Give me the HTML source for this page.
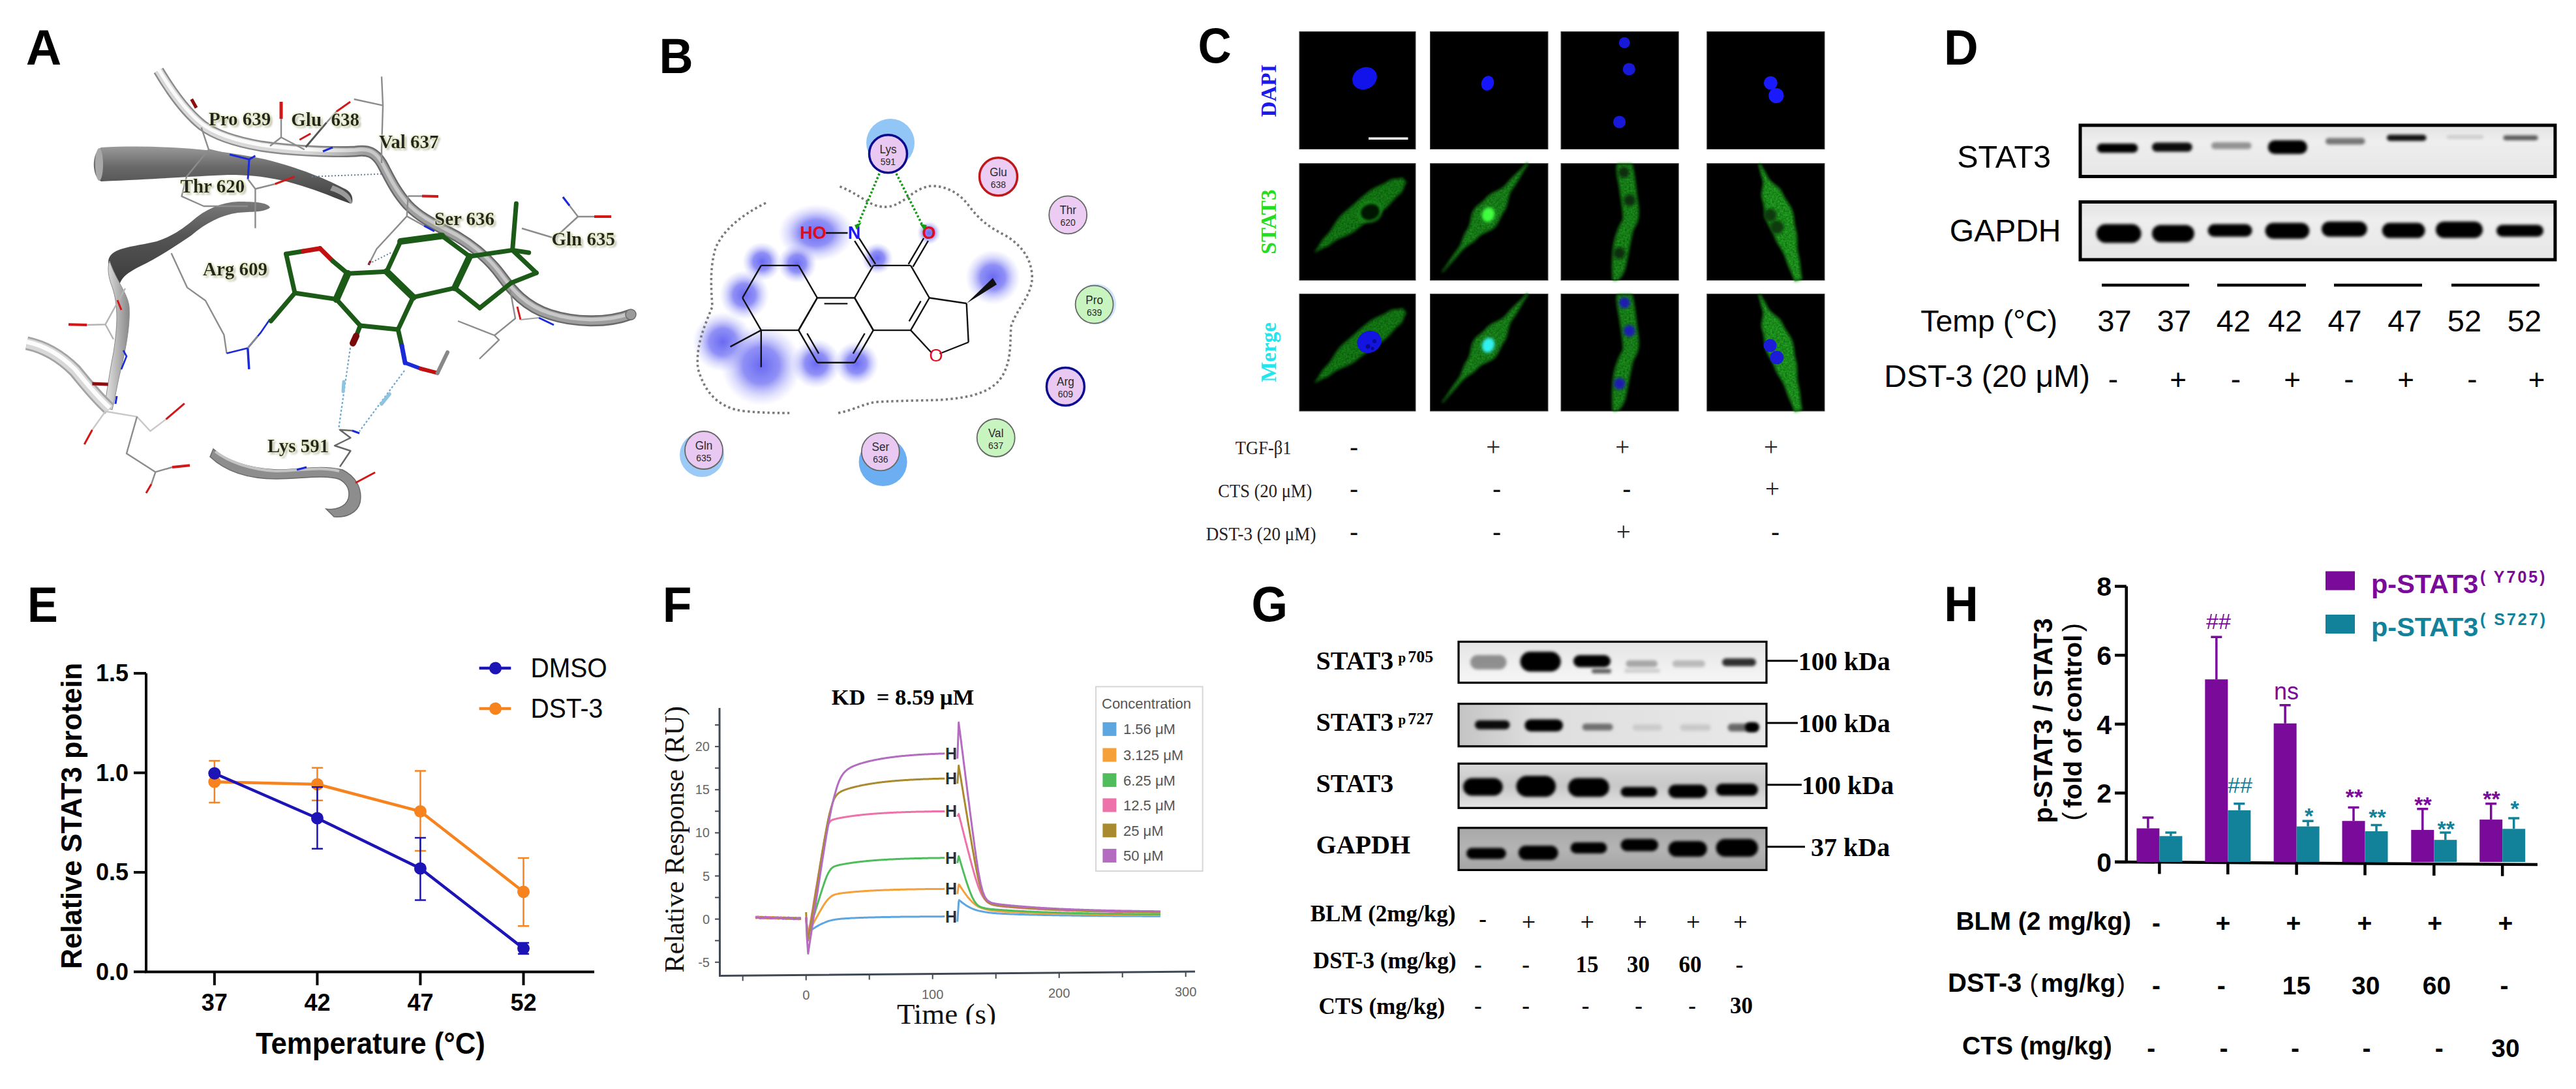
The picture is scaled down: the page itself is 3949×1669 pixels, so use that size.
<!DOCTYPE html>
<html><head><meta charset="utf-8"><style>
html,body{margin:0;padding:0;background:#fff;}
svg{display:block;}
</style></head><body>
<svg width="3949" height="1669" viewBox="0 0 3949 1669">
<defs>
<filter id="bl2" x="-50%" y="-50%" width="200%" height="200%"><feGaussianBlur stdDeviation="2"/></filter>
<filter id="bl3" x="-50%" y="-50%" width="200%" height="200%"><feGaussianBlur stdDeviation="3"/></filter>
<filter id="bl5" x="-50%" y="-50%" width="200%" height="200%"><feGaussianBlur stdDeviation="5"/></filter>
<filter id="bl8" x="-50%" y="-50%" width="200%" height="200%"><feGaussianBlur stdDeviation="8"/></filter>
<linearGradient id="blotD" x1="0" y1="0" x2="0" y2="1"><stop offset="0" stop-color="#e2e2e2"/><stop offset="0.3" stop-color="#eeeeee"/><stop offset="1" stop-color="#e6e6e6"/></linearGradient>
<linearGradient id="gb1" x1="0" y1="0" x2="0" y2="1"><stop offset="0" stop-color="#e4e4e4"/><stop offset="0.5" stop-color="#eeeeee"/><stop offset="1" stop-color="#f6f6f6"/></linearGradient>
<linearGradient id="gb2" x1="0" y1="0" x2="1" y2="0"><stop offset="0" stop-color="#c4c4c4"/><stop offset="0.25" stop-color="#dedede"/><stop offset="1" stop-color="#e8e8e8"/></linearGradient>
<linearGradient id="gb3" x1="0" y1="0" x2="0" y2="1"><stop offset="0" stop-color="#d8d8d8"/><stop offset="0.5" stop-color="#c8c8c8"/><stop offset="1" stop-color="#e4e4e4"/></linearGradient>
<linearGradient id="gb4" x1="0" y1="0" x2="0" y2="1"><stop offset="0" stop-color="#a8a8a8"/><stop offset="0.5" stop-color="#b4b4b4"/><stop offset="1" stop-color="#a4a4a4"/></linearGradient>
<filter id="glow_c" x="-30%" y="-30%" width="160%" height="160%"><feGaussianBlur stdDeviation="2"/></filter>
<filter id="tex" x="0" y="0" width="100%" height="100%"><feTurbulence type="fractalNoise" baseFrequency="0.35" numOctaves="2" seed="3" result="n"/><feColorMatrix in="n" type="matrix" values="0 0 0 0 0  0 0 0 0 0  0 0 0 0 0  0 0 0 -1.6 1.25" result="a"/><feComposite in="SourceGraphic" in2="a" operator="in"/></filter>
<radialGradient id="glowB"><stop offset="0" stop-color="#6262f2" stop-opacity="0.95"/><stop offset="0.45" stop-color="#7474f4" stop-opacity="0.8"/><stop offset="0.75" stop-color="#9a9af8" stop-opacity="0.35"/><stop offset="1" stop-color="#b0b0ff" stop-opacity="0"/></radialGradient>
<linearGradient id="rib1" x1="0" y1="0" x2="0" y2="1"><stop offset="0" stop-color="#9a9a9a"/><stop offset="0.35" stop-color="#6a6a6a"/><stop offset="1" stop-color="#3c3c3c"/></linearGradient>
<linearGradient id="rib2" x1="0" y1="0" x2="0" y2="1"><stop offset="0" stop-color="#7a7a7a"/><stop offset="0.4" stop-color="#555"/><stop offset="1" stop-color="#3a3a3a"/></linearGradient>
<linearGradient id="rib3" x1="0" y1="0" x2="1" y2="0"><stop offset="0" stop-color="#e8e8e8"/><stop offset="0.5" stop-color="#b8b8b8"/><stop offset="1" stop-color="#888"/></linearGradient>
<filter id="lblglow" x="-20%" y="-40%" width="140%" height="180%"><feMorphology in="SourceAlpha" operator="dilate" radius="1.2" result="d"/><feGaussianBlur in="d" stdDeviation="1.6" result="b"/><feFlood flood-color="#e2e8c0"/><feComposite in2="b" operator="in" result="g"/><feOffset in="SourceAlpha" dx="2.5" dy="3" result="o"/><feGaussianBlur in="o" stdDeviation="1.8" result="ob"/><feFlood flood-color="#6a6a55" flood-opacity="0.55"/><feComposite in2="ob" operator="in" result="sh"/><feMerge><feMergeNode in="sh"/><feMergeNode in="g"/><feMergeNode in="SourceGraphic"/></feMerge></filter>
<linearGradient id="tubeg" gradientUnits="userSpaceOnUse" x1="470" y1="0" x2="560" y2="0"><stop offset="0" stop-color="#d8d8d8"/><stop offset="1" stop-color="#9e9e9e"/></linearGradient>
<linearGradient id="tubeg2" gradientUnits="userSpaceOnUse" x1="470" y1="0" x2="560" y2="0"><stop offset="0" stop-color="#8a8a8a"/><stop offset="1" stop-color="#686868"/></linearGradient>
<linearGradient id="tubeg3" gradientUnits="userSpaceOnUse" x1="470" y1="0" x2="560" y2="0"><stop offset="0" stop-color="#fafafa"/><stop offset="1" stop-color="#c8c8c8"/></linearGradient>
</defs>
<rect width="3949" height="1669" fill="#fff"/>
<text x="39.8" y="99.4" font-family="Liberation Sans" font-size="75.5" font-weight="bold" text-anchor="start" fill="#000" >A</text>
<text transform="translate(1010.5,112.0) scale(0.955,1.0)" font-family="Liberation Sans" font-size="75.5" font-weight="bold" text-anchor="start" fill="#000" >B</text>
<text transform="translate(1836.5,96.0) scale(0.94,1.0)" font-family="Liberation Sans" font-size="75.5" font-weight="bold" text-anchor="start" fill="#000" >C</text>
<text transform="translate(2980.0,99.0) scale(0.965,1.0)" font-family="Liberation Sans" font-size="75.5" font-weight="bold" text-anchor="start" fill="#000" >D</text>
<text transform="translate(42.0,952.7) scale(0.93,1.0)" font-family="Liberation Sans" font-size="75.5" font-weight="bold" text-anchor="start" fill="#000" >E</text>
<text transform="translate(1015.7,953.1) scale(0.97,1.0)" font-family="Liberation Sans" font-size="75.5" font-weight="bold" text-anchor="start" fill="#000" >F</text>
<text transform="translate(1918.5,952.0) scale(0.945,1.0)" font-family="Liberation Sans" font-size="75.5" font-weight="bold" text-anchor="start" fill="#000" >G</text>
<text transform="translate(2980.2,951.5) scale(0.963,1.0)" font-family="Liberation Sans" font-size="75.5" font-weight="bold" text-anchor="start" fill="#000" >H</text>
<rect x="3189" y="192" width="728" height="78.5" fill="url(#blotD)" stroke="#000" stroke-width="5"/>
<rect x="3214.7" y="220.0" width="62.6" height="14.0" rx="7.0" ry="7.0" fill="#000" fill-opacity="1.0" filter="url(#bl2)"/>
<rect x="3299.0" y="218.5" width="61.7" height="14.0" rx="7.0" ry="7.0" fill="#000" fill-opacity="0.95" filter="url(#bl2)"/>
<rect x="3390.0" y="218.0" width="61.5" height="10.6" rx="5.3" ry="5.3" fill="#000" fill-opacity="0.38" filter="url(#bl2)"/>
<rect x="3476.7" y="215.0" width="60.3" height="21.0" rx="10.5" ry="10.5" fill="#000" fill-opacity="1.0" filter="url(#bl2)"/>
<rect x="3565.0" y="211.5" width="60.6" height="10.0" rx="5.0" ry="5.0" fill="#000" fill-opacity="0.5" filter="url(#bl2)"/>
<rect x="3659.0" y="206.5" width="60.6" height="9.5" rx="4.8" ry="4.8" fill="#000" fill-opacity="0.92" filter="url(#bl2)"/>
<rect x="3751.0" y="207.4" width="56.0" height="5.4" rx="2.7" ry="2.7" fill="#000" fill-opacity="0.14" filter="url(#bl2)"/>
<rect x="3837.6" y="207.4" width="53.0" height="7.6" rx="3.8" ry="3.8" fill="#000" fill-opacity="0.62" filter="url(#bl2)"/>
<rect x="3189" y="309.5" width="728" height="88.5" fill="url(#blotD)" stroke="#000" stroke-width="5"/>
<rect x="3213.7" y="343.6" width="68.8" height="28.7" rx="14.3" ry="14.3" fill="#000" fill-opacity="1.0" filter="url(#bl2)"/>
<rect x="3299.0" y="344.7" width="64.8" height="26.5" rx="13.2" ry="13.2" fill="#000" fill-opacity="1.0" filter="url(#bl2)"/>
<rect x="3384.6" y="343.6" width="67.8" height="19.1" rx="9.5" ry="9.5" fill="#000" fill-opacity="1.0" filter="url(#bl2)"/>
<rect x="3472.5" y="341.5" width="67.8" height="24.4" rx="12.2" ry="12.2" fill="#000" fill-opacity="1.0" filter="url(#bl2)"/>
<rect x="3559.0" y="339.4" width="69.8" height="23.3" rx="11.7" ry="11.7" fill="#000" fill-opacity="1.0" filter="url(#bl2)"/>
<rect x="3651.8" y="341.5" width="65.7" height="23.3" rx="11.7" ry="11.7" fill="#000" fill-opacity="1.0" filter="url(#bl2)"/>
<rect x="3734.0" y="339.4" width="72.0" height="25.4" rx="12.7" ry="12.7" fill="#000" fill-opacity="1.0" filter="url(#bl2)"/>
<rect x="3827.0" y="344.6" width="72.0" height="18.1" rx="9.0" ry="9.0" fill="#000" fill-opacity="1.0" filter="url(#bl2)"/>
<text x="3144.0" y="256.5" font-family="Liberation Sans" font-size="48.5" font-weight="normal" text-anchor="end" fill="#000" >STAT3</text>
<text x="3159.5" y="369.5" font-family="Liberation Sans" font-size="48" font-weight="normal" text-anchor="end" fill="#000" >GAPDH</text>
<line x1="3222" y1="437" x2="3356" y2="437" stroke="#000" stroke-width="4.5"/>
<line x1="3399" y1="437" x2="3535" y2="437" stroke="#000" stroke-width="4.5"/>
<line x1="3578" y1="437" x2="3713" y2="437" stroke="#000" stroke-width="4.5"/>
<line x1="3758" y1="437" x2="3893" y2="437" stroke="#000" stroke-width="4.5"/>
<text transform="translate(3154.0,508.0) scale(0.99,1.0)" font-family="Liberation Sans" font-size="47" font-weight="normal" text-anchor="end" fill="#000" >Temp (°C)</text>
<text x="3241.5" y="508.0" font-family="Liberation Sans" font-size="47" font-weight="normal" text-anchor="middle" fill="#000" >37</text>
<text x="3333.0" y="508.0" font-family="Liberation Sans" font-size="47" font-weight="normal" text-anchor="middle" fill="#000" >37</text>
<text x="3424.0" y="508.0" font-family="Liberation Sans" font-size="47" font-weight="normal" text-anchor="middle" fill="#000" >42</text>
<text x="3503.0" y="508.0" font-family="Liberation Sans" font-size="47" font-weight="normal" text-anchor="middle" fill="#000" >42</text>
<text x="3594.6" y="508.0" font-family="Liberation Sans" font-size="47" font-weight="normal" text-anchor="middle" fill="#000" >47</text>
<text x="3686.5" y="508.0" font-family="Liberation Sans" font-size="47" font-weight="normal" text-anchor="middle" fill="#000" >47</text>
<text x="3778.0" y="508.0" font-family="Liberation Sans" font-size="47" font-weight="normal" text-anchor="middle" fill="#000" >52</text>
<text x="3870.0" y="508.0" font-family="Liberation Sans" font-size="47" font-weight="normal" text-anchor="middle" fill="#000" >52</text>
<text x="3204.0" y="593.0" font-family="Liberation Sans" font-size="48" font-weight="normal" text-anchor="end" fill="#000" >DST-3 (20 μM)</text>
<text x="3239.5" y="597.0" font-family="Liberation Sans" font-size="46" font-weight="normal" text-anchor="middle" fill="#000" >-</text>
<text x="3339.0" y="597.0" font-family="Liberation Sans" font-size="44" font-weight="normal" text-anchor="middle" fill="#000" >+</text>
<text x="3427.5" y="597.0" font-family="Liberation Sans" font-size="46" font-weight="normal" text-anchor="middle" fill="#000" >-</text>
<text x="3514.0" y="597.0" font-family="Liberation Sans" font-size="44" font-weight="normal" text-anchor="middle" fill="#000" >+</text>
<text x="3601.0" y="597.0" font-family="Liberation Sans" font-size="46" font-weight="normal" text-anchor="middle" fill="#000" >-</text>
<text x="3688.0" y="597.0" font-family="Liberation Sans" font-size="44" font-weight="normal" text-anchor="middle" fill="#000" >+</text>
<text x="3790.0" y="597.0" font-family="Liberation Sans" font-size="46" font-weight="normal" text-anchor="middle" fill="#000" >-</text>
<text x="3888.5" y="597.0" font-family="Liberation Sans" font-size="44" font-weight="normal" text-anchor="middle" fill="#000" >+</text>
<path d="M224 1031.9 V1489.4 H911" fill="none" stroke="#000" stroke-width="4"/>
<line x1="205" y1="1489.4" x2="224" y2="1489.4" stroke="#000" stroke-width="4"/>
<text x="197.0" y="1501.9" font-family="Liberation Sans" font-size="36" font-weight="bold" text-anchor="end" fill="#000" >0.0</text>
<line x1="205" y1="1336.9" x2="224" y2="1336.9" stroke="#000" stroke-width="4"/>
<text x="197.0" y="1349.4" font-family="Liberation Sans" font-size="36" font-weight="bold" text-anchor="end" fill="#000" >0.5</text>
<line x1="205" y1="1184.4" x2="224" y2="1184.4" stroke="#000" stroke-width="4"/>
<text x="197.0" y="1196.9" font-family="Liberation Sans" font-size="36" font-weight="bold" text-anchor="end" fill="#000" >1.0</text>
<line x1="205" y1="1031.9" x2="224" y2="1031.9" stroke="#000" stroke-width="4"/>
<text x="197.0" y="1044.4" font-family="Liberation Sans" font-size="36" font-weight="bold" text-anchor="end" fill="#000" >1.5</text>
<line x1="328.8" y1="1489.4" x2="328.8" y2="1510" stroke="#000" stroke-width="4"/>
<text x="328.8" y="1549.0" font-family="Liberation Sans" font-size="36" font-weight="bold" text-anchor="middle" fill="#000" >37</text>
<line x1="486.4" y1="1489.4" x2="486.4" y2="1510" stroke="#000" stroke-width="4"/>
<text x="486.4" y="1549.0" font-family="Liberation Sans" font-size="36" font-weight="bold" text-anchor="middle" fill="#000" >42</text>
<line x1="644.4" y1="1489.4" x2="644.4" y2="1510" stroke="#000" stroke-width="4"/>
<text x="644.4" y="1549.0" font-family="Liberation Sans" font-size="36" font-weight="bold" text-anchor="middle" fill="#000" >47</text>
<line x1="802.5" y1="1489.4" x2="802.5" y2="1510" stroke="#000" stroke-width="4"/>
<text x="802.5" y="1549.0" font-family="Liberation Sans" font-size="36" font-weight="bold" text-anchor="middle" fill="#000" >52</text>
<text transform="translate(568.0,1614.5) scale(0.93,1.0)" font-family="Liberation Sans" font-size="47" font-weight="bold" text-anchor="middle" fill="#000" >Temperature (°C)</text>
<text x="124.5" y="1250.5" font-family="Liberation Sans" font-size="43.5" font-weight="bold" text-anchor="middle" fill="#000" transform="rotate(-90 124.5 1250.5)">Relative STAT3 protein</text>
<polyline points="328.8,1198.2 486.4,1202 644.4,1243.5 802.5,1366.7" fill="none" stroke="#f7831f" stroke-width="4.5"/><path d="M328.8 1166 V1230 M320.3 1166 H337.3 M320.3 1230 H337.3" stroke="#f7831f" stroke-width="2.5" fill="none"/><path d="M486.4 1176.7 V1226.8 M477.9 1176.7 H494.9 M477.9 1226.8 H494.9" stroke="#f7831f" stroke-width="2.5" fill="none"/><path d="M644.4 1181.4 V1304 M635.9 1181.4 H652.9 M635.9 1304 H652.9" stroke="#f7831f" stroke-width="2.5" fill="none"/><path d="M802.5 1315 V1419.2 M794.0 1315 H811.0 M794.0 1419.2 H811.0" stroke="#f7831f" stroke-width="2.5" fill="none"/><circle cx="328.8" cy="1198.2" r="9.5" fill="#f7831f"/><circle cx="486.4" cy="1202" r="9.5" fill="#f7831f"/><circle cx="644.4" cy="1243.5" r="9.5" fill="#f7831f"/><circle cx="802.5" cy="1366.7" r="9.5" fill="#f7831f"/>
<polyline points="328.8,1185.3 486.4,1254 644.4,1331 802.5,1453.6" fill="none" stroke="#1c14b4" stroke-width="4.5"/><path d="M486.4 1206.3 V1300.8 M477.9 1206.3 H494.9 M477.9 1300.8 H494.9" stroke="#1c14b4" stroke-width="2.5" fill="none"/><path d="M644.4 1284 V1379.6 M635.9 1284 H652.9 M635.9 1379.6 H652.9" stroke="#1c14b4" stroke-width="2.5" fill="none"/><path d="M802.5 1445 V1462 M794.0 1445 H811.0 M794.0 1462 H811.0" stroke="#1c14b4" stroke-width="2.5" fill="none"/><circle cx="328.8" cy="1185.3" r="9.5" fill="#1c14b4"/><circle cx="486.4" cy="1254" r="9.5" fill="#1c14b4"/><circle cx="644.4" cy="1331" r="9.5" fill="#1c14b4"/><circle cx="802.5" cy="1453.6" r="9.5" fill="#1c14b4"/>
<line x1="734.6" y1="1024" x2="783.3" y2="1024" stroke="#1c14b4" stroke-width="4.5"/><circle cx="759.5" cy="1024" r="9.5" fill="#1c14b4"/>
<line x1="734.6" y1="1086" x2="783.3" y2="1086" stroke="#f7831f" stroke-width="4.5"/><circle cx="759.5" cy="1086" r="9.5" fill="#f7831f"/>
<text transform="translate(813.4,1038.2) scale(0.92,1.0)" font-family="Liberation Sans" font-size="42.5" font-weight="normal" text-anchor="start" fill="#000" >DMSO</text>
<text transform="translate(813.4,1100.3) scale(0.92,1.0)" font-family="Liberation Sans" font-size="42.5" font-weight="normal" text-anchor="start" fill="#000" >DST-3</text>
<rect x="2236" y="983.5" width="472" height="62.8" fill="url(#gb1)" stroke="#000" stroke-width="3.2"/>
<rect x="2236" y="1078.6" width="472" height="65.2" fill="url(#gb2)" stroke="#000" stroke-width="3.2"/>
<rect x="2236" y="1170.3" width="472" height="68.0" fill="url(#gb3)" stroke="#000" stroke-width="3.2"/>
<rect x="2236" y="1268.8" width="472" height="64.6" fill="url(#gb4)" stroke="#000" stroke-width="3.2"/>
<rect x="2254.0" y="1004.0" width="55.5" height="22.0" rx="11.0" ry="11.0" fill="#000" fill-opacity="0.4" filter="url(#bl2)"/>
<rect x="2330.5" y="998.8" width="62.2" height="30.5" rx="15.2" ry="15.2" fill="#000" fill-opacity="1.0" filter="url(#bl2)"/>
<rect x="2412.0" y="1003.9" width="57.0" height="18.7" rx="9.4" ry="9.4" fill="#000" fill-opacity="1.0" filter="url(#bl2)"/>
<rect x="2492.4" y="1012.0" width="48.6" height="10.6" rx="5.3" ry="5.3" fill="#000" fill-opacity="0.3" filter="url(#bl2)"/>
<rect x="2563.7" y="1012.0" width="50.3" height="10.6" rx="5.3" ry="5.3" fill="#000" fill-opacity="0.22" filter="url(#bl2)"/>
<rect x="2640.0" y="1009.0" width="52.0" height="11.9" rx="5.9" ry="5.9" fill="#000" fill-opacity="0.8" filter="url(#bl2)"/>
<rect x="2440.0" y="1025.0" width="30.0" height="7.0" rx="3.5" ry="3.5" fill="#000" fill-opacity="0.6" filter="url(#bl2)"/>
<rect x="2490.0" y="1025.0" width="55.0" height="6.0" rx="3.0" ry="3.0" fill="#000" fill-opacity="0.15" filter="url(#bl2)"/>
<rect x="2260.9" y="1104.0" width="53.7" height="13.7" rx="6.9" ry="6.9" fill="#000" fill-opacity="0.95" filter="url(#bl2)"/>
<rect x="2337.3" y="1102.4" width="58.7" height="18.6" rx="9.3" ry="9.3" fill="#000" fill-opacity="1.0" filter="url(#bl2)"/>
<rect x="2425.6" y="1109.0" width="47.0" height="10.4" rx="5.2" ry="5.2" fill="#000" fill-opacity="0.5" filter="url(#bl2)"/>
<rect x="2502.6" y="1110.0" width="45.2" height="10.0" rx="5.0" ry="5.0" fill="#000" fill-opacity="0.1" filter="url(#bl2)"/>
<rect x="2575.6" y="1110.0" width="46.9" height="10.0" rx="5.0" ry="5.0" fill="#000" fill-opacity="0.12" filter="url(#bl2)"/>
<rect x="2648.6" y="1109.0" width="45.4" height="12.0" rx="6.0" ry="6.0" fill="#000" fill-opacity="0.55" filter="url(#bl2)"/>
<rect x="2675.0" y="1107.0" width="22.0" height="15.0" rx="7.3" ry="7.5" fill="#000" fill-opacity="1.0" filter="url(#bl2)"/>
<rect x="2243.0" y="1192.4" width="60.7" height="27.2" rx="13.6" ry="13.6" fill="#000" fill-opacity="1.0" filter="url(#bl2)"/>
<rect x="2324.4" y="1189.0" width="60.6" height="32.3" rx="16.1" ry="16.1" fill="#000" fill-opacity="1.0" filter="url(#bl2)"/>
<rect x="2404.0" y="1192.4" width="62.8" height="28.9" rx="14.4" ry="14.4" fill="#000" fill-opacity="1.0" filter="url(#bl2)"/>
<rect x="2484.6" y="1206.0" width="55.7" height="15.3" rx="7.6" ry="7.6" fill="#000" fill-opacity="1.0" filter="url(#bl2)"/>
<rect x="2557.6" y="1202.6" width="59.2" height="20.4" rx="10.2" ry="10.2" fill="#000" fill-opacity="1.0" filter="url(#bl2)"/>
<rect x="2630.6" y="1201.0" width="64.4" height="18.6" rx="9.3" ry="9.3" fill="#000" fill-opacity="1.0" filter="url(#bl2)"/>
<rect x="2248.0" y="1299.4" width="60.8" height="17.0" rx="8.5" ry="8.5" fill="#000" fill-opacity="1.0" filter="url(#bl2)"/>
<rect x="2327.8" y="1296.0" width="60.8" height="22.0" rx="11.0" ry="11.0" fill="#000" fill-opacity="1.0" filter="url(#bl2)"/>
<rect x="2407.6" y="1291.0" width="55.8" height="17.0" rx="8.5" ry="8.5" fill="#000" fill-opacity="1.0" filter="url(#bl2)"/>
<rect x="2484.6" y="1285.8" width="57.4" height="18.7" rx="9.4" ry="9.4" fill="#000" fill-opacity="1.0" filter="url(#bl2)"/>
<rect x="2557.6" y="1289.0" width="59.2" height="24.0" rx="12.0" ry="12.0" fill="#000" fill-opacity="1.0" filter="url(#bl2)"/>
<rect x="2630.6" y="1285.8" width="64.4" height="27.2" rx="13.6" ry="13.6" fill="#000" fill-opacity="1.0" filter="url(#bl2)"/>
<text x="2017.6" y="1025.9" font-family="Liberation Serif" font-size="40" font-weight="bold" text-anchor="start" fill="#000" >STAT3</text>
<text x="2143.5" y="1015.3" font-family="Liberation Serif" font-size="26" font-weight="bold" text-anchor="start" fill="#000" ><tspan font-size="21">p</tspan><tspan dx="3">705</tspan></text>
<text x="2017.6" y="1120.0" font-family="Liberation Serif" font-size="40" font-weight="bold" text-anchor="start" fill="#000" >STAT3</text>
<text x="2143.5" y="1110.0" font-family="Liberation Serif" font-size="26" font-weight="bold" text-anchor="start" fill="#000" ><tspan font-size="21">p</tspan><tspan dx="3">727</tspan></text>
<text x="2017.6" y="1214.0" font-family="Liberation Serif" font-size="40" font-weight="bold" text-anchor="start" fill="#000" >STAT3</text>
<text x="2017.6" y="1308.0" font-family="Liberation Serif" font-size="40" font-weight="bold" text-anchor="start" fill="#000" >GAPDH</text>
<line x1="2708" y1="1012.7" x2="2756" y2="1012.7" stroke="#000" stroke-width="3"/>
<text x="2756.7" y="1026.7" font-family="Liberation Serif" font-size="40" font-weight="bold" text-anchor="start" fill="#000" >100 kDa</text>
<line x1="2708" y1="1108" x2="2756" y2="1108" stroke="#000" stroke-width="3"/>
<text x="2756.7" y="1122.0" font-family="Liberation Serif" font-size="40" font-weight="bold" text-anchor="start" fill="#000" >100 kDa</text>
<line x1="2708" y1="1202.8" x2="2762" y2="1202.8" stroke="#000" stroke-width="3"/>
<text x="2762.0" y="1216.8" font-family="Liberation Serif" font-size="40" font-weight="bold" text-anchor="start" fill="#000" >100 kDa</text>
<line x1="2708" y1="1297.7" x2="2767" y2="1297.7" stroke="#000" stroke-width="3"/>
<text x="2776.0" y="1311.7" font-family="Liberation Serif" font-size="40" font-weight="bold" text-anchor="start" fill="#000" >37 kDa</text>
<text x="2008.7" y="1411.7" font-family="Liberation Serif" font-size="35" font-weight="bold" text-anchor="start" fill="#000" >BLM (2mg/kg)</text>
<text x="2013.0" y="1483.5" font-family="Liberation Serif" font-size="35" font-weight="bold" text-anchor="start" fill="#000" >DST-3 (mg/kg)</text>
<text x="2021.6" y="1554.0" font-family="Liberation Serif" font-size="35" font-weight="bold" text-anchor="start" fill="#000" >CTS (mg/kg)</text>
<text x="2273.0" y="1420.0" font-family="Liberation Serif" font-size="35" font-weight="bold" text-anchor="middle" fill="#000" >-</text>
<text x="2343.4" y="1426.0" font-family="Liberation Serif" font-size="38" font-weight="normal" text-anchor="middle" fill="#000" >+</text>
<text x="2433.3" y="1426.0" font-family="Liberation Serif" font-size="38" font-weight="normal" text-anchor="middle" fill="#000" >+</text>
<text x="2514.3" y="1426.0" font-family="Liberation Serif" font-size="38" font-weight="normal" text-anchor="middle" fill="#000" >+</text>
<text x="2595.6" y="1426.0" font-family="Liberation Serif" font-size="38" font-weight="normal" text-anchor="middle" fill="#000" >+</text>
<text x="2668.0" y="1426.0" font-family="Liberation Serif" font-size="38" font-weight="normal" text-anchor="middle" fill="#000" >+</text>
<text x="2265.8" y="1489.8" font-family="Liberation Serif" font-size="35" font-weight="bold" text-anchor="middle" fill="#000" >-</text>
<text x="2339.0" y="1489.8" font-family="Liberation Serif" font-size="35" font-weight="bold" text-anchor="middle" fill="#000" >-</text>
<text x="2433.0" y="1489.8" font-family="Liberation Serif" font-size="35" font-weight="bold" text-anchor="middle" fill="#000" >15</text>
<text x="2511.5" y="1489.8" font-family="Liberation Serif" font-size="35" font-weight="bold" text-anchor="middle" fill="#000" >30</text>
<text x="2591.0" y="1489.8" font-family="Liberation Serif" font-size="35" font-weight="bold" text-anchor="middle" fill="#000" >60</text>
<text x="2666.6" y="1489.8" font-family="Liberation Serif" font-size="35" font-weight="bold" text-anchor="middle" fill="#000" >-</text>
<text x="2265.8" y="1552.5" font-family="Liberation Serif" font-size="35" font-weight="bold" text-anchor="middle" fill="#000" >-</text>
<text x="2339.0" y="1552.5" font-family="Liberation Serif" font-size="35" font-weight="bold" text-anchor="middle" fill="#000" >-</text>
<text x="2430.5" y="1552.5" font-family="Liberation Serif" font-size="35" font-weight="bold" text-anchor="middle" fill="#000" >-</text>
<text x="2512.0" y="1552.5" font-family="Liberation Serif" font-size="35" font-weight="bold" text-anchor="middle" fill="#000" >-</text>
<text x="2594.0" y="1552.5" font-family="Liberation Serif" font-size="35" font-weight="bold" text-anchor="middle" fill="#000" >-</text>
<text x="2669.5" y="1552.5" font-family="Liberation Serif" font-size="35" font-weight="bold" text-anchor="middle" fill="#000" >30</text>
<path d="M3259.7 898.6 V1321" stroke="#000" stroke-width="4.5" fill="none"/>
<path d="M3242 1321 L3890 1325" stroke="#000" stroke-width="4.5" fill="none"/>
<line x1="3242" y1="1321.0" x2="3259.7" y2="1321.0" stroke="#000" stroke-width="4.5"/>
<text x="3237.0" y="1335.8" font-family="Liberation Sans" font-size="41" font-weight="bold" text-anchor="end" fill="#000" >0</text>
<line x1="3242" y1="1215.4" x2="3259.7" y2="1215.4" stroke="#000" stroke-width="4.5"/>
<text x="3237.0" y="1230.2" font-family="Liberation Sans" font-size="41" font-weight="bold" text-anchor="end" fill="#000" >2</text>
<line x1="3242" y1="1109.8" x2="3259.7" y2="1109.8" stroke="#000" stroke-width="4.5"/>
<text x="3237.0" y="1124.6" font-family="Liberation Sans" font-size="41" font-weight="bold" text-anchor="end" fill="#000" >4</text>
<line x1="3242" y1="1004.2" x2="3259.7" y2="1004.2" stroke="#000" stroke-width="4.5"/>
<text x="3237.0" y="1019.0" font-family="Liberation Sans" font-size="41" font-weight="bold" text-anchor="end" fill="#000" >6</text>
<line x1="3242" y1="898.6" x2="3259.7" y2="898.6" stroke="#000" stroke-width="4.5"/>
<text x="3237.0" y="913.4" font-family="Liberation Sans" font-size="41" font-weight="bold" text-anchor="end" fill="#000" >8</text>
<line x1="3310.4" y1="1321.4" x2="3310.4" y2="1339.4" stroke="#000" stroke-width="4.5"/>
<line x1="3415.3" y1="1322.1" x2="3415.3" y2="1340.1" stroke="#000" stroke-width="4.5"/>
<line x1="3520.6" y1="1322.7" x2="3520.6" y2="1340.7" stroke="#000" stroke-width="4.5"/>
<line x1="3625.5" y1="1323.4" x2="3625.5" y2="1341.4" stroke="#000" stroke-width="4.5"/>
<line x1="3731.3" y1="1324.0" x2="3731.3" y2="1342.0" stroke="#000" stroke-width="4.5"/>
<line x1="3836.2" y1="1324.7" x2="3836.2" y2="1342.7" stroke="#000" stroke-width="4.5"/>
<path d="M3292.9 1269.5 V1252.9 M3284.4 1252.9 H3301.4" stroke="#7a0a9a" stroke-width="3.5" fill="none"/>
<rect x="3275.4" y="1269.5" width="35" height="51.5" fill="#7a0a9a"/>
<path d="M3327.9 1281.4 V1276.1 M3319.4 1276.1 H3336.4" stroke="#12829a" stroke-width="3.5" fill="none"/>
<rect x="3310.4" y="1281.4" width="35" height="39.6" fill="#12829a"/>
<path d="M3397.8 1041.2 V976.2 M3389.3 976.2 H3406.3" stroke="#7a0a9a" stroke-width="3.5" fill="none"/>
<rect x="3380.3" y="1041.2" width="35" height="279.8" fill="#7a0a9a"/>
<path d="M3432.8 1241.8 V1231.8 M3424.3 1231.8 H3441.3" stroke="#12829a" stroke-width="3.5" fill="none"/>
<rect x="3415.3" y="1241.8" width="35" height="79.2" fill="#12829a"/>
<path d="M3503.1 1108.7 V1080.8 M3494.6 1080.8 H3511.6" stroke="#7a0a9a" stroke-width="3.5" fill="none"/>
<rect x="3485.6" y="1108.7" width="35" height="212.3" fill="#7a0a9a"/>
<path d="M3538.1 1266.6 V1258.2 M3529.6 1258.2 H3546.6" stroke="#12829a" stroke-width="3.5" fill="none"/>
<rect x="3520.6" y="1266.6" width="35" height="54.4" fill="#12829a"/>
<path d="M3608.0 1258.2 V1237.6 M3599.5 1237.6 H3616.5" stroke="#7a0a9a" stroke-width="3.5" fill="none"/>
<rect x="3590.5" y="1258.2" width="35" height="62.8" fill="#7a0a9a"/>
<path d="M3643.0 1274.0 V1264.5 M3634.5 1264.5 H3651.5" stroke="#12829a" stroke-width="3.5" fill="none"/>
<rect x="3625.5" y="1274.0" width="35" height="47.0" fill="#12829a"/>
<path d="M3713.8 1271.9 V1239.7 M3705.3 1239.7 H3722.3" stroke="#7a0a9a" stroke-width="3.5" fill="none"/>
<rect x="3696.3" y="1271.9" width="35" height="49.1" fill="#7a0a9a"/>
<path d="M3748.8 1287.2 V1276.1 M3740.3 1276.1 H3757.3" stroke="#12829a" stroke-width="3.5" fill="none"/>
<rect x="3731.3" y="1287.2" width="35" height="33.8" fill="#12829a"/>
<path d="M3818.7 1256.1 V1231.8 M3810.2 1231.8 H3827.2" stroke="#7a0a9a" stroke-width="3.5" fill="none"/>
<rect x="3801.2" y="1256.1" width="35" height="64.9" fill="#7a0a9a"/>
<path d="M3853.7 1270.3 V1253.9 M3845.2 1253.9 H3862.2" stroke="#12829a" stroke-width="3.5" fill="none"/>
<rect x="3836.2" y="1270.3" width="35" height="50.7" fill="#12829a"/>
<text x="3401.0" y="963.7" font-family="Liberation Sans" font-size="34" font-weight="normal" text-anchor="middle" fill="#7a0a9a" >##</text>
<text x="3434.0" y="1215.0" font-family="Liberation Sans" font-size="34" font-weight="normal" text-anchor="middle" fill="#12829a" >##</text>
<text x="3505.0" y="1071.7" font-family="Liberation Sans" font-size="36" font-weight="normal" text-anchor="middle" fill="#7a0a9a" >ns</text>
<text x="3539.5" y="1262.0" font-family="Liberation Sans" font-size="34" font-weight="bold" text-anchor="middle" fill="#12829a" >*</text>
<text x="3609.0" y="1233.0" font-family="Liberation Sans" font-size="34" font-weight="bold" text-anchor="middle" fill="#7a0a9a" >**</text>
<text x="3644.5" y="1264.0" font-family="Liberation Sans" font-size="34" font-weight="bold" text-anchor="middle" fill="#12829a" >**</text>
<text x="3714.5" y="1245.0" font-family="Liberation Sans" font-size="34" font-weight="bold" text-anchor="middle" fill="#7a0a9a" >**</text>
<text x="3749.7" y="1282.0" font-family="Liberation Sans" font-size="34" font-weight="bold" text-anchor="middle" fill="#12829a" >**</text>
<text x="3819.5" y="1236.0" font-family="Liberation Sans" font-size="34" font-weight="bold" text-anchor="middle" fill="#7a0a9a" >**</text>
<text x="3855.0" y="1251.0" font-family="Liberation Sans" font-size="34" font-weight="bold" text-anchor="middle" fill="#12829a" >*</text>
<rect x="3565" y="875.5" width="45" height="29" fill="#7a0a9a"/>
<rect x="3565" y="942" width="45" height="29" fill="#12829a"/>
<text x="3635.0" y="908.8" font-family="Liberation Sans" font-size="41.5" font-weight="bold" text-anchor="start" fill="#7a0a9a" >p-STAT3</text>
<text x="3635.0" y="975.0" font-family="Liberation Sans" font-size="41.5" font-weight="bold" text-anchor="start" fill="#12829a" >p-STAT3</text>
<text x="3802.0" y="893.0" font-family="Liberation Sans" font-size="25" font-weight="bold" text-anchor="start" fill="#7a0a9a" letter-spacing="3">( Y705)</text>
<text x="3802.0" y="958.0" font-family="Liberation Sans" font-size="25" font-weight="bold" text-anchor="start" fill="#12829a" letter-spacing="3">( S727)</text>
<text x="3146.0" y="1104.5" font-family="Liberation Sans" font-size="40.2" font-weight="bold" text-anchor="middle" fill="#000" transform="rotate(-90 3146 1104.5)">p-STAT3 / STAT3</text>
<g transform="translate(3190.5,1257.8) rotate(-90)"><text x="0.0" y="0.0" font-family="Liberation Sans" font-size="40" font-weight="normal" text-anchor="start" fill="#000" >(</text><text x="19.5" y="0.0" font-family="Liberation Sans" font-size="39.5" font-weight="bold" text-anchor="start" fill="#000" >fold of control</text><text x="289.5" y="0.0" font-family="Liberation Sans" font-size="40" font-weight="normal" text-anchor="start" fill="#000" >)</text></g>
<text x="2998.4" y="1425.2" font-family="Liberation Sans" font-size="39" font-weight="bold" text-anchor="start" fill="#000" >BLM (2 mg/kg)</text>
<text x="2986.0" y="1520.4" font-family="Liberation Sans" font-size="40" font-weight="bold" text-anchor="start" fill="#000" >DST-3</text>
<text x="3111.5" y="1520.4" font-family="Liberation Sans" font-size="39" font-weight="normal" text-anchor="start" fill="#000" >(</text>
<text x="3128.5" y="1520.4" font-family="Liberation Sans" font-size="39" font-weight="bold" text-anchor="start" fill="#000" >mg/kg</text>
<text x="3245.0" y="1520.4" font-family="Liberation Sans" font-size="39" font-weight="normal" text-anchor="start" fill="#000" >)</text>
<text x="3008.0" y="1615.6" font-family="Liberation Sans" font-size="39" font-weight="bold" text-anchor="start" fill="#000" >CTS (mg/kg)</text>
<text x="3305.5" y="1428.0" font-family="Liberation Sans" font-size="39" font-weight="bold" text-anchor="middle" fill="#000" >-</text>
<text x="3408.0" y="1428.0" font-family="Liberation Sans" font-size="39" font-weight="bold" text-anchor="middle" fill="#000" >+</text>
<text x="3515.9" y="1428.0" font-family="Liberation Sans" font-size="39" font-weight="bold" text-anchor="middle" fill="#000" >+</text>
<text x="3624.9" y="1428.0" font-family="Liberation Sans" font-size="39" font-weight="bold" text-anchor="middle" fill="#000" >+</text>
<text x="3732.7" y="1428.0" font-family="Liberation Sans" font-size="39" font-weight="bold" text-anchor="middle" fill="#000" >+</text>
<text x="3841.0" y="1428.0" font-family="Liberation Sans" font-size="39" font-weight="bold" text-anchor="middle" fill="#000" >+</text>
<text x="3305.5" y="1523.5" font-family="Liberation Sans" font-size="39" font-weight="bold" text-anchor="middle" fill="#000" >-</text>
<text x="3405.3" y="1523.5" font-family="Liberation Sans" font-size="39" font-weight="bold" text-anchor="middle" fill="#000" >-</text>
<text x="3520.5" y="1523.5" font-family="Liberation Sans" font-size="39" font-weight="bold" text-anchor="middle" fill="#000" >15</text>
<text x="3626.8" y="1523.5" font-family="Liberation Sans" font-size="39" font-weight="bold" text-anchor="middle" fill="#000" >30</text>
<text x="3735.4" y="1523.5" font-family="Liberation Sans" font-size="39" font-weight="bold" text-anchor="middle" fill="#000" >60</text>
<text x="3839.0" y="1523.5" font-family="Liberation Sans" font-size="39" font-weight="bold" text-anchor="middle" fill="#000" >-</text>
<text x="3297.8" y="1620.2" font-family="Liberation Sans" font-size="39" font-weight="bold" text-anchor="middle" fill="#000" >-</text>
<text x="3409.0" y="1620.2" font-family="Liberation Sans" font-size="39" font-weight="bold" text-anchor="middle" fill="#000" >-</text>
<text x="3518.5" y="1620.2" font-family="Liberation Sans" font-size="39" font-weight="bold" text-anchor="middle" fill="#000" >-</text>
<text x="3628.0" y="1620.2" font-family="Liberation Sans" font-size="39" font-weight="bold" text-anchor="middle" fill="#000" >-</text>
<text x="3739.3" y="1620.2" font-family="Liberation Sans" font-size="39" font-weight="bold" text-anchor="middle" fill="#000" >-</text>
<text x="3841.0" y="1620.2" font-family="Liberation Sans" font-size="39" font-weight="bold" text-anchor="middle" fill="#000" >30</text>
<rect x="1992" y="48.5" width="178.0" height="180.0" fill="#000" stroke="#444" stroke-width="1"/>
<rect x="2192.5" y="48.5" width="180.5" height="180.0" fill="#000" stroke="#444" stroke-width="1"/>
<rect x="2393" y="48.5" width="180.2" height="180.0" fill="#000" stroke="#444" stroke-width="1"/>
<rect x="2616.8" y="48.5" width="180.2" height="180.0" fill="#000" stroke="#444" stroke-width="1"/>
<rect x="1992" y="250.6" width="178.0" height="178.9" fill="#000" stroke="#444" stroke-width="1"/>
<rect x="2192.5" y="250.6" width="180.5" height="178.9" fill="#000" stroke="#444" stroke-width="1"/>
<rect x="2393" y="250.6" width="180.2" height="178.9" fill="#000" stroke="#444" stroke-width="1"/>
<rect x="2616.8" y="250.6" width="180.2" height="178.9" fill="#000" stroke="#444" stroke-width="1"/>
<rect x="1992" y="450.6" width="178.0" height="179.4" fill="#000" stroke="#444" stroke-width="1"/>
<rect x="2192.5" y="450.6" width="180.5" height="179.4" fill="#000" stroke="#444" stroke-width="1"/>
<rect x="2393" y="450.6" width="180.2" height="179.4" fill="#000" stroke="#444" stroke-width="1"/>
<rect x="2616.8" y="450.6" width="180.2" height="179.4" fill="#000" stroke="#444" stroke-width="1"/>
<g transform="translate(0,0)"><path d="M2016.6 386.8 L2020.2 384.2 L2024.1 382.1 L2028.3 380.3 L2032.6 378.6 L2036.5 376.5 L2040.1 373.9 L2043.5 371.2 L2047.2 368.8 L2051.1 366.6 L2055.3 364.7 L2059.4 362.9 L2063.7 361.2 L2067.8 359.3 L2071.8 357.2 L2075.5 354.9 L2079.0 352.3 L2082.4 349.5 L2085.9 346.8 L2089.4 344.1 L2093.0 341.5 L2096.5 339.0 L2100.1 336.4 L2103.8 333.9 L2107.4 331.4 L2111.0 328.9 L2114.6 326.3 L2118.1 323.8 L2121.6 321.1 L2125.0 318.4 L2128.2 315.3 L2131.3 312.1 L2134.2 308.7 L2137.1 305.4 L2140.2 302.1 L2143.4 299.1 L2146.9 296.4 L2149.7 292.9 L2151.5 288.2 L2153.3 283.4 L2156.1 279.9 L2149.9 272.1 L2145.6 273.8 L2140.2 274.1 L2134.9 274.5 L2130.6 276.1 L2126.9 278.6 L2123.0 280.7 L2118.9 282.7 L2114.8 284.5 L2110.7 286.4 L2106.6 288.4 L2102.7 290.6 L2099.1 293.1 L2095.6 295.7 L2092.2 298.5 L2088.8 301.3 L2085.5 304.1 L2082.1 307.0 L2078.9 309.9 L2075.6 312.9 L2072.3 315.8 L2069.0 318.7 L2065.7 321.6 L2062.4 324.5 L2059.0 327.3 L2055.8 330.3 L2052.8 333.6 L2050.1 337.2 L2047.5 341.1 L2045.0 345.0 L2042.6 349.0 L2040.1 352.8 L2037.4 356.5 L2034.5 359.9 L2031.3 363.0 L2028.3 366.2 L2025.7 370.0 L2023.3 374.1 L2021.0 378.2 L2018.4 382.0 L2015.4 385.2 Z" fill="#188418" filter="url(#glow_c)"/><path d="M2016.6 386.8 L2020.2 384.2 L2024.1 382.1 L2028.3 380.3 L2032.6 378.6 L2036.5 376.5 L2040.1 373.9 L2043.5 371.2 L2047.2 368.8 L2051.1 366.6 L2055.3 364.7 L2059.4 362.9 L2063.7 361.2 L2067.8 359.3 L2071.8 357.2 L2075.5 354.9 L2079.0 352.3 L2082.4 349.5 L2085.9 346.8 L2089.4 344.1 L2093.0 341.5 L2096.5 339.0 L2100.1 336.4 L2103.8 333.9 L2107.4 331.4 L2111.0 328.9 L2114.6 326.3 L2118.1 323.8 L2121.6 321.1 L2125.0 318.4 L2128.2 315.3 L2131.3 312.1 L2134.2 308.7 L2137.1 305.4 L2140.2 302.1 L2143.4 299.1 L2146.9 296.4 L2149.7 292.9 L2151.5 288.2 L2153.3 283.4 L2156.1 279.9 L2149.9 272.1 L2145.6 273.8 L2140.2 274.1 L2134.9 274.5 L2130.6 276.1 L2126.9 278.6 L2123.0 280.7 L2118.9 282.7 L2114.8 284.5 L2110.7 286.4 L2106.6 288.4 L2102.7 290.6 L2099.1 293.1 L2095.6 295.7 L2092.2 298.5 L2088.8 301.3 L2085.5 304.1 L2082.1 307.0 L2078.9 309.9 L2075.6 312.9 L2072.3 315.8 L2069.0 318.7 L2065.7 321.6 L2062.4 324.5 L2059.0 327.3 L2055.8 330.3 L2052.8 333.6 L2050.1 337.2 L2047.5 341.1 L2045.0 345.0 L2042.6 349.0 L2040.1 352.8 L2037.4 356.5 L2034.5 359.9 L2031.3 363.0 L2028.3 366.2 L2025.7 370.0 L2023.3 374.1 L2021.0 378.2 L2018.4 382.0 L2015.4 385.2 Z" fill="#062406" opacity="0.45" filter="url(#tex)"/><path d="M2211.8 417.6 L2215.1 413.5 L2218.6 409.4 L2222.1 405.5 L2225.7 401.5 L2229.2 397.6 L2232.8 393.6 L2236.2 389.6 L2239.6 385.5 L2243.2 381.6 L2247.5 378.2 L2252.1 375.1 L2256.8 372.0 L2261.1 368.6 L2264.7 364.7 L2268.6 361.0 L2273.4 358.1 L2278.9 355.6 L2284.3 353.1 L2289.2 350.2 L2293.0 346.5 L2296.0 342.0 L2298.4 337.2 L2300.7 332.2 L2303.2 327.5 L2306.2 323.1 L2308.8 318.4 L2310.5 313.0 L2311.7 307.2 L2313.0 301.4 L2314.7 296.0 L2317.3 291.3 L2320.4 287.0 L2323.4 282.7 L2326.3 278.1 L2329.0 273.5 L2331.6 268.8 L2334.3 264.2 L2337.1 259.6 L2340.0 255.2 L2343.2 250.9 L2340.8 249.1 L2337.4 253.2 L2333.8 257.1 L2330.1 260.9 L2326.2 264.6 L2322.3 268.3 L2318.4 272.0 L2314.7 275.8 L2311.2 279.8 L2307.8 283.9 L2303.8 287.5 L2299.0 290.4 L2293.7 293.0 L2288.3 295.6 L2283.5 298.5 L2279.5 302.1 L2276.0 306.1 L2272.0 309.7 L2267.7 313.1 L2263.6 316.6 L2260.0 320.5 L2257.3 325.2 L2255.6 330.6 L2254.5 336.5 L2253.4 342.3 L2251.7 347.7 L2249.0 352.4 L2246.1 356.8 L2243.8 361.8 L2241.9 367.1 L2240.0 372.3 L2237.7 377.3 L2234.8 381.7 L2231.6 386.0 L2228.5 390.3 L2225.5 394.7 L2222.5 399.1 L2219.6 403.5 L2216.5 407.9 L2213.4 412.2 L2210.2 416.4 Z" fill="#1a8e1a" filter="url(#glow_c)"/><path d="M2211.8 417.6 L2215.1 413.5 L2218.6 409.4 L2222.1 405.5 L2225.7 401.5 L2229.2 397.6 L2232.8 393.6 L2236.2 389.6 L2239.6 385.5 L2243.2 381.6 L2247.5 378.2 L2252.1 375.1 L2256.8 372.0 L2261.1 368.6 L2264.7 364.7 L2268.6 361.0 L2273.4 358.1 L2278.9 355.6 L2284.3 353.1 L2289.2 350.2 L2293.0 346.5 L2296.0 342.0 L2298.4 337.2 L2300.7 332.2 L2303.2 327.5 L2306.2 323.1 L2308.8 318.4 L2310.5 313.0 L2311.7 307.2 L2313.0 301.4 L2314.7 296.0 L2317.3 291.3 L2320.4 287.0 L2323.4 282.7 L2326.3 278.1 L2329.0 273.5 L2331.6 268.8 L2334.3 264.2 L2337.1 259.6 L2340.0 255.2 L2343.2 250.9 L2340.8 249.1 L2337.4 253.2 L2333.8 257.1 L2330.1 260.9 L2326.2 264.6 L2322.3 268.3 L2318.4 272.0 L2314.7 275.8 L2311.2 279.8 L2307.8 283.9 L2303.8 287.5 L2299.0 290.4 L2293.7 293.0 L2288.3 295.6 L2283.5 298.5 L2279.5 302.1 L2276.0 306.1 L2272.0 309.7 L2267.7 313.1 L2263.6 316.6 L2260.0 320.5 L2257.3 325.2 L2255.6 330.6 L2254.5 336.5 L2253.4 342.3 L2251.7 347.7 L2249.0 352.4 L2246.1 356.8 L2243.8 361.8 L2241.9 367.1 L2240.0 372.3 L2237.7 377.3 L2234.8 381.7 L2231.6 386.0 L2228.5 390.3 L2225.5 394.7 L2222.5 399.1 L2219.6 403.5 L2216.5 407.9 L2213.4 412.2 L2210.2 416.4 Z" fill="#062406" opacity="0.45" filter="url(#tex)"/><path d="M2479 251 L2502 251 C2507 270 2508 290 2511 310 C2514 330 2512 340 2504 352 C2499 370 2496 392 2492 410 C2489 420 2484 428 2478 430 L2472 430 C2471 410 2471 390 2474 372 C2477 358 2482 346 2488 336 C2488 320 2484 300 2482 285 C2479 270 2477 260 2479 251 Z" fill="#1a921a" filter="url(#glow_c)"/><path d="M2479 251 L2502 251 C2507 270 2508 290 2511 310 C2514 330 2512 340 2504 352 C2499 370 2496 392 2492 410 C2489 420 2484 428 2478 430 L2472 430 C2471 410 2471 390 2474 372 C2477 358 2482 346 2488 336 C2488 320 2484 300 2482 285 C2479 270 2477 260 2479 251 Z" fill="#062406" opacity="0.45" filter="url(#tex)"/><path d="M2695.6 251.5 L2697.1 255.9 L2698.3 260.5 L2699.3 265.2 L2700.5 269.7 L2702.1 274.2 L2703.0 278.9 L2702.7 283.9 L2701.7 289.2 L2700.8 294.5 L2700.5 299.6 L2701.2 304.3 L2702.7 308.8 L2703.8 313.4 L2704.5 318.2 L2705.0 323.0 L2705.6 327.7 L2706.5 332.4 L2707.8 337.0 L2709.6 341.3 L2711.8 345.6 L2714.3 349.7 L2716.7 353.9 L2718.8 358.2 L2720.5 362.6 L2722.1 367.0 L2724.2 371.3 L2726.7 375.5 L2729.3 379.6 L2731.9 383.7 L2734.2 387.9 L2736.2 392.2 L2737.7 396.6 L2739.1 401.1 L2740.8 405.6 L2742.6 409.9 L2744.6 414.2 L2746.5 418.6 L2748.3 422.9 L2750.0 427.4 L2751.3 431.9 L2762.7 428.1 L2761.6 423.5 L2760.8 418.8 L2760.2 414.0 L2759.8 409.2 L2759.3 404.4 L2758.6 399.6 L2757.8 394.9 L2756.7 390.3 L2755.7 385.6 L2755.1 380.8 L2754.9 375.9 L2754.9 371.0 L2754.8 366.0 L2754.5 361.1 L2753.9 356.4 L2752.7 351.8 L2751.6 347.2 L2750.8 342.5 L2750.3 337.7 L2749.8 332.9 L2748.9 328.2 L2747.7 323.6 L2745.9 319.2 L2743.6 315.0 L2741.0 310.9 L2738.3 306.9 L2735.7 302.7 L2733.4 298.5 L2731.5 294.2 L2728.9 290.1 L2725.1 286.4 L2720.7 282.9 L2716.3 279.4 L2712.5 275.7 L2709.8 271.6 L2707.8 267.3 L2705.4 263.1 L2702.9 259.0 L2700.5 254.8 L2698.4 250.5 Z" fill="#20a620" filter="url(#glow_c)"/><path d="M2695.6 251.5 L2697.1 255.9 L2698.3 260.5 L2699.3 265.2 L2700.5 269.7 L2702.1 274.2 L2703.0 278.9 L2702.7 283.9 L2701.7 289.2 L2700.8 294.5 L2700.5 299.6 L2701.2 304.3 L2702.7 308.8 L2703.8 313.4 L2704.5 318.2 L2705.0 323.0 L2705.6 327.7 L2706.5 332.4 L2707.8 337.0 L2709.6 341.3 L2711.8 345.6 L2714.3 349.7 L2716.7 353.9 L2718.8 358.2 L2720.5 362.6 L2722.1 367.0 L2724.2 371.3 L2726.7 375.5 L2729.3 379.6 L2731.9 383.7 L2734.2 387.9 L2736.2 392.2 L2737.7 396.6 L2739.1 401.1 L2740.8 405.6 L2742.6 409.9 L2744.6 414.2 L2746.5 418.6 L2748.3 422.9 L2750.0 427.4 L2751.3 431.9 L2762.7 428.1 L2761.6 423.5 L2760.8 418.8 L2760.2 414.0 L2759.8 409.2 L2759.3 404.4 L2758.6 399.6 L2757.8 394.9 L2756.7 390.3 L2755.7 385.6 L2755.1 380.8 L2754.9 375.9 L2754.9 371.0 L2754.8 366.0 L2754.5 361.1 L2753.9 356.4 L2752.7 351.8 L2751.6 347.2 L2750.8 342.5 L2750.3 337.7 L2749.8 332.9 L2748.9 328.2 L2747.7 323.6 L2745.9 319.2 L2743.6 315.0 L2741.0 310.9 L2738.3 306.9 L2735.7 302.7 L2733.4 298.5 L2731.5 294.2 L2728.9 290.1 L2725.1 286.4 L2720.7 282.9 L2716.3 279.4 L2712.5 275.7 L2709.8 271.6 L2707.8 267.3 L2705.4 263.1 L2702.9 259.0 L2700.5 254.8 L2698.4 250.5 Z" fill="#062406" opacity="0.45" filter="url(#tex)"/><ellipse cx="2100.5" cy="325" rx="17.4" ry="14.8" fill="#031503" stroke="#2cc42c" stroke-width="1.5" transform="rotate(-20 2100.5 325)" filter="url(#glow_c)"/><ellipse cx="2281.5" cy="329" rx="9.6" ry="11.3" fill="#40ff40" filter="url(#glow_c)" transform="rotate(20 2281.5 329)"/><circle cx="2489.4" cy="264.2" r="8.5" fill="#0a2e0a" filter="url(#glow_c)"/><circle cx="2498.2" cy="307" r="9" fill="#0a2e0a" filter="url(#glow_c)"/><circle cx="2482.5" cy="388" r="9" fill="#0a2e0a" filter="url(#glow_c)"/><circle cx="2713.6" cy="329.6" r="10" fill="#0c3a0c" filter="url(#glow_c)"/><circle cx="2724" cy="348" r="10.5" fill="#0c3a0c" filter="url(#glow_c)"/></g>
<g transform="translate(0,200)"><path d="M2016.6 386.8 L2020.2 384.2 L2024.1 382.1 L2028.3 380.3 L2032.6 378.6 L2036.5 376.5 L2040.1 373.9 L2043.5 371.2 L2047.2 368.8 L2051.1 366.6 L2055.3 364.7 L2059.4 362.9 L2063.7 361.2 L2067.8 359.3 L2071.8 357.2 L2075.5 354.9 L2079.0 352.3 L2082.4 349.5 L2085.9 346.8 L2089.4 344.1 L2093.0 341.5 L2096.5 339.0 L2100.1 336.4 L2103.8 333.9 L2107.4 331.4 L2111.0 328.9 L2114.6 326.3 L2118.1 323.8 L2121.6 321.1 L2125.0 318.4 L2128.2 315.3 L2131.3 312.1 L2134.2 308.7 L2137.1 305.4 L2140.2 302.1 L2143.4 299.1 L2146.9 296.4 L2149.7 292.9 L2151.5 288.2 L2153.3 283.4 L2156.1 279.9 L2149.9 272.1 L2145.6 273.8 L2140.2 274.1 L2134.9 274.5 L2130.6 276.1 L2126.9 278.6 L2123.0 280.7 L2118.9 282.7 L2114.8 284.5 L2110.7 286.4 L2106.6 288.4 L2102.7 290.6 L2099.1 293.1 L2095.6 295.7 L2092.2 298.5 L2088.8 301.3 L2085.5 304.1 L2082.1 307.0 L2078.9 309.9 L2075.6 312.9 L2072.3 315.8 L2069.0 318.7 L2065.7 321.6 L2062.4 324.5 L2059.0 327.3 L2055.8 330.3 L2052.8 333.6 L2050.1 337.2 L2047.5 341.1 L2045.0 345.0 L2042.6 349.0 L2040.1 352.8 L2037.4 356.5 L2034.5 359.9 L2031.3 363.0 L2028.3 366.2 L2025.7 370.0 L2023.3 374.1 L2021.0 378.2 L2018.4 382.0 L2015.4 385.2 Z" fill="#188418" filter="url(#glow_c)"/><path d="M2016.6 386.8 L2020.2 384.2 L2024.1 382.1 L2028.3 380.3 L2032.6 378.6 L2036.5 376.5 L2040.1 373.9 L2043.5 371.2 L2047.2 368.8 L2051.1 366.6 L2055.3 364.7 L2059.4 362.9 L2063.7 361.2 L2067.8 359.3 L2071.8 357.2 L2075.5 354.9 L2079.0 352.3 L2082.4 349.5 L2085.9 346.8 L2089.4 344.1 L2093.0 341.5 L2096.5 339.0 L2100.1 336.4 L2103.8 333.9 L2107.4 331.4 L2111.0 328.9 L2114.6 326.3 L2118.1 323.8 L2121.6 321.1 L2125.0 318.4 L2128.2 315.3 L2131.3 312.1 L2134.2 308.7 L2137.1 305.4 L2140.2 302.1 L2143.4 299.1 L2146.9 296.4 L2149.7 292.9 L2151.5 288.2 L2153.3 283.4 L2156.1 279.9 L2149.9 272.1 L2145.6 273.8 L2140.2 274.1 L2134.9 274.5 L2130.6 276.1 L2126.9 278.6 L2123.0 280.7 L2118.9 282.7 L2114.8 284.5 L2110.7 286.4 L2106.6 288.4 L2102.7 290.6 L2099.1 293.1 L2095.6 295.7 L2092.2 298.5 L2088.8 301.3 L2085.5 304.1 L2082.1 307.0 L2078.9 309.9 L2075.6 312.9 L2072.3 315.8 L2069.0 318.7 L2065.7 321.6 L2062.4 324.5 L2059.0 327.3 L2055.8 330.3 L2052.8 333.6 L2050.1 337.2 L2047.5 341.1 L2045.0 345.0 L2042.6 349.0 L2040.1 352.8 L2037.4 356.5 L2034.5 359.9 L2031.3 363.0 L2028.3 366.2 L2025.7 370.0 L2023.3 374.1 L2021.0 378.2 L2018.4 382.0 L2015.4 385.2 Z" fill="#062406" opacity="0.45" filter="url(#tex)"/><path d="M2211.8 417.6 L2215.1 413.5 L2218.6 409.4 L2222.1 405.5 L2225.7 401.5 L2229.2 397.6 L2232.8 393.6 L2236.2 389.6 L2239.6 385.5 L2243.2 381.6 L2247.5 378.2 L2252.1 375.1 L2256.8 372.0 L2261.1 368.6 L2264.7 364.7 L2268.6 361.0 L2273.4 358.1 L2278.9 355.6 L2284.3 353.1 L2289.2 350.2 L2293.0 346.5 L2296.0 342.0 L2298.4 337.2 L2300.7 332.2 L2303.2 327.5 L2306.2 323.1 L2308.8 318.4 L2310.5 313.0 L2311.7 307.2 L2313.0 301.4 L2314.7 296.0 L2317.3 291.3 L2320.4 287.0 L2323.4 282.7 L2326.3 278.1 L2329.0 273.5 L2331.6 268.8 L2334.3 264.2 L2337.1 259.6 L2340.0 255.2 L2343.2 250.9 L2340.8 249.1 L2337.4 253.2 L2333.8 257.1 L2330.1 260.9 L2326.2 264.6 L2322.3 268.3 L2318.4 272.0 L2314.7 275.8 L2311.2 279.8 L2307.8 283.9 L2303.8 287.5 L2299.0 290.4 L2293.7 293.0 L2288.3 295.6 L2283.5 298.5 L2279.5 302.1 L2276.0 306.1 L2272.0 309.7 L2267.7 313.1 L2263.6 316.6 L2260.0 320.5 L2257.3 325.2 L2255.6 330.6 L2254.5 336.5 L2253.4 342.3 L2251.7 347.7 L2249.0 352.4 L2246.1 356.8 L2243.8 361.8 L2241.9 367.1 L2240.0 372.3 L2237.7 377.3 L2234.8 381.7 L2231.6 386.0 L2228.5 390.3 L2225.5 394.7 L2222.5 399.1 L2219.6 403.5 L2216.5 407.9 L2213.4 412.2 L2210.2 416.4 Z" fill="#1a8e1a" filter="url(#glow_c)"/><path d="M2211.8 417.6 L2215.1 413.5 L2218.6 409.4 L2222.1 405.5 L2225.7 401.5 L2229.2 397.6 L2232.8 393.6 L2236.2 389.6 L2239.6 385.5 L2243.2 381.6 L2247.5 378.2 L2252.1 375.1 L2256.8 372.0 L2261.1 368.6 L2264.7 364.7 L2268.6 361.0 L2273.4 358.1 L2278.9 355.6 L2284.3 353.1 L2289.2 350.2 L2293.0 346.5 L2296.0 342.0 L2298.4 337.2 L2300.7 332.2 L2303.2 327.5 L2306.2 323.1 L2308.8 318.4 L2310.5 313.0 L2311.7 307.2 L2313.0 301.4 L2314.7 296.0 L2317.3 291.3 L2320.4 287.0 L2323.4 282.7 L2326.3 278.1 L2329.0 273.5 L2331.6 268.8 L2334.3 264.2 L2337.1 259.6 L2340.0 255.2 L2343.2 250.9 L2340.8 249.1 L2337.4 253.2 L2333.8 257.1 L2330.1 260.9 L2326.2 264.6 L2322.3 268.3 L2318.4 272.0 L2314.7 275.8 L2311.2 279.8 L2307.8 283.9 L2303.8 287.5 L2299.0 290.4 L2293.7 293.0 L2288.3 295.6 L2283.5 298.5 L2279.5 302.1 L2276.0 306.1 L2272.0 309.7 L2267.7 313.1 L2263.6 316.6 L2260.0 320.5 L2257.3 325.2 L2255.6 330.6 L2254.5 336.5 L2253.4 342.3 L2251.7 347.7 L2249.0 352.4 L2246.1 356.8 L2243.8 361.8 L2241.9 367.1 L2240.0 372.3 L2237.7 377.3 L2234.8 381.7 L2231.6 386.0 L2228.5 390.3 L2225.5 394.7 L2222.5 399.1 L2219.6 403.5 L2216.5 407.9 L2213.4 412.2 L2210.2 416.4 Z" fill="#062406" opacity="0.45" filter="url(#tex)"/><path d="M2479 251 L2502 251 C2507 270 2508 290 2511 310 C2514 330 2512 340 2504 352 C2499 370 2496 392 2492 410 C2489 420 2484 428 2478 430 L2472 430 C2471 410 2471 390 2474 372 C2477 358 2482 346 2488 336 C2488 320 2484 300 2482 285 C2479 270 2477 260 2479 251 Z" fill="#1a921a" filter="url(#glow_c)"/><path d="M2479 251 L2502 251 C2507 270 2508 290 2511 310 C2514 330 2512 340 2504 352 C2499 370 2496 392 2492 410 C2489 420 2484 428 2478 430 L2472 430 C2471 410 2471 390 2474 372 C2477 358 2482 346 2488 336 C2488 320 2484 300 2482 285 C2479 270 2477 260 2479 251 Z" fill="#062406" opacity="0.45" filter="url(#tex)"/><path d="M2695.6 251.5 L2697.1 255.9 L2698.3 260.5 L2699.3 265.2 L2700.5 269.7 L2702.1 274.2 L2703.0 278.9 L2702.7 283.9 L2701.7 289.2 L2700.8 294.5 L2700.5 299.6 L2701.2 304.3 L2702.7 308.8 L2703.8 313.4 L2704.5 318.2 L2705.0 323.0 L2705.6 327.7 L2706.5 332.4 L2707.8 337.0 L2709.6 341.3 L2711.8 345.6 L2714.3 349.7 L2716.7 353.9 L2718.8 358.2 L2720.5 362.6 L2722.1 367.0 L2724.2 371.3 L2726.7 375.5 L2729.3 379.6 L2731.9 383.7 L2734.2 387.9 L2736.2 392.2 L2737.7 396.6 L2739.1 401.1 L2740.8 405.6 L2742.6 409.9 L2744.6 414.2 L2746.5 418.6 L2748.3 422.9 L2750.0 427.4 L2751.3 431.9 L2762.7 428.1 L2761.6 423.5 L2760.8 418.8 L2760.2 414.0 L2759.8 409.2 L2759.3 404.4 L2758.6 399.6 L2757.8 394.9 L2756.7 390.3 L2755.7 385.6 L2755.1 380.8 L2754.9 375.9 L2754.9 371.0 L2754.8 366.0 L2754.5 361.1 L2753.9 356.4 L2752.7 351.8 L2751.6 347.2 L2750.8 342.5 L2750.3 337.7 L2749.8 332.9 L2748.9 328.2 L2747.7 323.6 L2745.9 319.2 L2743.6 315.0 L2741.0 310.9 L2738.3 306.9 L2735.7 302.7 L2733.4 298.5 L2731.5 294.2 L2728.9 290.1 L2725.1 286.4 L2720.7 282.9 L2716.3 279.4 L2712.5 275.7 L2709.8 271.6 L2707.8 267.3 L2705.4 263.1 L2702.9 259.0 L2700.5 254.8 L2698.4 250.5 Z" fill="#20a620" filter="url(#glow_c)"/><path d="M2695.6 251.5 L2697.1 255.9 L2698.3 260.5 L2699.3 265.2 L2700.5 269.7 L2702.1 274.2 L2703.0 278.9 L2702.7 283.9 L2701.7 289.2 L2700.8 294.5 L2700.5 299.6 L2701.2 304.3 L2702.7 308.8 L2703.8 313.4 L2704.5 318.2 L2705.0 323.0 L2705.6 327.7 L2706.5 332.4 L2707.8 337.0 L2709.6 341.3 L2711.8 345.6 L2714.3 349.7 L2716.7 353.9 L2718.8 358.2 L2720.5 362.6 L2722.1 367.0 L2724.2 371.3 L2726.7 375.5 L2729.3 379.6 L2731.9 383.7 L2734.2 387.9 L2736.2 392.2 L2737.7 396.6 L2739.1 401.1 L2740.8 405.6 L2742.6 409.9 L2744.6 414.2 L2746.5 418.6 L2748.3 422.9 L2750.0 427.4 L2751.3 431.9 L2762.7 428.1 L2761.6 423.5 L2760.8 418.8 L2760.2 414.0 L2759.8 409.2 L2759.3 404.4 L2758.6 399.6 L2757.8 394.9 L2756.7 390.3 L2755.7 385.6 L2755.1 380.8 L2754.9 375.9 L2754.9 371.0 L2754.8 366.0 L2754.5 361.1 L2753.9 356.4 L2752.7 351.8 L2751.6 347.2 L2750.8 342.5 L2750.3 337.7 L2749.8 332.9 L2748.9 328.2 L2747.7 323.6 L2745.9 319.2 L2743.6 315.0 L2741.0 310.9 L2738.3 306.9 L2735.7 302.7 L2733.4 298.5 L2731.5 294.2 L2728.9 290.1 L2725.1 286.4 L2720.7 282.9 L2716.3 279.4 L2712.5 275.7 L2709.8 271.6 L2707.8 267.3 L2705.4 263.1 L2702.9 259.0 L2700.5 254.8 L2698.4 250.5 Z" fill="#062406" opacity="0.45" filter="url(#tex)"/><ellipse cx="2099" cy="324" rx="19" ry="16.5" fill="#1414e0" transform="rotate(-25 2099 324)"/><circle cx="2097" cy="331" r="3.5" fill="#0a0a90"/><circle cx="2107" cy="323" r="3" fill="#0a0a90"/><circle cx="2104" cy="334" r="2.5" fill="#0a0a90"/><ellipse cx="2281.5" cy="329" rx="9.5" ry="11.5" fill="#30f0f0" filter="url(#glow_c)" transform="rotate(20 2281.5 329)"/><circle cx="2490.3" cy="264" r="8.5" fill="#1a1ab0" filter="url(#glow_c)"/><circle cx="2497.7" cy="307" r="9" fill="#1a1ab0" filter="url(#glow_c)"/><circle cx="2482.6" cy="388" r="9" fill="#1a1ab0" filter="url(#glow_c)"/><circle cx="2713.6" cy="329.6" r="10" fill="#1c1cd8"/><circle cx="2724" cy="348" r="10.5" fill="#1c1cd8"/></g>
<ellipse cx="2092" cy="120" rx="19.5" ry="16.5" fill="#1212ea" transform="rotate(-28 2092 120)"/>
<rect x="2098" y="210.5" width="60.5" height="3.5" fill="#fff"/>
<ellipse cx="2280.5" cy="127.5" rx="9.5" ry="11.5" fill="#1515ff" transform="rotate(20 2280.5 127.5)"/>
<circle cx="2490.3" cy="65.5" r="8.5" fill="#1818d8"/>
<circle cx="2497.3" cy="106" r="9.6" fill="#1818d8"/>
<circle cx="2482.6" cy="187" r="9.6" fill="#1818d8"/>
<circle cx="2714.4" cy="127.2" r="10.4" fill="#1a1aff"/>
<circle cx="2722.9" cy="146.5" r="11.6" fill="#1a1aff"/>
<text x="1956.0" y="139.0" font-family="Liberation Serif" font-size="33" font-weight="bold" text-anchor="middle" fill="#1a1aee" transform="rotate(-90 1956 139)">DAPI</text>
<text x="1956.0" y="340.0" font-family="Liberation Serif" font-size="33.5" font-weight="bold" text-anchor="middle" fill="#22dd22" transform="rotate(-90 1956 340)">STAT3</text>
<text x="1956.0" y="540.0" font-family="Liberation Serif" font-size="33" font-weight="bold" text-anchor="middle" fill="#22e6ee" transform="rotate(-90 1956 540)">Merge</text>
<text transform="translate(1979.5,696.0) scale(0.9,1.0)" font-family="Liberation Serif" font-size="29.5" font-weight="normal" text-anchor="end" fill="#222" >TGF-β1</text>
<text transform="translate(2011.3,762.0) scale(0.9,1.0)" font-family="Liberation Serif" font-size="29.5" font-weight="normal" text-anchor="end" fill="#222" >CTS (20 μM)</text>
<text transform="translate(2017.5,828.0) scale(0.92,1.0)" font-family="Liberation Serif" font-size="29.5" font-weight="normal" text-anchor="end" fill="#222" >DST-3 (20 μM)</text>
<text x="2075.7" y="696.5" font-family="Liberation Serif" font-size="38" font-weight="bold" text-anchor="middle" fill="#111" >-</text>
<text x="2289.2" y="697.5" font-family="Liberation Serif" font-size="39" font-weight="normal" text-anchor="middle" fill="#222" >+</text>
<text x="2487.2" y="697.5" font-family="Liberation Serif" font-size="39" font-weight="normal" text-anchor="middle" fill="#222" >+</text>
<text x="2715.0" y="697.5" font-family="Liberation Serif" font-size="39" font-weight="normal" text-anchor="middle" fill="#222" >+</text>
<text x="2075.7" y="760.5" font-family="Liberation Serif" font-size="38" font-weight="bold" text-anchor="middle" fill="#111" >-</text>
<text x="2294.7" y="760.5" font-family="Liberation Serif" font-size="38" font-weight="bold" text-anchor="middle" fill="#111" >-</text>
<text x="2493.8" y="760.5" font-family="Liberation Serif" font-size="38" font-weight="bold" text-anchor="middle" fill="#111" >-</text>
<text x="2717.0" y="761.5" font-family="Liberation Serif" font-size="39" font-weight="normal" text-anchor="middle" fill="#222" >+</text>
<text x="2075.7" y="826.5" font-family="Liberation Serif" font-size="38" font-weight="bold" text-anchor="middle" fill="#111" >-</text>
<text x="2294.7" y="826.5" font-family="Liberation Serif" font-size="38" font-weight="bold" text-anchor="middle" fill="#111" >-</text>
<text x="2488.8" y="827.5" font-family="Liberation Serif" font-size="39" font-weight="normal" text-anchor="middle" fill="#222" >+</text>
<text x="2721.7" y="826.5" font-family="Liberation Serif" font-size="38" font-weight="bold" text-anchor="middle" fill="#111" >-</text>
<path d="M1103 1085 L1103.5 1495.6 L1832 1489" fill="none" stroke="#3f4852" stroke-width="3"/>
<line x1="1096" y1="1474.7" x2="1103" y2="1474.7" stroke="#3f4852" stroke-width="2"/>
<line x1="1096" y1="1441.6" x2="1103" y2="1441.6" stroke="#3f4852" stroke-width="2"/>
<line x1="1096" y1="1408.6" x2="1103" y2="1408.6" stroke="#3f4852" stroke-width="2"/>
<line x1="1096" y1="1375.5" x2="1103" y2="1375.5" stroke="#3f4852" stroke-width="2"/>
<line x1="1096" y1="1342.5" x2="1103" y2="1342.5" stroke="#3f4852" stroke-width="2"/>
<line x1="1096" y1="1309.4" x2="1103" y2="1309.4" stroke="#3f4852" stroke-width="2"/>
<line x1="1096" y1="1276.4" x2="1103" y2="1276.4" stroke="#3f4852" stroke-width="2"/>
<line x1="1096" y1="1243.3" x2="1103" y2="1243.3" stroke="#3f4852" stroke-width="2"/>
<line x1="1096" y1="1210.3" x2="1103" y2="1210.3" stroke="#3f4852" stroke-width="2"/>
<line x1="1096" y1="1177.2" x2="1103" y2="1177.2" stroke="#3f4852" stroke-width="2"/>
<line x1="1096" y1="1144.2" x2="1103" y2="1144.2" stroke="#3f4852" stroke-width="2"/>
<line x1="1096" y1="1111.1" x2="1103" y2="1111.1" stroke="#3f4852" stroke-width="2"/>
<text x="1088.0" y="1151.2" font-family="Liberation Sans" font-size="20" font-weight="normal" text-anchor="end" fill="#666" >20</text>
<text x="1088.0" y="1217.3" font-family="Liberation Sans" font-size="20" font-weight="normal" text-anchor="end" fill="#666" >15</text>
<text x="1088.0" y="1283.4" font-family="Liberation Sans" font-size="20" font-weight="normal" text-anchor="end" fill="#666" >10</text>
<text x="1088.0" y="1349.5" font-family="Liberation Sans" font-size="20" font-weight="normal" text-anchor="end" fill="#666" >5</text>
<text x="1088.0" y="1415.6" font-family="Liberation Sans" font-size="20" font-weight="normal" text-anchor="end" fill="#666" >0</text>
<text x="1088.0" y="1481.7" font-family="Liberation Sans" font-size="20" font-weight="normal" text-anchor="end" fill="#666" >-5</text>
<line x1="1138.7" y1="1495.3" x2="1138.7" y2="1503.3" stroke="#3f4852" stroke-width="2"/>
<line x1="1235.7" y1="1494.4" x2="1235.7" y2="1502.4" stroke="#3f4852" stroke-width="2"/>
<line x1="1332.7" y1="1493.5" x2="1332.7" y2="1501.5" stroke="#3f4852" stroke-width="2"/>
<line x1="1429.7" y1="1492.6" x2="1429.7" y2="1500.6" stroke="#3f4852" stroke-width="2"/>
<line x1="1526.7" y1="1491.8" x2="1526.7" y2="1499.8" stroke="#3f4852" stroke-width="2"/>
<line x1="1623.7" y1="1490.9" x2="1623.7" y2="1498.9" stroke="#3f4852" stroke-width="2"/>
<line x1="1720.7" y1="1490.0" x2="1720.7" y2="1498.0" stroke="#3f4852" stroke-width="2"/>
<line x1="1817.7" y1="1489.1" x2="1817.7" y2="1497.1" stroke="#3f4852" stroke-width="2"/>
<text x="1235.7" y="1532.4" font-family="Liberation Sans" font-size="20" font-weight="normal" text-anchor="middle" fill="#666" >0</text>
<text x="1429.7" y="1530.6" font-family="Liberation Sans" font-size="20" font-weight="normal" text-anchor="middle" fill="#666" >100</text>
<text x="1623.7" y="1528.9" font-family="Liberation Sans" font-size="20" font-weight="normal" text-anchor="middle" fill="#666" >200</text>
<text x="1817.7" y="1527.1" font-family="Liberation Sans" font-size="20" font-weight="normal" text-anchor="middle" fill="#666" >300</text>
<text x="1451.0" y="1569.0" font-family="Liberation Serif" font-size="45" font-weight="normal" text-anchor="middle" fill="#111" >Time (s)</text>
<rect x="1370" y="1570" width="160" height="30" fill="#fff"/>
<text x="1048.0" y="1286.5" font-family="Liberation Serif" font-size="42" font-weight="normal" text-anchor="middle" fill="#111" transform="rotate(-90 1048 1286.5)">Relative Response (RU)</text>
<text x="1384.0" y="1079.8" font-family="Liberation Serif" font-size="34.5" font-weight="bold" text-anchor="middle" fill="#000" >KD&#160; = 8.59 μM</text>
<path d="M1158.1 1405.8 L1162.0 1405.4 L1165.9 1406.1 L1169.7 1406.9 L1173.6 1406.6 L1177.5 1405.9 L1181.4 1406.1 L1185.3 1407.1 L1189.1 1407.4 L1193.0 1406.7 L1196.9 1406.4 L1200.8 1407.1 L1204.7 1407.9 L1208.5 1407.6 L1212.4 1406.9 L1216.3 1407.1 L1220.2 1408.1 L1224.1 1408.3 L1227.9 1407.6" fill="none" stroke="#5ea6e0" stroke-width="3" stroke-linejoin="round"/>
<path d="M1235.7 1406.0 L1236.9 1418.5 L1238.8 1428.4 L1239.8 1428.1 L1240.7 1427.4 L1241.7 1426.7 L1242.7 1426.0 L1243.7 1425.4 L1244.6 1424.7 L1245.6 1424.0 L1246.6 1423.4 L1247.5 1422.7 L1248.5 1422.1 L1249.5 1421.5 L1250.4 1420.9 L1251.4 1420.3 L1252.4 1419.7 L1253.4 1419.1 L1254.3 1418.6 L1255.3 1418.0 L1256.3 1417.5 L1257.2 1417.0 L1258.2 1416.5 L1259.2 1416.1 L1260.1 1415.6 L1261.1 1415.2 L1262.1 1414.8 L1263.1 1414.4 L1264.0 1414.0 L1265.0 1413.5 L1266.0 1413.1 L1266.9 1412.7 L1267.9 1412.4 L1268.9 1412.0 L1269.8 1411.7 L1270.8 1411.4 L1271.8 1411.1 L1272.8 1410.9 L1273.7 1410.6 L1274.7 1410.4 L1275.7 1410.2 L1276.6 1410.0 L1277.6 1409.8 L1278.6 1409.6 L1279.5 1409.4 L1280.5 1409.3 L1281.5 1409.1 L1282.5 1409.0 L1283.4 1408.9 L1284.4 1408.7 L1285.4 1408.6 L1286.3 1408.5 L1287.3 1408.4 L1288.3 1408.3 L1289.2 1408.2 L1290.2 1408.1 L1291.2 1408.0 L1292.2 1408.0 L1293.1 1407.9 L1294.1 1407.8 L1295.1 1407.7 L1296.0 1407.7 L1297.0 1407.6 L1298.0 1407.5 L1298.9 1407.5 L1299.9 1407.4 L1300.9 1407.4 L1301.9 1407.3 L1302.8 1407.2 L1303.8 1407.2 L1304.8 1407.1 L1305.7 1407.1 L1306.7 1407.0 L1307.7 1407.0 L1308.6 1407.0 L1309.6 1406.9 L1310.6 1406.9 L1311.6 1406.8 L1312.5 1406.8 L1313.5 1406.7 L1314.5 1406.7 L1315.4 1406.7 L1316.4 1406.6 L1317.4 1406.6 L1318.3 1406.5 L1319.3 1406.5 L1320.3 1406.5 L1321.3 1406.4 L1322.2 1406.4 L1323.2 1406.4 L1324.2 1406.3 L1325.1 1406.3 L1326.1 1406.3 L1327.1 1406.2 L1328.0 1406.2 L1329.0 1406.2 L1330.0 1406.2 L1331.0 1406.1 L1331.9 1406.1 L1332.9 1406.1 L1333.9 1406.0 L1334.8 1406.0 L1335.8 1406.0 L1336.8 1406.0 L1337.7 1405.9 L1338.7 1405.9 L1339.7 1405.9 L1340.7 1405.9 L1341.6 1405.8 L1342.6 1405.8 L1343.6 1405.8 L1344.5 1405.8 L1345.5 1405.7 L1346.5 1405.7 L1347.4 1405.7 L1348.4 1405.7 L1349.4 1405.7 L1350.4 1405.6 L1351.3 1405.6 L1352.3 1405.6 L1353.3 1405.6 L1354.2 1405.6 L1355.2 1405.5 L1356.2 1405.5 L1357.1 1405.5 L1358.1 1405.5 L1359.1 1405.5 L1360.1 1405.4 L1361.0 1405.4 L1362.0 1405.4 L1363.0 1405.4 L1363.9 1405.4 L1364.9 1405.4 L1365.9 1405.3 L1366.8 1405.3 L1367.8 1405.3 L1368.8 1405.3 L1369.8 1405.3 L1370.7 1405.3 L1371.7 1405.3 L1372.7 1405.2 L1373.6 1405.2 L1374.6 1405.2 L1375.6 1405.2 L1376.5 1405.2 L1377.5 1405.2 L1378.5 1405.2 L1379.5 1405.2 L1380.4 1405.1 L1381.4 1405.1 L1382.4 1405.1 L1383.3 1405.1 L1384.3 1405.1 L1385.3 1405.1 L1386.2 1405.1 L1387.2 1405.1 L1388.2 1405.0 L1389.2 1405.0 L1390.1 1405.0 L1391.1 1405.0 L1392.1 1405.0 L1393.0 1405.0 L1394.0 1405.0 L1395.0 1405.0 L1395.9 1405.0 L1396.9 1405.0 L1397.9 1405.0 L1398.9 1404.9 L1399.8 1404.9 L1400.8 1404.9 L1401.8 1404.9 L1402.7 1404.9 L1403.7 1404.9 L1404.7 1404.9 L1405.6 1404.9 L1406.6 1404.9 L1407.6 1404.9 L1408.6 1404.9 L1409.5 1404.9 L1410.5 1404.8 L1411.5 1404.8 L1412.4 1404.8 L1413.4 1404.8 L1414.4 1404.8 L1415.3 1404.8 L1416.3 1404.8 L1417.3 1404.8 L1418.3 1404.8 L1419.2 1404.8 L1420.2 1404.8 L1421.2 1404.8 L1422.1 1404.8 L1423.1 1404.8 L1424.1 1404.8 L1425.0 1404.7 L1426.0 1404.7 L1427.0 1404.7 L1428.0 1404.7 L1428.9 1404.7 L1429.9 1404.7 L1430.9 1404.7 L1431.8 1404.7 L1432.8 1404.7 L1433.8 1404.7 L1434.7 1404.7 L1435.7 1404.7 L1436.7 1404.7 L1437.7 1404.7 L1438.6 1404.7 L1439.6 1404.7 L1440.6 1404.7 L1441.5 1404.7 L1442.5 1404.7 L1443.5 1404.7 L1444.4 1404.7 L1445.4 1404.6 L1446.4 1404.6 L1447.4 1404.6 L1448.3 1404.6" fill="none" stroke="#5ea6e0" stroke-width="3" stroke-linejoin="round"/>
<path d="M1467.7 1412.6 L1469.7 1382.2 L1470.4 1379.6 L1471.4 1380.4 L1472.4 1381.2 L1473.4 1382.0 L1474.3 1382.7 L1475.3 1383.5 L1476.3 1384.2 L1477.2 1384.9 L1478.2 1385.6 L1479.2 1386.3 L1480.1 1386.9 L1481.1 1387.6 L1482.1 1388.2 L1483.0 1388.8 L1484.0 1389.3 L1485.0 1389.9 L1486.0 1390.4 L1486.9 1390.9 L1487.9 1391.4 L1488.9 1391.8 L1489.8 1392.3 L1490.8 1392.7 L1491.8 1393.1 L1492.8 1393.5 L1493.7 1393.8 L1494.7 1394.2 L1495.7 1394.5 L1496.6 1394.8 L1497.6 1395.1 L1498.6 1395.4 L1499.5 1395.6 L1500.5 1395.9 L1501.5 1396.1 L1502.5 1396.3 L1503.4 1396.5 L1504.4 1396.7 L1505.4 1396.9 L1506.3 1397.0 L1507.3 1397.2 L1508.3 1397.4 L1509.2 1397.6 L1510.2 1397.8 L1511.2 1397.9 L1512.2 1398.1 L1513.1 1398.2 L1514.1 1398.4 L1515.1 1398.5 L1516.0 1398.7 L1517.0 1398.8 L1518.0 1398.9 L1518.9 1399.0 L1519.9 1399.1 L1520.9 1399.2 L1521.8 1399.3 L1522.8 1399.4 L1523.8 1399.5 L1524.8 1399.6 L1525.7 1399.6 L1526.7 1399.7 L1527.7 1399.8 L1528.6 1399.9 L1529.6 1399.9 L1530.6 1400.0 L1531.5 1400.1 L1532.5 1400.1 L1533.5 1400.2 L1534.5 1400.2 L1535.4 1400.3 L1536.4 1400.3 L1537.4 1400.4 L1538.3 1400.4 L1539.3 1400.5 L1540.3 1400.5 L1541.2 1400.6 L1542.2 1400.6 L1543.2 1400.7 L1544.2 1400.7 L1545.1 1400.8 L1546.1 1400.8 L1547.1 1400.8 L1548.0 1400.9 L1549.0 1400.9 L1550.0 1401.0 L1551.0 1401.0 L1551.9 1401.0 L1552.9 1401.1 L1553.9 1401.1 L1554.8 1401.1 L1555.8 1401.2 L1556.8 1401.2 L1557.7 1401.2 L1558.7 1401.3 L1559.7 1401.3 L1560.7 1401.3 L1561.6 1401.4 L1562.6 1401.4 L1563.6 1401.4 L1564.5 1401.5 L1565.5 1401.5 L1566.5 1401.5 L1567.4 1401.5 L1568.4 1401.6 L1569.4 1401.6 L1570.3 1401.6 L1571.3 1401.7 L1572.3 1401.7 L1573.3 1401.7 L1574.2 1401.7 L1575.2 1401.8 L1576.2 1401.8 L1577.1 1401.8 L1578.1 1401.9 L1579.1 1401.9 L1580.0 1401.9 L1581.0 1401.9 L1582.0 1402.0 L1583.0 1402.0 L1583.9 1402.0 L1584.9 1402.0 L1585.9 1402.1 L1586.8 1402.1 L1587.8 1402.1 L1588.8 1402.1 L1589.8 1402.1 L1590.7 1402.2 L1591.7 1402.2 L1592.7 1402.2 L1593.6 1402.2 L1594.6 1402.3 L1595.6 1402.3 L1596.5 1402.3 L1597.5 1402.3 L1598.5 1402.4 L1599.5 1402.4 L1600.4 1402.4 L1601.4 1402.4 L1602.4 1402.4 L1603.3 1402.5 L1604.3 1402.5 L1605.3 1402.5 L1606.2 1402.5 L1607.2 1402.5 L1608.2 1402.6 L1609.2 1402.6 L1610.1 1402.6 L1611.1 1402.6 L1612.1 1402.6 L1613.0 1402.7 L1614.0 1402.7 L1615.0 1402.7 L1615.9 1402.7 L1616.9 1402.7 L1617.9 1402.7 L1618.8 1402.8 L1619.8 1402.8 L1620.8 1402.8 L1621.8 1402.8 L1622.7 1402.8 L1623.7 1402.8 L1624.7 1402.9 L1625.6 1402.9 L1626.6 1402.9 L1627.6 1402.9 L1628.5 1402.9 L1629.5 1402.9 L1630.5 1403.0 L1631.5 1403.0 L1632.4 1403.0 L1633.4 1403.0 L1634.4 1403.0 L1635.3 1403.0 L1636.3 1403.1 L1637.3 1403.1 L1638.2 1403.1 L1639.2 1403.1 L1640.2 1403.1 L1641.2 1403.1 L1642.1 1403.1 L1643.1 1403.2 L1644.1 1403.2 L1645.0 1403.2 L1646.0 1403.2 L1647.0 1403.2 L1648.0 1403.2 L1648.9 1403.2 L1649.9 1403.3 L1650.9 1403.3 L1651.8 1403.3 L1652.8 1403.3 L1653.8 1403.3 L1654.7 1403.3 L1655.7 1403.3 L1656.7 1403.3 L1657.7 1403.4 L1658.6 1403.4 L1659.6 1403.4 L1660.6 1403.4 L1661.5 1403.4 L1662.5 1403.4 L1663.5 1403.4 L1664.4 1403.4 L1665.4 1403.5 L1666.4 1403.5 L1667.3 1403.5 L1668.3 1403.5 L1669.3 1403.5 L1670.3 1403.5 L1671.2 1403.5 L1672.2 1403.5 L1673.2 1403.5 L1674.1 1403.6 L1675.1 1403.6 L1676.1 1403.6 L1677.0 1403.6 L1678.0 1403.6 L1679.0 1403.6 L1680.0 1403.6 L1680.9 1403.6 L1681.9 1403.6 L1682.9 1403.6 L1683.8 1403.7 L1684.8 1403.7 L1685.8 1403.7 L1686.8 1403.7 L1687.7 1403.7 L1688.7 1403.7 L1689.7 1403.7 L1690.6 1403.7 L1691.6 1403.7 L1692.6 1403.7 L1693.5 1403.7 L1694.5 1403.8 L1695.5 1403.8 L1696.5 1403.8 L1697.4 1403.8 L1698.4 1403.8 L1699.4 1403.8 L1700.3 1403.8 L1701.3 1403.8 L1702.3 1403.8 L1703.2 1403.8 L1704.2 1403.8 L1705.2 1403.8 L1706.2 1403.9 L1707.1 1403.9 L1708.1 1403.9 L1709.1 1403.9 L1710.0 1403.9 L1711.0 1403.9 L1712.0 1403.9 L1712.9 1403.9 L1713.9 1403.9 L1714.9 1403.9 L1715.8 1403.9 L1716.8 1403.9 L1717.8 1403.9 L1718.8 1403.9 L1719.7 1404.0 L1720.7 1404.0 L1721.7 1404.0 L1722.6 1404.0 L1723.6 1404.0 L1724.6 1404.0 L1725.5 1404.0 L1726.5 1404.0 L1727.5 1404.0 L1728.5 1404.0 L1729.4 1404.0 L1730.4 1404.0 L1731.4 1404.0 L1732.3 1404.0 L1733.3 1404.0 L1734.3 1404.1 L1735.2 1404.1 L1736.2 1404.1 L1737.2 1404.1 L1738.2 1404.1 L1739.1 1404.1 L1740.1 1404.1 L1741.1 1404.1 L1742.0 1404.1 L1743.0 1404.1 L1744.0 1404.1 L1745.0 1404.1 L1745.9 1404.1 L1746.9 1404.1 L1747.9 1404.1 L1748.8 1404.1 L1749.8 1404.1 L1750.8 1404.1 L1751.7 1404.2 L1752.7 1404.2 L1753.7 1404.2 L1754.7 1404.2 L1755.6 1404.2 L1756.6 1404.2 L1757.6 1404.2 L1758.5 1404.2 L1759.5 1404.2 L1760.5 1404.2 L1761.4 1404.2 L1762.4 1404.2 L1763.4 1404.2 L1764.3 1404.2 L1765.3 1404.2 L1766.3 1404.2 L1767.3 1404.2 L1768.2 1404.2 L1769.2 1404.2 L1770.2 1404.2 L1771.1 1404.2 L1772.1 1404.2 L1773.1 1404.3 L1774.1 1404.3 L1775.0 1404.3 L1776.0 1404.3 L1777.0 1404.3 L1777.9 1404.3 L1778.9 1404.3" fill="none" stroke="#5ea6e0" stroke-width="3" stroke-linejoin="round"/>
<text x="1458.0" y="1413.6" font-family="Liberation Sans" font-size="25" font-weight="bold" text-anchor="middle" fill="#2a3440" >H</text>
<path d="M1158.1 1407.2 L1162.0 1406.7 L1165.9 1405.1 L1169.7 1405.3 L1173.6 1407.1 L1177.5 1407.7 L1181.4 1406.3 L1185.3 1405.4 L1189.1 1406.7 L1193.0 1408.2 L1196.9 1407.6 L1200.8 1406.0 L1204.7 1406.3 L1208.5 1408.1 L1212.4 1408.6 L1216.3 1407.2 L1220.2 1406.3 L1224.1 1407.7 L1227.9 1409.1" fill="none" stroke="#f6a03a" stroke-width="3" stroke-linejoin="round"/>
<path d="M1235.7 1406.0 L1236.9 1419.2 L1238.8 1429.8 L1239.8 1428.0 L1240.7 1426.2 L1241.7 1424.4 L1242.7 1422.7 L1243.7 1420.9 L1244.6 1419.1 L1245.6 1417.4 L1246.6 1415.6 L1247.5 1413.8 L1248.5 1412.1 L1249.5 1410.3 L1250.4 1408.5 L1251.4 1406.8 L1252.4 1405.0 L1253.4 1403.3 L1254.3 1401.6 L1255.3 1399.8 L1256.3 1398.1 L1257.2 1396.4 L1258.2 1394.7 L1259.2 1393.1 L1260.1 1391.4 L1261.1 1389.8 L1262.1 1388.2 L1263.1 1386.7 L1264.0 1385.2 L1265.0 1383.8 L1266.0 1382.4 L1266.9 1381.1 L1267.9 1379.9 L1268.9 1378.8 L1269.8 1377.8 L1270.8 1376.9 L1271.8 1375.9 L1272.8 1375.0 L1273.7 1374.2 L1274.7 1373.5 L1275.7 1372.9 L1276.6 1372.4 L1277.6 1371.9 L1278.6 1371.5 L1279.5 1371.2 L1280.5 1370.8 L1281.5 1370.6 L1282.5 1370.3 L1283.4 1370.1 L1284.4 1369.9 L1285.4 1369.7 L1286.3 1369.5 L1287.3 1369.3 L1288.3 1369.2 L1289.2 1369.0 L1290.2 1368.9 L1291.2 1368.8 L1292.2 1368.6 L1293.1 1368.5 L1294.1 1368.4 L1295.1 1368.3 L1296.0 1368.2 L1297.0 1368.1 L1298.0 1368.0 L1298.9 1367.9 L1299.9 1367.8 L1300.9 1367.7 L1301.9 1367.6 L1302.8 1367.5 L1303.8 1367.4 L1304.8 1367.3 L1305.7 1367.2 L1306.7 1367.1 L1307.7 1367.0 L1308.6 1366.9 L1309.6 1366.8 L1310.6 1366.8 L1311.6 1366.7 L1312.5 1366.6 L1313.5 1366.5 L1314.5 1366.4 L1315.4 1366.4 L1316.4 1366.3 L1317.4 1366.2 L1318.3 1366.2 L1319.3 1366.1 L1320.3 1366.0 L1321.3 1365.9 L1322.2 1365.9 L1323.2 1365.8 L1324.2 1365.7 L1325.1 1365.7 L1326.1 1365.6 L1327.1 1365.6 L1328.0 1365.5 L1329.0 1365.4 L1330.0 1365.4 L1331.0 1365.3 L1331.9 1365.3 L1332.9 1365.2 L1333.9 1365.2 L1334.8 1365.1 L1335.8 1365.0 L1336.8 1365.0 L1337.7 1364.9 L1338.7 1364.9 L1339.7 1364.8 L1340.7 1364.8 L1341.6 1364.7 L1342.6 1364.7 L1343.6 1364.6 L1344.5 1364.6 L1345.5 1364.6 L1346.5 1364.5 L1347.4 1364.5 L1348.4 1364.4 L1349.4 1364.4 L1350.4 1364.3 L1351.3 1364.3 L1352.3 1364.3 L1353.3 1364.2 L1354.2 1364.2 L1355.2 1364.1 L1356.2 1364.1 L1357.1 1364.1 L1358.1 1364.0 L1359.1 1364.0 L1360.1 1364.0 L1361.0 1363.9 L1362.0 1363.9 L1363.0 1363.9 L1363.9 1363.8 L1364.9 1363.8 L1365.9 1363.8 L1366.8 1363.7 L1367.8 1363.7 L1368.8 1363.7 L1369.8 1363.6 L1370.7 1363.6 L1371.7 1363.6 L1372.7 1363.6 L1373.6 1363.5 L1374.6 1363.5 L1375.6 1363.5 L1376.5 1363.5 L1377.5 1363.4 L1378.5 1363.4 L1379.5 1363.4 L1380.4 1363.3 L1381.4 1363.3 L1382.4 1363.3 L1383.3 1363.3 L1384.3 1363.3 L1385.3 1363.2 L1386.2 1363.2 L1387.2 1363.2 L1388.2 1363.2 L1389.2 1363.1 L1390.1 1363.1 L1391.1 1363.1 L1392.1 1363.1 L1393.0 1363.1 L1394.0 1363.0 L1395.0 1363.0 L1395.9 1363.0 L1396.9 1363.0 L1397.9 1363.0 L1398.9 1362.9 L1399.8 1362.9 L1400.8 1362.9 L1401.8 1362.9 L1402.7 1362.9 L1403.7 1362.9 L1404.7 1362.8 L1405.6 1362.8 L1406.6 1362.8 L1407.6 1362.8 L1408.6 1362.8 L1409.5 1362.8 L1410.5 1362.8 L1411.5 1362.7 L1412.4 1362.7 L1413.4 1362.7 L1414.4 1362.7 L1415.3 1362.7 L1416.3 1362.7 L1417.3 1362.7 L1418.3 1362.6 L1419.2 1362.6 L1420.2 1362.6 L1421.2 1362.6 L1422.1 1362.6 L1423.1 1362.6 L1424.1 1362.6 L1425.0 1362.6 L1426.0 1362.6 L1427.0 1362.5 L1428.0 1362.5 L1428.9 1362.5 L1429.9 1362.5 L1430.9 1362.5 L1431.8 1362.5 L1432.8 1362.5 L1433.8 1362.5 L1434.7 1362.5 L1435.7 1362.4 L1436.7 1362.4 L1437.7 1362.4 L1438.6 1362.4 L1439.6 1362.4 L1440.6 1362.4 L1441.5 1362.4 L1442.5 1362.4 L1443.5 1362.4 L1444.4 1362.4 L1445.4 1362.4 L1446.4 1362.4 L1447.4 1362.3 L1448.3 1362.3" fill="none" stroke="#f6a03a" stroke-width="3" stroke-linejoin="round"/>
<path d="M1467.7 1370.3 L1469.7 1355.7 L1470.4 1355.9 L1471.4 1357.4 L1472.4 1358.9 L1473.4 1360.4 L1474.3 1361.9 L1475.3 1363.3 L1476.3 1364.7 L1477.2 1366.1 L1478.2 1367.5 L1479.2 1368.9 L1480.1 1370.2 L1481.1 1371.6 L1482.1 1372.8 L1483.0 1374.1 L1484.0 1375.3 L1485.0 1376.5 L1486.0 1377.6 L1486.9 1378.8 L1487.9 1379.8 L1488.9 1380.8 L1489.8 1381.8 L1490.8 1382.8 L1491.8 1383.7 L1492.8 1384.5 L1493.7 1385.3 L1494.7 1386.1 L1495.7 1386.8 L1496.6 1387.5 L1497.6 1388.1 L1498.6 1388.7 L1499.5 1389.3 L1500.5 1389.8 L1501.5 1390.2 L1502.5 1390.7 L1503.4 1391.1 L1504.4 1391.4 L1505.4 1391.8 L1506.3 1392.1 L1507.3 1392.4 L1508.3 1392.7 L1509.2 1393.0 L1510.2 1393.3 L1511.2 1393.6 L1512.2 1393.8 L1513.1 1394.1 L1514.1 1394.3 L1515.1 1394.5 L1516.0 1394.7 L1517.0 1394.9 L1518.0 1395.0 L1518.9 1395.2 L1519.9 1395.3 L1520.9 1395.5 L1521.8 1395.6 L1522.8 1395.7 L1523.8 1395.8 L1524.8 1395.9 L1525.7 1396.0 L1526.7 1396.1 L1527.7 1396.2 L1528.6 1396.3 L1529.6 1396.4 L1530.6 1396.5 L1531.5 1396.6 L1532.5 1396.6 L1533.5 1396.7 L1534.5 1396.8 L1535.4 1396.8 L1536.4 1396.9 L1537.4 1397.0 L1538.3 1397.0 L1539.3 1397.1 L1540.3 1397.2 L1541.2 1397.2 L1542.2 1397.3 L1543.2 1397.3 L1544.2 1397.4 L1545.1 1397.5 L1546.1 1397.5 L1547.1 1397.6 L1548.0 1397.6 L1549.0 1397.7 L1550.0 1397.7 L1551.0 1397.8 L1551.9 1397.8 L1552.9 1397.9 L1553.9 1397.9 L1554.8 1398.0 L1555.8 1398.0 L1556.8 1398.1 L1557.7 1398.1 L1558.7 1398.1 L1559.7 1398.2 L1560.7 1398.2 L1561.6 1398.3 L1562.6 1398.3 L1563.6 1398.4 L1564.5 1398.4 L1565.5 1398.4 L1566.5 1398.5 L1567.4 1398.5 L1568.4 1398.6 L1569.4 1398.6 L1570.3 1398.7 L1571.3 1398.7 L1572.3 1398.7 L1573.3 1398.8 L1574.2 1398.8 L1575.2 1398.8 L1576.2 1398.9 L1577.1 1398.9 L1578.1 1399.0 L1579.1 1399.0 L1580.0 1399.0 L1581.0 1399.1 L1582.0 1399.1 L1583.0 1399.1 L1583.9 1399.2 L1584.9 1399.2 L1585.9 1399.2 L1586.8 1399.3 L1587.8 1399.3 L1588.8 1399.4 L1589.8 1399.4 L1590.7 1399.4 L1591.7 1399.5 L1592.7 1399.5 L1593.6 1399.5 L1594.6 1399.5 L1595.6 1399.6 L1596.5 1399.6 L1597.5 1399.6 L1598.5 1399.7 L1599.5 1399.7 L1600.4 1399.7 L1601.4 1399.8 L1602.4 1399.8 L1603.3 1399.8 L1604.3 1399.9 L1605.3 1399.9 L1606.2 1399.9 L1607.2 1399.9 L1608.2 1400.0 L1609.2 1400.0 L1610.1 1400.0 L1611.1 1400.0 L1612.1 1400.1 L1613.0 1400.1 L1614.0 1400.1 L1615.0 1400.2 L1615.9 1400.2 L1616.9 1400.2 L1617.9 1400.2 L1618.8 1400.3 L1619.8 1400.3 L1620.8 1400.3 L1621.8 1400.3 L1622.7 1400.4 L1623.7 1400.4 L1624.7 1400.4 L1625.6 1400.4 L1626.6 1400.5 L1627.6 1400.5 L1628.5 1400.5 L1629.5 1400.5 L1630.5 1400.5 L1631.5 1400.6 L1632.4 1400.6 L1633.4 1400.6 L1634.4 1400.6 L1635.3 1400.7 L1636.3 1400.7 L1637.3 1400.7 L1638.2 1400.7 L1639.2 1400.7 L1640.2 1400.8 L1641.2 1400.8 L1642.1 1400.8 L1643.1 1400.8 L1644.1 1400.8 L1645.0 1400.9 L1646.0 1400.9 L1647.0 1400.9 L1648.0 1400.9 L1648.9 1400.9 L1649.9 1401.0 L1650.9 1401.0 L1651.8 1401.0 L1652.8 1401.0 L1653.8 1401.0 L1654.7 1401.1 L1655.7 1401.1 L1656.7 1401.1 L1657.7 1401.1 L1658.6 1401.1 L1659.6 1401.1 L1660.6 1401.2 L1661.5 1401.2 L1662.5 1401.2 L1663.5 1401.2 L1664.4 1401.2 L1665.4 1401.2 L1666.4 1401.3 L1667.3 1401.3 L1668.3 1401.3 L1669.3 1401.3 L1670.3 1401.3 L1671.2 1401.3 L1672.2 1401.4 L1673.2 1401.4 L1674.1 1401.4 L1675.1 1401.4 L1676.1 1401.4 L1677.0 1401.4 L1678.0 1401.4 L1679.0 1401.5 L1680.0 1401.5 L1680.9 1401.5 L1681.9 1401.5 L1682.9 1401.5 L1683.8 1401.5 L1684.8 1401.5 L1685.8 1401.6 L1686.8 1401.6 L1687.7 1401.6 L1688.7 1401.6 L1689.7 1401.6 L1690.6 1401.6 L1691.6 1401.6 L1692.6 1401.7 L1693.5 1401.7 L1694.5 1401.7 L1695.5 1401.7 L1696.5 1401.7 L1697.4 1401.7 L1698.4 1401.7 L1699.4 1401.7 L1700.3 1401.7 L1701.3 1401.8 L1702.3 1401.8 L1703.2 1401.8 L1704.2 1401.8 L1705.2 1401.8 L1706.2 1401.8 L1707.1 1401.8 L1708.1 1401.8 L1709.1 1401.9 L1710.0 1401.9 L1711.0 1401.9 L1712.0 1401.9 L1712.9 1401.9 L1713.9 1401.9 L1714.9 1401.9 L1715.8 1401.9 L1716.8 1401.9 L1717.8 1401.9 L1718.8 1402.0 L1719.7 1402.0 L1720.7 1402.0 L1721.7 1402.0 L1722.6 1402.0 L1723.6 1402.0 L1724.6 1402.0 L1725.5 1402.0 L1726.5 1402.0 L1727.5 1402.0 L1728.5 1402.0 L1729.4 1402.1 L1730.4 1402.1 L1731.4 1402.1 L1732.3 1402.1 L1733.3 1402.1 L1734.3 1402.1 L1735.2 1402.1 L1736.2 1402.1 L1737.2 1402.1 L1738.2 1402.1 L1739.1 1402.1 L1740.1 1402.2 L1741.1 1402.2 L1742.0 1402.2 L1743.0 1402.2 L1744.0 1402.2 L1745.0 1402.2 L1745.9 1402.2 L1746.9 1402.2 L1747.9 1402.2 L1748.8 1402.2 L1749.8 1402.2 L1750.8 1402.2 L1751.7 1402.2 L1752.7 1402.3 L1753.7 1402.3 L1754.7 1402.3 L1755.6 1402.3 L1756.6 1402.3 L1757.6 1402.3 L1758.5 1402.3 L1759.5 1402.3 L1760.5 1402.3 L1761.4 1402.3 L1762.4 1402.3 L1763.4 1402.3 L1764.3 1402.3 L1765.3 1402.3 L1766.3 1402.3 L1767.3 1402.4 L1768.2 1402.4 L1769.2 1402.4 L1770.2 1402.4 L1771.1 1402.4 L1772.1 1402.4 L1773.1 1402.4 L1774.1 1402.4 L1775.0 1402.4 L1776.0 1402.4 L1777.0 1402.4 L1777.9 1402.4 L1778.9 1402.4" fill="none" stroke="#f6a03a" stroke-width="3" stroke-linejoin="round"/>
<text x="1458.0" y="1371.3" font-family="Liberation Sans" font-size="25" font-weight="bold" text-anchor="middle" fill="#2a3440" >H</text>
<path d="M1158.1 1405.5 L1162.0 1406.4 L1165.9 1406.8 L1169.7 1406.1 L1173.6 1405.7 L1177.5 1406.4 L1181.4 1407.2 L1185.3 1407.0 L1189.1 1406.3 L1193.0 1406.4 L1196.9 1407.4 L1200.8 1407.7 L1204.7 1407.1 L1208.5 1406.7 L1212.4 1407.4 L1216.3 1408.2 L1220.2 1407.9 L1224.1 1407.2 L1227.9 1407.4" fill="none" stroke="#4fbd5c" stroke-width="3" stroke-linejoin="round"/>
<path d="M1235.7 1406.0 L1236.9 1420.5 L1238.8 1432.4 L1239.8 1429.3 L1240.7 1426.1 L1241.7 1423.0 L1242.7 1419.8 L1243.7 1416.7 L1244.6 1413.5 L1245.6 1410.4 L1246.6 1407.3 L1247.5 1404.1 L1248.5 1401.0 L1249.5 1397.8 L1250.4 1394.7 L1251.4 1391.6 L1252.4 1388.4 L1253.4 1385.3 L1254.3 1382.2 L1255.3 1379.0 L1256.3 1375.9 L1257.2 1372.8 L1258.2 1369.8 L1259.2 1366.7 L1260.1 1363.7 L1261.1 1360.6 L1262.1 1357.7 L1263.1 1354.8 L1264.0 1352.0 L1265.0 1349.2 L1266.0 1346.6 L1266.9 1344.2 L1267.9 1341.9 L1268.9 1339.8 L1269.8 1337.9 L1270.8 1336.3 L1271.8 1334.6 L1272.8 1333.2 L1273.7 1331.9 L1274.7 1330.9 L1275.7 1330.1 L1276.6 1329.3 L1277.6 1328.7 L1278.6 1328.2 L1279.5 1327.8 L1280.5 1327.4 L1281.5 1327.1 L1282.5 1326.8 L1283.4 1326.5 L1284.4 1326.2 L1285.4 1326.0 L1286.3 1325.8 L1287.3 1325.5 L1288.3 1325.3 L1289.2 1325.1 L1290.2 1324.9 L1291.2 1324.8 L1292.2 1324.6 L1293.1 1324.4 L1294.1 1324.2 L1295.1 1324.1 L1296.0 1323.9 L1297.0 1323.7 L1298.0 1323.6 L1298.9 1323.4 L1299.9 1323.2 L1300.9 1323.1 L1301.9 1322.9 L1302.8 1322.8 L1303.8 1322.7 L1304.8 1322.5 L1305.7 1322.4 L1306.7 1322.2 L1307.7 1322.1 L1308.6 1322.0 L1309.6 1321.8 L1310.6 1321.7 L1311.6 1321.6 L1312.5 1321.5 L1313.5 1321.3 L1314.5 1321.2 L1315.4 1321.1 L1316.4 1321.0 L1317.4 1320.9 L1318.3 1320.7 L1319.3 1320.6 L1320.3 1320.5 L1321.3 1320.4 L1322.2 1320.3 L1323.2 1320.2 L1324.2 1320.1 L1325.1 1320.0 L1326.1 1319.9 L1327.1 1319.8 L1328.0 1319.7 L1329.0 1319.6 L1330.0 1319.5 L1331.0 1319.4 L1331.9 1319.3 L1332.9 1319.3 L1333.9 1319.2 L1334.8 1319.1 L1335.8 1319.0 L1336.8 1318.9 L1337.7 1318.8 L1338.7 1318.8 L1339.7 1318.7 L1340.7 1318.6 L1341.6 1318.5 L1342.6 1318.5 L1343.6 1318.4 L1344.5 1318.3 L1345.5 1318.2 L1346.5 1318.2 L1347.4 1318.1 L1348.4 1318.0 L1349.4 1318.0 L1350.4 1317.9 L1351.3 1317.8 L1352.3 1317.8 L1353.3 1317.7 L1354.2 1317.7 L1355.2 1317.6 L1356.2 1317.5 L1357.1 1317.5 L1358.1 1317.4 L1359.1 1317.4 L1360.1 1317.3 L1361.0 1317.3 L1362.0 1317.2 L1363.0 1317.1 L1363.9 1317.1 L1364.9 1317.0 L1365.9 1317.0 L1366.8 1316.9 L1367.8 1316.9 L1368.8 1316.9 L1369.8 1316.8 L1370.7 1316.8 L1371.7 1316.7 L1372.7 1316.7 L1373.6 1316.6 L1374.6 1316.6 L1375.6 1316.5 L1376.5 1316.5 L1377.5 1316.5 L1378.5 1316.4 L1379.5 1316.4 L1380.4 1316.3 L1381.4 1316.3 L1382.4 1316.3 L1383.3 1316.2 L1384.3 1316.2 L1385.3 1316.2 L1386.2 1316.1 L1387.2 1316.1 L1388.2 1316.1 L1389.2 1316.0 L1390.1 1316.0 L1391.1 1316.0 L1392.1 1315.9 L1393.0 1315.9 L1394.0 1315.9 L1395.0 1315.8 L1395.9 1315.8 L1396.9 1315.8 L1397.9 1315.7 L1398.9 1315.7 L1399.8 1315.7 L1400.8 1315.7 L1401.8 1315.6 L1402.7 1315.6 L1403.7 1315.6 L1404.7 1315.6 L1405.6 1315.5 L1406.6 1315.5 L1407.6 1315.5 L1408.6 1315.5 L1409.5 1315.4 L1410.5 1315.4 L1411.5 1315.4 L1412.4 1315.4 L1413.4 1315.3 L1414.4 1315.3 L1415.3 1315.3 L1416.3 1315.3 L1417.3 1315.3 L1418.3 1315.2 L1419.2 1315.2 L1420.2 1315.2 L1421.2 1315.2 L1422.1 1315.2 L1423.1 1315.1 L1424.1 1315.1 L1425.0 1315.1 L1426.0 1315.1 L1427.0 1315.1 L1428.0 1315.0 L1428.9 1315.0 L1429.9 1315.0 L1430.9 1315.0 L1431.8 1315.0 L1432.8 1315.0 L1433.8 1315.0 L1434.7 1314.9 L1435.7 1314.9 L1436.7 1314.9 L1437.7 1314.9 L1438.6 1314.9 L1439.6 1314.9 L1440.6 1314.9 L1441.5 1314.8 L1442.5 1314.8 L1443.5 1314.8 L1444.4 1314.8 L1445.4 1314.8 L1446.4 1314.8 L1447.4 1314.8 L1448.3 1314.7" fill="none" stroke="#4fbd5c" stroke-width="3" stroke-linejoin="round"/>
<path d="M1467.7 1322.7 L1469.7 1312.1 L1470.4 1314.5 L1471.4 1317.8 L1472.4 1321.1 L1473.4 1324.4 L1474.3 1327.6 L1475.3 1330.9 L1476.3 1334.1 L1477.2 1337.3 L1478.2 1340.4 L1479.2 1343.6 L1480.1 1346.7 L1481.1 1349.7 L1482.1 1352.7 L1483.0 1355.6 L1484.0 1358.5 L1485.0 1361.3 L1486.0 1364.0 L1486.9 1366.5 L1487.9 1369.0 L1488.9 1371.4 L1489.8 1373.6 L1490.8 1375.7 L1491.8 1377.6 L1492.8 1379.4 L1493.7 1381.0 L1494.7 1382.5 L1495.7 1383.8 L1496.6 1385.0 L1497.6 1386.0 L1498.6 1387.0 L1499.5 1387.8 L1500.5 1388.5 L1501.5 1389.1 L1502.5 1389.6 L1503.4 1390.0 L1504.4 1390.4 L1505.4 1390.7 L1506.3 1391.0 L1507.3 1391.2 L1508.3 1391.5 L1509.2 1391.8 L1510.2 1392.0 L1511.2 1392.2 L1512.2 1392.4 L1513.1 1392.5 L1514.1 1392.7 L1515.1 1392.8 L1516.0 1392.9 L1517.0 1393.1 L1518.0 1393.2 L1518.9 1393.3 L1519.9 1393.4 L1520.9 1393.5 L1521.8 1393.6 L1522.8 1393.6 L1523.8 1393.7 L1524.8 1393.8 L1525.7 1393.9 L1526.7 1394.0 L1527.7 1394.0 L1528.6 1394.1 L1529.6 1394.2 L1530.6 1394.3 L1531.5 1394.3 L1532.5 1394.4 L1533.5 1394.5 L1534.5 1394.6 L1535.4 1394.6 L1536.4 1394.7 L1537.4 1394.8 L1538.3 1394.8 L1539.3 1394.9 L1540.3 1394.9 L1541.2 1395.0 L1542.2 1395.1 L1543.2 1395.1 L1544.2 1395.2 L1545.1 1395.3 L1546.1 1395.3 L1547.1 1395.4 L1548.0 1395.4 L1549.0 1395.5 L1550.0 1395.6 L1551.0 1395.6 L1551.9 1395.7 L1552.9 1395.7 L1553.9 1395.8 L1554.8 1395.8 L1555.8 1395.9 L1556.8 1396.0 L1557.7 1396.0 L1558.7 1396.1 L1559.7 1396.1 L1560.7 1396.2 L1561.6 1396.2 L1562.6 1396.3 L1563.6 1396.3 L1564.5 1396.4 L1565.5 1396.4 L1566.5 1396.5 L1567.4 1396.5 L1568.4 1396.6 L1569.4 1396.6 L1570.3 1396.7 L1571.3 1396.7 L1572.3 1396.8 L1573.3 1396.8 L1574.2 1396.9 L1575.2 1396.9 L1576.2 1396.9 L1577.1 1397.0 L1578.1 1397.0 L1579.1 1397.1 L1580.0 1397.1 L1581.0 1397.2 L1582.0 1397.2 L1583.0 1397.3 L1583.9 1397.3 L1584.9 1397.3 L1585.9 1397.4 L1586.8 1397.4 L1587.8 1397.5 L1588.8 1397.5 L1589.8 1397.5 L1590.7 1397.6 L1591.7 1397.6 L1592.7 1397.7 L1593.6 1397.7 L1594.6 1397.7 L1595.6 1397.8 L1596.5 1397.8 L1597.5 1397.9 L1598.5 1397.9 L1599.5 1397.9 L1600.4 1398.0 L1601.4 1398.0 L1602.4 1398.0 L1603.3 1398.1 L1604.3 1398.1 L1605.3 1398.1 L1606.2 1398.2 L1607.2 1398.2 L1608.2 1398.2 L1609.2 1398.3 L1610.1 1398.3 L1611.1 1398.3 L1612.1 1398.4 L1613.0 1398.4 L1614.0 1398.4 L1615.0 1398.5 L1615.9 1398.5 L1616.9 1398.5 L1617.9 1398.6 L1618.8 1398.6 L1619.8 1398.6 L1620.8 1398.7 L1621.8 1398.7 L1622.7 1398.7 L1623.7 1398.7 L1624.7 1398.8 L1625.6 1398.8 L1626.6 1398.8 L1627.6 1398.9 L1628.5 1398.9 L1629.5 1398.9 L1630.5 1398.9 L1631.5 1399.0 L1632.4 1399.0 L1633.4 1399.0 L1634.4 1399.0 L1635.3 1399.1 L1636.3 1399.1 L1637.3 1399.1 L1638.2 1399.1 L1639.2 1399.2 L1640.2 1399.2 L1641.2 1399.2 L1642.1 1399.2 L1643.1 1399.3 L1644.1 1399.3 L1645.0 1399.3 L1646.0 1399.3 L1647.0 1399.4 L1648.0 1399.4 L1648.9 1399.4 L1649.9 1399.4 L1650.9 1399.5 L1651.8 1399.5 L1652.8 1399.5 L1653.8 1399.5 L1654.7 1399.5 L1655.7 1399.6 L1656.7 1399.6 L1657.7 1399.6 L1658.6 1399.6 L1659.6 1399.7 L1660.6 1399.7 L1661.5 1399.7 L1662.5 1399.7 L1663.5 1399.7 L1664.4 1399.8 L1665.4 1399.8 L1666.4 1399.8 L1667.3 1399.8 L1668.3 1399.8 L1669.3 1399.9 L1670.3 1399.9 L1671.2 1399.9 L1672.2 1399.9 L1673.2 1399.9 L1674.1 1399.9 L1675.1 1400.0 L1676.1 1400.0 L1677.0 1400.0 L1678.0 1400.0 L1679.0 1400.0 L1680.0 1400.1 L1680.9 1400.1 L1681.9 1400.1 L1682.9 1400.1 L1683.8 1400.1 L1684.8 1400.1 L1685.8 1400.2 L1686.8 1400.2 L1687.7 1400.2 L1688.7 1400.2 L1689.7 1400.2 L1690.6 1400.2 L1691.6 1400.2 L1692.6 1400.3 L1693.5 1400.3 L1694.5 1400.3 L1695.5 1400.3 L1696.5 1400.3 L1697.4 1400.3 L1698.4 1400.3 L1699.4 1400.4 L1700.3 1400.4 L1701.3 1400.4 L1702.3 1400.4 L1703.2 1400.4 L1704.2 1400.4 L1705.2 1400.4 L1706.2 1400.5 L1707.1 1400.5 L1708.1 1400.5 L1709.1 1400.5 L1710.0 1400.5 L1711.0 1400.5 L1712.0 1400.5 L1712.9 1400.6 L1713.9 1400.6 L1714.9 1400.6 L1715.8 1400.6 L1716.8 1400.6 L1717.8 1400.6 L1718.8 1400.6 L1719.7 1400.6 L1720.7 1400.6 L1721.7 1400.7 L1722.6 1400.7 L1723.6 1400.7 L1724.6 1400.7 L1725.5 1400.7 L1726.5 1400.7 L1727.5 1400.7 L1728.5 1400.7 L1729.4 1400.8 L1730.4 1400.8 L1731.4 1400.8 L1732.3 1400.8 L1733.3 1400.8 L1734.3 1400.8 L1735.2 1400.8 L1736.2 1400.8 L1737.2 1400.8 L1738.2 1400.8 L1739.1 1400.9 L1740.1 1400.9 L1741.1 1400.9 L1742.0 1400.9 L1743.0 1400.9 L1744.0 1400.9 L1745.0 1400.9 L1745.9 1400.9 L1746.9 1400.9 L1747.9 1400.9 L1748.8 1400.9 L1749.8 1401.0 L1750.8 1401.0 L1751.7 1401.0 L1752.7 1401.0 L1753.7 1401.0 L1754.7 1401.0 L1755.6 1401.0 L1756.6 1401.0 L1757.6 1401.0 L1758.5 1401.0 L1759.5 1401.0 L1760.5 1401.0 L1761.4 1401.1 L1762.4 1401.1 L1763.4 1401.1 L1764.3 1401.1 L1765.3 1401.1 L1766.3 1401.1 L1767.3 1401.1 L1768.2 1401.1 L1769.2 1401.1 L1770.2 1401.1 L1771.1 1401.1 L1772.1 1401.1 L1773.1 1401.1 L1774.1 1401.2 L1775.0 1401.2 L1776.0 1401.2 L1777.0 1401.2 L1777.9 1401.2 L1778.9 1401.2" fill="none" stroke="#4fbd5c" stroke-width="3" stroke-linejoin="round"/>
<text x="1458.0" y="1323.7" font-family="Liberation Sans" font-size="25" font-weight="bold" text-anchor="middle" fill="#2a3440" >H</text>
<path d="M1158.1 1405.8 L1162.0 1404.7 L1165.9 1405.9 L1169.7 1407.5 L1173.6 1407.1 L1177.5 1405.5 L1181.4 1405.6 L1185.3 1407.3 L1189.1 1408.0 L1193.0 1406.7 L1196.9 1405.7 L1200.8 1406.9 L1204.7 1408.5 L1208.5 1408.0 L1212.4 1406.4 L1216.3 1406.5 L1220.2 1408.3 L1224.1 1409.0 L1227.9 1407.6" fill="none" stroke="#ee72aa" stroke-width="3" stroke-linejoin="round"/>
<path d="M1235.7 1406.0 L1236.9 1421.8 L1238.8 1435.0 L1239.8 1429.3 L1240.7 1423.5 L1241.7 1417.8 L1242.7 1412.0 L1243.7 1406.3 L1244.6 1400.5 L1245.6 1394.8 L1246.6 1389.0 L1247.5 1383.3 L1248.5 1377.5 L1249.5 1371.8 L1250.4 1366.0 L1251.4 1360.3 L1252.4 1354.5 L1253.4 1348.8 L1254.3 1343.0 L1255.3 1337.3 L1256.3 1331.6 L1257.2 1325.8 L1258.2 1320.1 L1259.2 1314.4 L1260.1 1308.8 L1261.1 1303.2 L1262.1 1297.7 L1263.1 1292.3 L1264.0 1287.0 L1265.0 1282.1 L1266.0 1277.4 L1266.9 1273.2 L1267.9 1269.6 L1268.9 1266.4 L1269.8 1263.7 L1270.8 1261.6 L1271.8 1260.0 L1272.8 1258.8 L1273.7 1257.9 L1274.7 1257.3 L1275.7 1256.7 L1276.6 1256.3 L1277.6 1256.0 L1278.6 1255.7 L1279.5 1255.4 L1280.5 1255.2 L1281.5 1254.9 L1282.5 1254.7 L1283.4 1254.5 L1284.4 1254.3 L1285.4 1254.1 L1286.3 1253.9 L1287.3 1253.7 L1288.3 1253.5 L1289.2 1253.4 L1290.2 1253.2 L1291.2 1253.0 L1292.2 1252.8 L1293.1 1252.7 L1294.1 1252.5 L1295.1 1252.3 L1296.0 1252.2 L1297.0 1252.0 L1298.0 1251.9 L1298.9 1251.7 L1299.9 1251.6 L1300.9 1251.4 L1301.9 1251.3 L1302.8 1251.1 L1303.8 1251.0 L1304.8 1250.9 L1305.7 1250.7 L1306.7 1250.6 L1307.7 1250.5 L1308.6 1250.3 L1309.6 1250.2 L1310.6 1250.1 L1311.6 1250.0 L1312.5 1249.8 L1313.5 1249.7 L1314.5 1249.6 L1315.4 1249.5 L1316.4 1249.4 L1317.4 1249.3 L1318.3 1249.2 L1319.3 1249.0 L1320.3 1248.9 L1321.3 1248.8 L1322.2 1248.7 L1323.2 1248.6 L1324.2 1248.5 L1325.1 1248.4 L1326.1 1248.3 L1327.1 1248.2 L1328.0 1248.2 L1329.0 1248.1 L1330.0 1248.0 L1331.0 1247.9 L1331.9 1247.8 L1332.9 1247.7 L1333.9 1247.6 L1334.8 1247.6 L1335.8 1247.5 L1336.8 1247.4 L1337.7 1247.3 L1338.7 1247.2 L1339.7 1247.2 L1340.7 1247.1 L1341.6 1247.0 L1342.6 1246.9 L1343.6 1246.9 L1344.5 1246.8 L1345.5 1246.7 L1346.5 1246.7 L1347.4 1246.6 L1348.4 1246.5 L1349.4 1246.5 L1350.4 1246.4 L1351.3 1246.3 L1352.3 1246.3 L1353.3 1246.2 L1354.2 1246.2 L1355.2 1246.1 L1356.2 1246.1 L1357.1 1246.0 L1358.1 1245.9 L1359.1 1245.9 L1360.1 1245.8 L1361.0 1245.8 L1362.0 1245.7 L1363.0 1245.7 L1363.9 1245.6 L1364.9 1245.6 L1365.9 1245.5 L1366.8 1245.5 L1367.8 1245.4 L1368.8 1245.4 L1369.8 1245.3 L1370.7 1245.3 L1371.7 1245.3 L1372.7 1245.2 L1373.6 1245.2 L1374.6 1245.1 L1375.6 1245.1 L1376.5 1245.1 L1377.5 1245.0 L1378.5 1245.0 L1379.5 1244.9 L1380.4 1244.9 L1381.4 1244.9 L1382.4 1244.8 L1383.3 1244.8 L1384.3 1244.8 L1385.3 1244.7 L1386.2 1244.7 L1387.2 1244.7 L1388.2 1244.6 L1389.2 1244.6 L1390.1 1244.6 L1391.1 1244.5 L1392.1 1244.5 L1393.0 1244.5 L1394.0 1244.4 L1395.0 1244.4 L1395.9 1244.4 L1396.9 1244.3 L1397.9 1244.3 L1398.9 1244.3 L1399.8 1244.3 L1400.8 1244.2 L1401.8 1244.2 L1402.7 1244.2 L1403.7 1244.2 L1404.7 1244.1 L1405.6 1244.1 L1406.6 1244.1 L1407.6 1244.1 L1408.6 1244.0 L1409.5 1244.0 L1410.5 1244.0 L1411.5 1244.0 L1412.4 1244.0 L1413.4 1243.9 L1414.4 1243.9 L1415.3 1243.9 L1416.3 1243.9 L1417.3 1243.8 L1418.3 1243.8 L1419.2 1243.8 L1420.2 1243.8 L1421.2 1243.8 L1422.1 1243.8 L1423.1 1243.7 L1424.1 1243.7 L1425.0 1243.7 L1426.0 1243.7 L1427.0 1243.7 L1428.0 1243.7 L1428.9 1243.6 L1429.9 1243.6 L1430.9 1243.6 L1431.8 1243.6 L1432.8 1243.6 L1433.8 1243.6 L1434.7 1243.5 L1435.7 1243.5 L1436.7 1243.5 L1437.7 1243.5 L1438.6 1243.5 L1439.6 1243.5 L1440.6 1243.5 L1441.5 1243.4 L1442.5 1243.4 L1443.5 1243.4 L1444.4 1243.4 L1445.4 1243.4 L1446.4 1243.4 L1447.4 1243.4 L1448.3 1243.4" fill="none" stroke="#ee72aa" stroke-width="3" stroke-linejoin="round"/>
<path d="M1467.7 1251.3 L1469.7 1247.3 L1470.4 1250.3 L1471.4 1254.2 L1472.4 1258.0 L1473.4 1261.9 L1474.3 1265.7 L1475.3 1269.5 L1476.3 1273.4 L1477.2 1277.2 L1478.2 1281.0 L1479.2 1284.8 L1480.1 1288.6 L1481.1 1292.4 L1482.1 1296.2 L1483.0 1300.0 L1484.0 1303.7 L1485.0 1307.5 L1486.0 1311.2 L1486.9 1314.9 L1487.9 1318.6 L1488.9 1322.2 L1489.8 1325.8 L1490.8 1329.3 L1491.8 1332.8 L1492.8 1336.3 L1493.7 1339.7 L1494.7 1343.0 L1495.7 1346.2 L1496.6 1349.3 L1497.6 1352.3 L1498.6 1355.3 L1499.5 1358.0 L1500.5 1360.7 L1501.5 1363.2 L1502.5 1365.6 L1503.4 1367.8 L1504.4 1369.8 L1505.4 1371.7 L1506.3 1373.4 L1507.3 1375.0 L1508.3 1376.5 L1509.2 1377.9 L1510.2 1379.1 L1511.2 1380.2 L1512.2 1381.2 L1513.1 1382.1 L1514.1 1382.9 L1515.1 1383.6 L1516.0 1384.2 L1517.0 1384.7 L1518.0 1385.2 L1518.9 1385.7 L1519.9 1386.0 L1520.9 1386.4 L1521.8 1386.7 L1522.8 1387.0 L1523.8 1387.2 L1524.8 1387.4 L1525.7 1387.6 L1526.7 1387.8 L1527.7 1388.0 L1528.6 1388.2 L1529.6 1388.3 L1530.6 1388.5 L1531.5 1388.6 L1532.5 1388.7 L1533.5 1388.9 L1534.5 1389.0 L1535.4 1389.1 L1536.4 1389.2 L1537.4 1389.3 L1538.3 1389.4 L1539.3 1389.5 L1540.3 1389.6 L1541.2 1389.7 L1542.2 1389.8 L1543.2 1389.9 L1544.2 1390.0 L1545.1 1390.1 L1546.1 1390.1 L1547.1 1390.2 L1548.0 1390.3 L1549.0 1390.4 L1550.0 1390.5 L1551.0 1390.6 L1551.9 1390.6 L1552.9 1390.7 L1553.9 1390.8 L1554.8 1390.9 L1555.8 1391.0 L1556.8 1391.0 L1557.7 1391.1 L1558.7 1391.2 L1559.7 1391.3 L1560.7 1391.3 L1561.6 1391.4 L1562.6 1391.5 L1563.6 1391.5 L1564.5 1391.6 L1565.5 1391.7 L1566.5 1391.8 L1567.4 1391.8 L1568.4 1391.9 L1569.4 1392.0 L1570.3 1392.0 L1571.3 1392.1 L1572.3 1392.2 L1573.3 1392.2 L1574.2 1392.3 L1575.2 1392.3 L1576.2 1392.4 L1577.1 1392.5 L1578.1 1392.5 L1579.1 1392.6 L1580.0 1392.7 L1581.0 1392.7 L1582.0 1392.8 L1583.0 1392.8 L1583.9 1392.9 L1584.9 1393.0 L1585.9 1393.0 L1586.8 1393.1 L1587.8 1393.1 L1588.8 1393.2 L1589.8 1393.2 L1590.7 1393.3 L1591.7 1393.4 L1592.7 1393.4 L1593.6 1393.5 L1594.6 1393.5 L1595.6 1393.6 L1596.5 1393.6 L1597.5 1393.7 L1598.5 1393.7 L1599.5 1393.8 L1600.4 1393.8 L1601.4 1393.9 L1602.4 1393.9 L1603.3 1394.0 L1604.3 1394.0 L1605.3 1394.1 L1606.2 1394.1 L1607.2 1394.2 L1608.2 1394.2 L1609.2 1394.3 L1610.1 1394.3 L1611.1 1394.3 L1612.1 1394.4 L1613.0 1394.4 L1614.0 1394.5 L1615.0 1394.5 L1615.9 1394.6 L1616.9 1394.6 L1617.9 1394.7 L1618.8 1394.7 L1619.8 1394.7 L1620.8 1394.8 L1621.8 1394.8 L1622.7 1394.9 L1623.7 1394.9 L1624.7 1394.9 L1625.6 1395.0 L1626.6 1395.0 L1627.6 1395.1 L1628.5 1395.1 L1629.5 1395.1 L1630.5 1395.2 L1631.5 1395.2 L1632.4 1395.3 L1633.4 1395.3 L1634.4 1395.3 L1635.3 1395.4 L1636.3 1395.4 L1637.3 1395.4 L1638.2 1395.5 L1639.2 1395.5 L1640.2 1395.5 L1641.2 1395.6 L1642.1 1395.6 L1643.1 1395.6 L1644.1 1395.7 L1645.0 1395.7 L1646.0 1395.7 L1647.0 1395.8 L1648.0 1395.8 L1648.9 1395.8 L1649.9 1395.9 L1650.9 1395.9 L1651.8 1395.9 L1652.8 1396.0 L1653.8 1396.0 L1654.7 1396.0 L1655.7 1396.1 L1656.7 1396.1 L1657.7 1396.1 L1658.6 1396.1 L1659.6 1396.2 L1660.6 1396.2 L1661.5 1396.2 L1662.5 1396.3 L1663.5 1396.3 L1664.4 1396.3 L1665.4 1396.3 L1666.4 1396.4 L1667.3 1396.4 L1668.3 1396.4 L1669.3 1396.4 L1670.3 1396.5 L1671.2 1396.5 L1672.2 1396.5 L1673.2 1396.6 L1674.1 1396.6 L1675.1 1396.6 L1676.1 1396.6 L1677.0 1396.7 L1678.0 1396.7 L1679.0 1396.7 L1680.0 1396.7 L1680.9 1396.7 L1681.9 1396.8 L1682.9 1396.8 L1683.8 1396.8 L1684.8 1396.8 L1685.8 1396.9 L1686.8 1396.9 L1687.7 1396.9 L1688.7 1396.9 L1689.7 1397.0 L1690.6 1397.0 L1691.6 1397.0 L1692.6 1397.0 L1693.5 1397.0 L1694.5 1397.1 L1695.5 1397.1 L1696.5 1397.1 L1697.4 1397.1 L1698.4 1397.1 L1699.4 1397.2 L1700.3 1397.2 L1701.3 1397.2 L1702.3 1397.2 L1703.2 1397.2 L1704.2 1397.3 L1705.2 1397.3 L1706.2 1397.3 L1707.1 1397.3 L1708.1 1397.3 L1709.1 1397.4 L1710.0 1397.4 L1711.0 1397.4 L1712.0 1397.4 L1712.9 1397.4 L1713.9 1397.4 L1714.9 1397.5 L1715.8 1397.5 L1716.8 1397.5 L1717.8 1397.5 L1718.8 1397.5 L1719.7 1397.5 L1720.7 1397.6 L1721.7 1397.6 L1722.6 1397.6 L1723.6 1397.6 L1724.6 1397.6 L1725.5 1397.6 L1726.5 1397.7 L1727.5 1397.7 L1728.5 1397.7 L1729.4 1397.7 L1730.4 1397.7 L1731.4 1397.7 L1732.3 1397.7 L1733.3 1397.8 L1734.3 1397.8 L1735.2 1397.8 L1736.2 1397.8 L1737.2 1397.8 L1738.2 1397.8 L1739.1 1397.8 L1740.1 1397.9 L1741.1 1397.9 L1742.0 1397.9 L1743.0 1397.9 L1744.0 1397.9 L1745.0 1397.9 L1745.9 1397.9 L1746.9 1397.9 L1747.9 1398.0 L1748.8 1398.0 L1749.8 1398.0 L1750.8 1398.0 L1751.7 1398.0 L1752.7 1398.0 L1753.7 1398.0 L1754.7 1398.0 L1755.6 1398.1 L1756.6 1398.1 L1757.6 1398.1 L1758.5 1398.1 L1759.5 1398.1 L1760.5 1398.1 L1761.4 1398.1 L1762.4 1398.1 L1763.4 1398.1 L1764.3 1398.2 L1765.3 1398.2 L1766.3 1398.2 L1767.3 1398.2 L1768.2 1398.2 L1769.2 1398.2 L1770.2 1398.2 L1771.1 1398.2 L1772.1 1398.2 L1773.1 1398.3 L1774.1 1398.3 L1775.0 1398.3 L1776.0 1398.3 L1777.0 1398.3 L1777.9 1398.3 L1778.9 1398.3" fill="none" stroke="#ee72aa" stroke-width="3" stroke-linejoin="round"/>
<text x="1458.0" y="1252.3" font-family="Liberation Sans" font-size="25" font-weight="bold" text-anchor="middle" fill="#2a3440" >H</text>
<path d="M1158.1 1406.6 L1162.0 1406.4 L1165.9 1405.7 L1169.7 1405.7 L1173.6 1406.7 L1177.5 1407.1 L1181.4 1406.5 L1185.3 1406.0 L1189.1 1406.6 L1193.0 1407.5 L1196.9 1407.4 L1200.8 1406.6 L1204.7 1406.7 L1208.5 1407.6 L1212.4 1408.1 L1216.3 1407.4 L1220.2 1407.0 L1224.1 1407.6 L1227.9 1408.5" fill="none" stroke="#aa8a2e" stroke-width="3" stroke-linejoin="round"/>
<path d="M1235.7 1398.0 L1236.9 1425.1 L1238.8 1441.6 L1239.8 1435.6 L1240.7 1429.5 L1241.7 1423.4 L1242.7 1417.4 L1243.7 1411.3 L1244.6 1405.2 L1245.6 1399.2 L1246.6 1393.1 L1247.5 1387.1 L1248.5 1381.0 L1249.5 1374.9 L1250.4 1368.9 L1251.4 1362.8 L1252.4 1356.8 L1253.4 1350.8 L1254.3 1344.7 L1255.3 1338.7 L1256.3 1332.7 L1257.2 1326.7 L1258.2 1320.8 L1259.2 1314.8 L1260.1 1309.0 L1261.1 1303.1 L1262.1 1297.3 L1263.1 1291.6 L1264.0 1285.9 L1265.0 1280.4 L1266.0 1274.9 L1266.9 1269.7 L1267.9 1264.6 L1268.9 1259.6 L1269.8 1255.0 L1270.8 1250.5 L1271.8 1246.4 L1272.8 1242.6 L1273.7 1239.1 L1274.7 1235.9 L1275.7 1232.6 L1276.6 1229.8 L1277.6 1227.2 L1278.6 1225.0 L1279.5 1223.0 L1280.5 1221.3 L1281.5 1219.9 L1282.5 1218.6 L1283.4 1217.5 L1284.4 1216.5 L1285.4 1215.7 L1286.3 1214.9 L1287.3 1214.3 L1288.3 1213.7 L1289.2 1213.1 L1290.2 1212.6 L1291.2 1212.1 L1292.2 1211.7 L1293.1 1211.3 L1294.1 1210.9 L1295.1 1210.6 L1296.0 1210.2 L1297.0 1209.9 L1298.0 1209.6 L1298.9 1209.2 L1299.9 1208.9 L1300.9 1208.6 L1301.9 1208.4 L1302.8 1208.1 L1303.8 1207.8 L1304.8 1207.5 L1305.7 1207.3 L1306.7 1207.0 L1307.7 1206.8 L1308.6 1206.5 L1309.6 1206.3 L1310.6 1206.0 L1311.6 1205.8 L1312.5 1205.6 L1313.5 1205.3 L1314.5 1205.1 L1315.4 1204.9 L1316.4 1204.7 L1317.4 1204.5 L1318.3 1204.2 L1319.3 1204.0 L1320.3 1203.8 L1321.3 1203.6 L1322.2 1203.4 L1323.2 1203.2 L1324.2 1203.1 L1325.1 1202.9 L1326.1 1202.7 L1327.1 1202.5 L1328.0 1202.3 L1329.0 1202.2 L1330.0 1202.0 L1331.0 1201.8 L1331.9 1201.7 L1332.9 1201.5 L1333.9 1201.3 L1334.8 1201.2 L1335.8 1201.0 L1336.8 1200.9 L1337.7 1200.7 L1338.7 1200.6 L1339.7 1200.4 L1340.7 1200.3 L1341.6 1200.1 L1342.6 1200.0 L1343.6 1199.9 L1344.5 1199.7 L1345.5 1199.6 L1346.5 1199.5 L1347.4 1199.3 L1348.4 1199.2 L1349.4 1199.1 L1350.4 1199.0 L1351.3 1198.9 L1352.3 1198.7 L1353.3 1198.6 L1354.2 1198.5 L1355.2 1198.4 L1356.2 1198.3 L1357.1 1198.2 L1358.1 1198.1 L1359.1 1198.0 L1360.1 1197.9 L1361.0 1197.8 L1362.0 1197.7 L1363.0 1197.6 L1363.9 1197.5 L1364.9 1197.4 L1365.9 1197.3 L1366.8 1197.2 L1367.8 1197.1 L1368.8 1197.0 L1369.8 1196.9 L1370.7 1196.9 L1371.7 1196.8 L1372.7 1196.7 L1373.6 1196.6 L1374.6 1196.5 L1375.6 1196.5 L1376.5 1196.4 L1377.5 1196.3 L1378.5 1196.2 L1379.5 1196.2 L1380.4 1196.1 L1381.4 1196.0 L1382.4 1195.9 L1383.3 1195.9 L1384.3 1195.8 L1385.3 1195.7 L1386.2 1195.7 L1387.2 1195.6 L1388.2 1195.5 L1389.2 1195.5 L1390.1 1195.4 L1391.1 1195.4 L1392.1 1195.3 L1393.0 1195.2 L1394.0 1195.2 L1395.0 1195.1 L1395.9 1195.1 L1396.9 1195.0 L1397.9 1195.0 L1398.9 1194.9 L1399.8 1194.9 L1400.8 1194.8 L1401.8 1194.8 L1402.7 1194.7 L1403.7 1194.7 L1404.7 1194.6 L1405.6 1194.6 L1406.6 1194.5 L1407.6 1194.5 L1408.6 1194.4 L1409.5 1194.4 L1410.5 1194.4 L1411.5 1194.3 L1412.4 1194.3 L1413.4 1194.2 L1414.4 1194.2 L1415.3 1194.1 L1416.3 1194.1 L1417.3 1194.1 L1418.3 1194.0 L1419.2 1194.0 L1420.2 1194.0 L1421.2 1193.9 L1422.1 1193.9 L1423.1 1193.9 L1424.1 1193.8 L1425.0 1193.8 L1426.0 1193.8 L1427.0 1193.7 L1428.0 1193.7 L1428.9 1193.7 L1429.9 1193.6 L1430.9 1193.6 L1431.8 1193.6 L1432.8 1193.5 L1433.8 1193.5 L1434.7 1193.5 L1435.7 1193.5 L1436.7 1193.4 L1437.7 1193.4 L1438.6 1193.4 L1439.6 1193.3 L1440.6 1193.3 L1441.5 1193.3 L1442.5 1193.3 L1443.5 1193.2 L1444.4 1193.2 L1445.4 1193.2 L1446.4 1193.2 L1447.4 1193.2 L1448.3 1193.1" fill="none" stroke="#aa8a2e" stroke-width="3" stroke-linejoin="round"/>
<path d="M1467.7 1201.0 L1469.7 1173.3 L1470.4 1178.0 L1471.4 1183.8 L1472.4 1189.7 L1473.4 1195.6 L1474.3 1201.5 L1475.3 1207.3 L1476.3 1213.2 L1477.2 1219.1 L1478.2 1224.9 L1479.2 1230.8 L1480.1 1236.6 L1481.1 1242.5 L1482.1 1248.3 L1483.0 1254.1 L1484.0 1259.9 L1485.0 1265.7 L1486.0 1271.5 L1486.9 1277.3 L1487.9 1283.0 L1488.9 1288.7 L1489.8 1294.3 L1490.8 1299.9 L1491.8 1305.5 L1492.8 1311.0 L1493.7 1316.3 L1494.7 1321.6 L1495.7 1326.8 L1496.6 1331.8 L1497.6 1336.7 L1498.6 1341.4 L1499.5 1345.8 L1500.5 1350.1 L1501.5 1354.1 L1502.5 1357.8 L1503.4 1361.3 L1504.4 1364.4 L1505.4 1367.3 L1506.3 1369.8 L1507.3 1372.1 L1508.3 1374.2 L1509.2 1376.1 L1510.2 1377.7 L1511.2 1379.1 L1512.2 1380.3 L1513.1 1381.3 L1514.1 1382.2 L1515.1 1383.0 L1516.0 1383.6 L1517.0 1384.2 L1518.0 1384.7 L1518.9 1385.1 L1519.9 1385.4 L1520.9 1385.7 L1521.8 1386.0 L1522.8 1386.3 L1523.8 1386.5 L1524.8 1386.7 L1525.7 1386.9 L1526.7 1387.0 L1527.7 1387.2 L1528.6 1387.3 L1529.6 1387.5 L1530.6 1387.6 L1531.5 1387.7 L1532.5 1387.8 L1533.5 1388.0 L1534.5 1388.1 L1535.4 1388.2 L1536.4 1388.3 L1537.4 1388.4 L1538.3 1388.5 L1539.3 1388.6 L1540.3 1388.7 L1541.2 1388.8 L1542.2 1388.9 L1543.2 1389.0 L1544.2 1389.1 L1545.1 1389.1 L1546.1 1389.2 L1547.1 1389.3 L1548.0 1389.4 L1549.0 1389.5 L1550.0 1389.6 L1551.0 1389.7 L1551.9 1389.7 L1552.9 1389.8 L1553.9 1389.9 L1554.8 1390.0 L1555.8 1390.1 L1556.8 1390.2 L1557.7 1390.2 L1558.7 1390.3 L1559.7 1390.4 L1560.7 1390.5 L1561.6 1390.5 L1562.6 1390.6 L1563.6 1390.7 L1564.5 1390.8 L1565.5 1390.8 L1566.5 1390.9 L1567.4 1391.0 L1568.4 1391.1 L1569.4 1391.1 L1570.3 1391.2 L1571.3 1391.3 L1572.3 1391.3 L1573.3 1391.4 L1574.2 1391.5 L1575.2 1391.5 L1576.2 1391.6 L1577.1 1391.7 L1578.1 1391.7 L1579.1 1391.8 L1580.0 1391.9 L1581.0 1391.9 L1582.0 1392.0 L1583.0 1392.1 L1583.9 1392.1 L1584.9 1392.2 L1585.9 1392.2 L1586.8 1392.3 L1587.8 1392.4 L1588.8 1392.4 L1589.8 1392.5 L1590.7 1392.5 L1591.7 1392.6 L1592.7 1392.6 L1593.6 1392.7 L1594.6 1392.8 L1595.6 1392.8 L1596.5 1392.9 L1597.5 1392.9 L1598.5 1393.0 L1599.5 1393.0 L1600.4 1393.1 L1601.4 1393.1 L1602.4 1393.2 L1603.3 1393.2 L1604.3 1393.3 L1605.3 1393.3 L1606.2 1393.4 L1607.2 1393.4 L1608.2 1393.5 L1609.2 1393.5 L1610.1 1393.6 L1611.1 1393.6 L1612.1 1393.7 L1613.0 1393.7 L1614.0 1393.8 L1615.0 1393.8 L1615.9 1393.9 L1616.9 1393.9 L1617.9 1394.0 L1618.8 1394.0 L1619.8 1394.0 L1620.8 1394.1 L1621.8 1394.1 L1622.7 1394.2 L1623.7 1394.2 L1624.7 1394.3 L1625.6 1394.3 L1626.6 1394.3 L1627.6 1394.4 L1628.5 1394.4 L1629.5 1394.5 L1630.5 1394.5 L1631.5 1394.5 L1632.4 1394.6 L1633.4 1394.6 L1634.4 1394.7 L1635.3 1394.7 L1636.3 1394.7 L1637.3 1394.8 L1638.2 1394.8 L1639.2 1394.9 L1640.2 1394.9 L1641.2 1394.9 L1642.1 1395.0 L1643.1 1395.0 L1644.1 1395.0 L1645.0 1395.1 L1646.0 1395.1 L1647.0 1395.1 L1648.0 1395.2 L1648.9 1395.2 L1649.9 1395.2 L1650.9 1395.3 L1651.8 1395.3 L1652.8 1395.3 L1653.8 1395.4 L1654.7 1395.4 L1655.7 1395.4 L1656.7 1395.5 L1657.7 1395.5 L1658.6 1395.5 L1659.6 1395.6 L1660.6 1395.6 L1661.5 1395.6 L1662.5 1395.6 L1663.5 1395.7 L1664.4 1395.7 L1665.4 1395.7 L1666.4 1395.8 L1667.3 1395.8 L1668.3 1395.8 L1669.3 1395.8 L1670.3 1395.9 L1671.2 1395.9 L1672.2 1395.9 L1673.2 1396.0 L1674.1 1396.0 L1675.1 1396.0 L1676.1 1396.0 L1677.0 1396.1 L1678.0 1396.1 L1679.0 1396.1 L1680.0 1396.1 L1680.9 1396.2 L1681.9 1396.2 L1682.9 1396.2 L1683.8 1396.2 L1684.8 1396.3 L1685.8 1396.3 L1686.8 1396.3 L1687.7 1396.3 L1688.7 1396.3 L1689.7 1396.4 L1690.6 1396.4 L1691.6 1396.4 L1692.6 1396.4 L1693.5 1396.5 L1694.5 1396.5 L1695.5 1396.5 L1696.5 1396.5 L1697.4 1396.5 L1698.4 1396.6 L1699.4 1396.6 L1700.3 1396.6 L1701.3 1396.6 L1702.3 1396.7 L1703.2 1396.7 L1704.2 1396.7 L1705.2 1396.7 L1706.2 1396.7 L1707.1 1396.7 L1708.1 1396.8 L1709.1 1396.8 L1710.0 1396.8 L1711.0 1396.8 L1712.0 1396.8 L1712.9 1396.9 L1713.9 1396.9 L1714.9 1396.9 L1715.8 1396.9 L1716.8 1396.9 L1717.8 1397.0 L1718.8 1397.0 L1719.7 1397.0 L1720.7 1397.0 L1721.7 1397.0 L1722.6 1397.0 L1723.6 1397.1 L1724.6 1397.1 L1725.5 1397.1 L1726.5 1397.1 L1727.5 1397.1 L1728.5 1397.1 L1729.4 1397.2 L1730.4 1397.2 L1731.4 1397.2 L1732.3 1397.2 L1733.3 1397.2 L1734.3 1397.2 L1735.2 1397.2 L1736.2 1397.3 L1737.2 1397.3 L1738.2 1397.3 L1739.1 1397.3 L1740.1 1397.3 L1741.1 1397.3 L1742.0 1397.3 L1743.0 1397.4 L1744.0 1397.4 L1745.0 1397.4 L1745.9 1397.4 L1746.9 1397.4 L1747.9 1397.4 L1748.8 1397.4 L1749.8 1397.5 L1750.8 1397.5 L1751.7 1397.5 L1752.7 1397.5 L1753.7 1397.5 L1754.7 1397.5 L1755.6 1397.5 L1756.6 1397.5 L1757.6 1397.6 L1758.5 1397.6 L1759.5 1397.6 L1760.5 1397.6 L1761.4 1397.6 L1762.4 1397.6 L1763.4 1397.6 L1764.3 1397.6 L1765.3 1397.6 L1766.3 1397.7 L1767.3 1397.7 L1768.2 1397.7 L1769.2 1397.7 L1770.2 1397.7 L1771.1 1397.7 L1772.1 1397.7 L1773.1 1397.7 L1774.1 1397.7 L1775.0 1397.8 L1776.0 1397.8 L1777.0 1397.8 L1777.9 1397.8 L1778.9 1397.8" fill="none" stroke="#aa8a2e" stroke-width="3" stroke-linejoin="round"/>
<text x="1458.0" y="1202.1" font-family="Liberation Sans" font-size="25" font-weight="bold" text-anchor="middle" fill="#2a3440" >H</text>
<path d="M1158.1 1404.8 L1162.0 1406.6 L1165.9 1407.5 L1169.7 1406.2 L1173.6 1405.1 L1177.5 1406.1 L1181.4 1407.8 L1185.3 1407.5 L1189.1 1405.9 L1193.0 1405.8 L1196.9 1407.6 L1200.8 1408.4 L1204.7 1407.1 L1208.5 1406.0 L1212.4 1407.1 L1216.3 1408.7 L1220.2 1408.4 L1224.1 1406.8 L1227.9 1406.8" fill="none" stroke="#b46cc0" stroke-width="3" stroke-linejoin="round"/>
<path d="M1235.7 1406.0 L1236.9 1435.0 L1238.8 1461.5 L1239.8 1455.1 L1240.7 1448.7 L1241.7 1442.3 L1242.7 1435.9 L1243.7 1429.5 L1244.6 1423.1 L1245.6 1416.7 L1246.6 1410.3 L1247.5 1403.9 L1248.5 1397.5 L1249.5 1391.1 L1250.4 1384.8 L1251.4 1378.4 L1252.4 1372.1 L1253.4 1365.7 L1254.3 1359.4 L1255.3 1353.1 L1256.3 1346.8 L1257.2 1340.5 L1258.2 1334.3 L1259.2 1328.1 L1260.1 1321.9 L1261.1 1315.8 L1262.1 1309.7 L1263.1 1303.6 L1264.0 1297.6 L1265.0 1291.7 L1266.0 1285.8 L1266.9 1280.1 L1267.9 1274.4 L1268.9 1268.8 L1269.8 1263.4 L1270.8 1258.1 L1271.8 1252.9 L1272.8 1247.9 L1273.7 1243.1 L1274.7 1238.4 L1275.7 1234.0 L1276.6 1229.8 L1277.6 1225.8 L1278.6 1222.0 L1279.5 1218.5 L1280.5 1215.1 L1281.5 1211.5 L1282.5 1208.1 L1283.4 1205.0 L1284.4 1202.2 L1285.4 1199.6 L1286.3 1197.1 L1287.3 1194.9 L1288.3 1192.9 L1289.2 1191.1 L1290.2 1189.4 L1291.2 1187.9 L1292.2 1186.5 L1293.1 1185.2 L1294.1 1184.1 L1295.1 1183.0 L1296.0 1182.0 L1297.0 1181.1 L1298.0 1180.3 L1298.9 1179.5 L1299.9 1178.8 L1300.9 1178.2 L1301.9 1177.5 L1302.8 1177.0 L1303.8 1176.4 L1304.8 1175.9 L1305.7 1175.4 L1306.7 1174.9 L1307.7 1174.5 L1308.6 1174.1 L1309.6 1173.7 L1310.6 1173.3 L1311.6 1172.9 L1312.5 1172.5 L1313.5 1172.2 L1314.5 1171.8 L1315.4 1171.5 L1316.4 1171.1 L1317.4 1170.8 L1318.3 1170.5 L1319.3 1170.2 L1320.3 1169.9 L1321.3 1169.6 L1322.2 1169.3 L1323.2 1169.1 L1324.2 1168.8 L1325.1 1168.5 L1326.1 1168.3 L1327.1 1168.0 L1328.0 1167.7 L1329.0 1167.5 L1330.0 1167.2 L1331.0 1167.0 L1331.9 1166.8 L1332.9 1166.5 L1333.9 1166.3 L1334.8 1166.1 L1335.8 1165.9 L1336.8 1165.7 L1337.7 1165.5 L1338.7 1165.2 L1339.7 1165.0 L1340.7 1164.8 L1341.6 1164.6 L1342.6 1164.4 L1343.6 1164.3 L1344.5 1164.1 L1345.5 1163.9 L1346.5 1163.7 L1347.4 1163.5 L1348.4 1163.4 L1349.4 1163.2 L1350.4 1163.0 L1351.3 1162.8 L1352.3 1162.7 L1353.3 1162.5 L1354.2 1162.4 L1355.2 1162.2 L1356.2 1162.0 L1357.1 1161.9 L1358.1 1161.7 L1359.1 1161.6 L1360.1 1161.5 L1361.0 1161.3 L1362.0 1161.2 L1363.0 1161.0 L1363.9 1160.9 L1364.9 1160.8 L1365.9 1160.6 L1366.8 1160.5 L1367.8 1160.4 L1368.8 1160.3 L1369.8 1160.2 L1370.7 1160.0 L1371.7 1159.9 L1372.7 1159.8 L1373.6 1159.7 L1374.6 1159.6 L1375.6 1159.5 L1376.5 1159.4 L1377.5 1159.2 L1378.5 1159.1 L1379.5 1159.0 L1380.4 1158.9 L1381.4 1158.8 L1382.4 1158.7 L1383.3 1158.6 L1384.3 1158.6 L1385.3 1158.5 L1386.2 1158.4 L1387.2 1158.3 L1388.2 1158.2 L1389.2 1158.1 L1390.1 1158.0 L1391.1 1157.9 L1392.1 1157.9 L1393.0 1157.8 L1394.0 1157.7 L1395.0 1157.6 L1395.9 1157.5 L1396.9 1157.5 L1397.9 1157.4 L1398.9 1157.3 L1399.8 1157.2 L1400.8 1157.2 L1401.8 1157.1 L1402.7 1157.0 L1403.7 1157.0 L1404.7 1156.9 L1405.6 1156.8 L1406.6 1156.8 L1407.6 1156.7 L1408.6 1156.6 L1409.5 1156.6 L1410.5 1156.5 L1411.5 1156.5 L1412.4 1156.4 L1413.4 1156.3 L1414.4 1156.3 L1415.3 1156.2 L1416.3 1156.2 L1417.3 1156.1 L1418.3 1156.1 L1419.2 1156.0 L1420.2 1156.0 L1421.2 1155.9 L1422.1 1155.9 L1423.1 1155.8 L1424.1 1155.8 L1425.0 1155.7 L1426.0 1155.7 L1427.0 1155.6 L1428.0 1155.6 L1428.9 1155.5 L1429.9 1155.5 L1430.9 1155.5 L1431.8 1155.4 L1432.8 1155.4 L1433.8 1155.3 L1434.7 1155.3 L1435.7 1155.3 L1436.7 1155.2 L1437.7 1155.2 L1438.6 1155.1 L1439.6 1155.1 L1440.6 1155.1 L1441.5 1155.0 L1442.5 1155.0 L1443.5 1155.0 L1444.4 1154.9 L1445.4 1154.9 L1446.4 1154.9 L1447.4 1154.8 L1448.3 1154.8" fill="none" stroke="#b46cc0" stroke-width="3" stroke-linejoin="round"/>
<path d="M1467.7 1162.7 L1469.7 1107.2 L1470.4 1113.3 L1471.4 1120.9 L1472.4 1128.6 L1473.4 1136.2 L1474.3 1143.9 L1475.3 1151.5 L1476.3 1159.2 L1477.2 1166.8 L1478.2 1174.5 L1479.2 1182.1 L1480.1 1189.7 L1481.1 1197.4 L1482.1 1205.0 L1483.0 1212.6 L1484.0 1220.2 L1485.0 1227.8 L1486.0 1235.3 L1486.9 1242.9 L1487.9 1250.4 L1488.9 1257.9 L1489.8 1265.3 L1490.8 1272.7 L1491.8 1280.0 L1492.8 1287.3 L1493.7 1294.4 L1494.7 1301.4 L1495.7 1308.3 L1496.6 1315.0 L1497.6 1321.5 L1498.6 1327.8 L1499.5 1333.8 L1500.5 1339.5 L1501.5 1344.8 L1502.5 1349.8 L1503.4 1354.3 L1504.4 1358.5 L1505.4 1362.2 L1506.3 1365.4 L1507.3 1368.3 L1508.3 1370.9 L1509.2 1373.1 L1510.2 1375.0 L1511.2 1376.7 L1512.2 1378.0 L1513.1 1379.2 L1514.1 1380.2 L1515.1 1381.0 L1516.0 1381.7 L1517.0 1382.2 L1518.0 1382.7 L1518.9 1383.1 L1519.9 1383.5 L1520.9 1383.8 L1521.8 1384.1 L1522.8 1384.3 L1523.8 1384.5 L1524.8 1384.7 L1525.7 1384.9 L1526.7 1385.1 L1527.7 1385.2 L1528.6 1385.4 L1529.6 1385.5 L1530.6 1385.7 L1531.5 1385.8 L1532.5 1385.9 L1533.5 1386.0 L1534.5 1386.1 L1535.4 1386.3 L1536.4 1386.4 L1537.4 1386.5 L1538.3 1386.6 L1539.3 1386.7 L1540.3 1386.8 L1541.2 1386.9 L1542.2 1387.0 L1543.2 1387.1 L1544.2 1387.2 L1545.1 1387.3 L1546.1 1387.4 L1547.1 1387.5 L1548.0 1387.6 L1549.0 1387.7 L1550.0 1387.8 L1551.0 1387.9 L1551.9 1388.0 L1552.9 1388.0 L1553.9 1388.1 L1554.8 1388.2 L1555.8 1388.3 L1556.8 1388.4 L1557.7 1388.5 L1558.7 1388.6 L1559.7 1388.7 L1560.7 1388.7 L1561.6 1388.8 L1562.6 1388.9 L1563.6 1389.0 L1564.5 1389.1 L1565.5 1389.1 L1566.5 1389.2 L1567.4 1389.3 L1568.4 1389.4 L1569.4 1389.5 L1570.3 1389.5 L1571.3 1389.6 L1572.3 1389.7 L1573.3 1389.8 L1574.2 1389.8 L1575.2 1389.9 L1576.2 1390.0 L1577.1 1390.1 L1578.1 1390.1 L1579.1 1390.2 L1580.0 1390.3 L1581.0 1390.3 L1582.0 1390.4 L1583.0 1390.5 L1583.9 1390.5 L1584.9 1390.6 L1585.9 1390.7 L1586.8 1390.7 L1587.8 1390.8 L1588.8 1390.9 L1589.8 1390.9 L1590.7 1391.0 L1591.7 1391.1 L1592.7 1391.1 L1593.6 1391.2 L1594.6 1391.2 L1595.6 1391.3 L1596.5 1391.4 L1597.5 1391.4 L1598.5 1391.5 L1599.5 1391.5 L1600.4 1391.6 L1601.4 1391.7 L1602.4 1391.7 L1603.3 1391.8 L1604.3 1391.8 L1605.3 1391.9 L1606.2 1391.9 L1607.2 1392.0 L1608.2 1392.1 L1609.2 1392.1 L1610.1 1392.2 L1611.1 1392.2 L1612.1 1392.3 L1613.0 1392.3 L1614.0 1392.4 L1615.0 1392.4 L1615.9 1392.5 L1616.9 1392.5 L1617.9 1392.6 L1618.8 1392.6 L1619.8 1392.7 L1620.8 1392.7 L1621.8 1392.8 L1622.7 1392.8 L1623.7 1392.9 L1624.7 1392.9 L1625.6 1392.9 L1626.6 1393.0 L1627.6 1393.0 L1628.5 1393.1 L1629.5 1393.1 L1630.5 1393.2 L1631.5 1393.2 L1632.4 1393.3 L1633.4 1393.3 L1634.4 1393.3 L1635.3 1393.4 L1636.3 1393.4 L1637.3 1393.5 L1638.2 1393.5 L1639.2 1393.5 L1640.2 1393.6 L1641.2 1393.6 L1642.1 1393.7 L1643.1 1393.7 L1644.1 1393.7 L1645.0 1393.8 L1646.0 1393.8 L1647.0 1393.9 L1648.0 1393.9 L1648.9 1393.9 L1649.9 1394.0 L1650.9 1394.0 L1651.8 1394.0 L1652.8 1394.1 L1653.8 1394.1 L1654.7 1394.1 L1655.7 1394.2 L1656.7 1394.2 L1657.7 1394.2 L1658.6 1394.3 L1659.6 1394.3 L1660.6 1394.3 L1661.5 1394.4 L1662.5 1394.4 L1663.5 1394.4 L1664.4 1394.5 L1665.4 1394.5 L1666.4 1394.5 L1667.3 1394.6 L1668.3 1394.6 L1669.3 1394.6 L1670.3 1394.7 L1671.2 1394.7 L1672.2 1394.7 L1673.2 1394.7 L1674.1 1394.8 L1675.1 1394.8 L1676.1 1394.8 L1677.0 1394.9 L1678.0 1394.9 L1679.0 1394.9 L1680.0 1394.9 L1680.9 1395.0 L1681.9 1395.0 L1682.9 1395.0 L1683.8 1395.1 L1684.8 1395.1 L1685.8 1395.1 L1686.8 1395.1 L1687.7 1395.2 L1688.7 1395.2 L1689.7 1395.2 L1690.6 1395.2 L1691.6 1395.3 L1692.6 1395.3 L1693.5 1395.3 L1694.5 1395.3 L1695.5 1395.4 L1696.5 1395.4 L1697.4 1395.4 L1698.4 1395.4 L1699.4 1395.4 L1700.3 1395.5 L1701.3 1395.5 L1702.3 1395.5 L1703.2 1395.5 L1704.2 1395.6 L1705.2 1395.6 L1706.2 1395.6 L1707.1 1395.6 L1708.1 1395.6 L1709.1 1395.7 L1710.0 1395.7 L1711.0 1395.7 L1712.0 1395.7 L1712.9 1395.7 L1713.9 1395.8 L1714.9 1395.8 L1715.8 1395.8 L1716.8 1395.8 L1717.8 1395.8 L1718.8 1395.9 L1719.7 1395.9 L1720.7 1395.9 L1721.7 1395.9 L1722.6 1395.9 L1723.6 1396.0 L1724.6 1396.0 L1725.5 1396.0 L1726.5 1396.0 L1727.5 1396.0 L1728.5 1396.0 L1729.4 1396.1 L1730.4 1396.1 L1731.4 1396.1 L1732.3 1396.1 L1733.3 1396.1 L1734.3 1396.1 L1735.2 1396.2 L1736.2 1396.2 L1737.2 1396.2 L1738.2 1396.2 L1739.1 1396.2 L1740.1 1396.2 L1741.1 1396.3 L1742.0 1396.3 L1743.0 1396.3 L1744.0 1396.3 L1745.0 1396.3 L1745.9 1396.3 L1746.9 1396.3 L1747.9 1396.4 L1748.8 1396.4 L1749.8 1396.4 L1750.8 1396.4 L1751.7 1396.4 L1752.7 1396.4 L1753.7 1396.4 L1754.7 1396.5 L1755.6 1396.5 L1756.6 1396.5 L1757.6 1396.5 L1758.5 1396.5 L1759.5 1396.5 L1760.5 1396.5 L1761.4 1396.6 L1762.4 1396.6 L1763.4 1396.6 L1764.3 1396.6 L1765.3 1396.6 L1766.3 1396.6 L1767.3 1396.6 L1768.2 1396.6 L1769.2 1396.7 L1770.2 1396.7 L1771.1 1396.7 L1772.1 1396.7 L1773.1 1396.7 L1774.1 1396.7 L1775.0 1396.7 L1776.0 1396.7 L1777.0 1396.7 L1777.9 1396.8 L1778.9 1396.8" fill="none" stroke="#b46cc0" stroke-width="3" stroke-linejoin="round"/>
<text x="1458.0" y="1163.8" font-family="Liberation Sans" font-size="25" font-weight="bold" text-anchor="middle" fill="#2a3440" >H</text>
<rect x="1680" y="1052.4" width="163.6" height="282.6" fill="#fff" stroke="#d6d6d6" stroke-width="2"/>
<text x="1689.0" y="1086.0" font-family="Liberation Sans" font-size="22" font-weight="normal" text-anchor="start" fill="#555" >Concentration</text>
<rect x="1690.4" y="1106.9" width="21" height="21" fill="#5ea6e0"/>
<text x="1722.0" y="1125.4" font-family="Liberation Sans" font-size="22" font-weight="normal" text-anchor="start" fill="#555" >1.56 μM</text>
<rect x="1690.4" y="1146.5" width="21" height="21" fill="#f6a03a"/>
<text x="1722.0" y="1165.0" font-family="Liberation Sans" font-size="22" font-weight="normal" text-anchor="start" fill="#555" >3.125 μM</text>
<rect x="1690.4" y="1185.1" width="21" height="21" fill="#4fbd5c"/>
<text x="1722.0" y="1203.6" font-family="Liberation Sans" font-size="22" font-weight="normal" text-anchor="start" fill="#555" >6.25 μM</text>
<rect x="1690.4" y="1223.5" width="21" height="21" fill="#ee72aa"/>
<text x="1722.0" y="1242.0" font-family="Liberation Sans" font-size="22" font-weight="normal" text-anchor="start" fill="#555" >12.5 μM</text>
<rect x="1690.4" y="1262.3" width="21" height="21" fill="#aa8a2e"/>
<text x="1722.0" y="1280.8" font-family="Liberation Sans" font-size="22" font-weight="normal" text-anchor="start" fill="#555" >25 μM</text>
<rect x="1690.4" y="1300.9" width="21" height="21" fill="#b46cc0"/>
<text x="1722.0" y="1319.4" font-family="Liberation Sans" font-size="22" font-weight="normal" text-anchor="start" fill="#555" >50 μM</text>
<ellipse cx="1251" cy="357" rx="58" ry="44" fill="url(#glowB)"/>
<ellipse cx="1168" cy="401" rx="30" ry="30" fill="url(#glowB)"/>
<ellipse cx="1222" cy="404" rx="30" ry="30" fill="url(#glowB)"/>
<ellipse cx="1141" cy="452" rx="38" ry="38" fill="url(#glowB)"/>
<ellipse cx="1108" cy="524" rx="46" ry="46" fill="url(#glowB)"/>
<ellipse cx="1167" cy="560" rx="62" ry="62" fill="url(#glowB)"/>
<ellipse cx="1251" cy="557" rx="38" ry="38" fill="url(#glowB)"/>
<ellipse cx="1313" cy="557" rx="34" ry="34" fill="url(#glowB)"/>
<ellipse cx="1345" cy="396" rx="24" ry="24" fill="url(#glowB)"/>
<ellipse cx="1424" cy="357" rx="18" ry="18" fill="url(#glowB)"/>
<ellipse cx="1522" cy="425" rx="42" ry="42" fill="url(#glowB)"/>
<path d="M1174 311 C1140 328 1110 350 1097 380 C1088 410 1090 440 1092 470 C1080 500 1066 530 1070 565 C1080 600 1100 625 1140 630 C1170 633 1195 633 1212 633 M1285 633 C1310 628 1325 618 1345 616 C1380 614 1410 614 1440 613 C1480 610 1510 605 1530 585 C1552 560 1548 525 1550 500 C1560 470 1585 450 1582 420 C1580 395 1565 375 1540 360 C1515 348 1500 335 1485 315 C1470 295 1450 285 1428 285 C1405 287 1392 305 1376 312 C1362 320 1345 318 1332 310 C1315 300 1300 290 1285 285" fill="none" stroke="#7a7a7a" stroke-width="3.6" stroke-dasharray="3.4 4.2"/>
<line x1="1424.7" y1="456.5" x2="1396.1" y2="506.1" stroke="#111" stroke-width="2.4"/><line x1="1396.1" y1="506.1" x2="1338.8" y2="506.1" stroke="#111" stroke-width="2.4"/><line x1="1338.8" y1="506.1" x2="1310.1" y2="456.5" stroke="#111" stroke-width="2.4"/><line x1="1310.1" y1="456.5" x2="1338.8" y2="406.9" stroke="#111" stroke-width="2.4"/><line x1="1338.8" y1="406.9" x2="1396.1" y2="406.9" stroke="#111" stroke-width="2.4"/><line x1="1396.1" y1="406.9" x2="1424.7" y2="456.5" stroke="#111" stroke-width="2.4"/><line x1="1338.8" y1="506.1" x2="1310.1" y2="555.7" stroke="#111" stroke-width="2.4"/><line x1="1310.1" y1="555.7" x2="1252.8" y2="555.7" stroke="#111" stroke-width="2.4"/><line x1="1252.8" y1="555.7" x2="1224.2" y2="506.1" stroke="#111" stroke-width="2.4"/><line x1="1224.2" y1="506.1" x2="1252.8" y2="456.5" stroke="#111" stroke-width="2.4"/><line x1="1252.8" y1="456.5" x2="1310.1" y2="456.5" stroke="#111" stroke-width="2.4"/><line x1="1310.1" y1="456.5" x2="1338.8" y2="506.1" stroke="#111" stroke-width="2.4"/><line x1="1252.8" y1="456.5" x2="1224.2" y2="506.1" stroke="#111" stroke-width="2.4"/><line x1="1224.2" y1="506.1" x2="1166.8" y2="506.1" stroke="#111" stroke-width="2.4"/><line x1="1166.8" y1="506.1" x2="1138.2" y2="456.5" stroke="#111" stroke-width="2.4"/><line x1="1138.2" y1="456.5" x2="1166.8" y2="406.9" stroke="#111" stroke-width="2.4"/><line x1="1166.8" y1="406.9" x2="1224.2" y2="406.9" stroke="#111" stroke-width="2.4"/><line x1="1224.2" y1="406.9" x2="1252.8" y2="456.5" stroke="#111" stroke-width="2.4"/><line x1="1411.6" y1="461.4" x2="1393.7" y2="492.3" stroke="#111" stroke-width="2.4"/><line x1="1263.6" y1="465.4" x2="1299.3" y2="465.4" stroke="#111" stroke-width="2.4"/><line x1="1255.1" y1="541.9" x2="1237.3" y2="511.0" stroke="#111" stroke-width="2.4"/><line x1="1325.6" y1="511.0" x2="1307.8" y2="541.9" stroke="#111" stroke-width="2.4"/><line x1="1342.1" y1="404.7" x2="1316.9" y2="364.9" stroke="#111" stroke-width="2.4"/><line x1="1335.4" y1="409.0" x2="1310.1" y2="369.1" stroke="#111" stroke-width="2.4"/><line x1="1399.5" y1="408.9" x2="1422.9" y2="369.0" stroke="#111" stroke-width="2.4"/><line x1="1392.6" y1="404.8" x2="1416.1" y2="365.0" stroke="#111" stroke-width="2.4"/><line x1="1299.5" y1="357.0" x2="1266.0" y2="357.0" stroke="#111" stroke-width="2.4"/><line x1="1396.1" y1="506.1" x2="1427.5" y2="540.0" stroke="#111" stroke-width="2.4"/><line x1="1440.5" y1="542.0" x2="1484.7" y2="524.5" stroke="#111" stroke-width="2.4"/><line x1="1484.7" y1="524.5" x2="1481.7" y2="465.0" stroke="#111" stroke-width="2.4"/><line x1="1481.7" y1="465.0" x2="1424.7" y2="456.5" stroke="#111" stroke-width="2.4"/><polygon points="1481.7,465.0 1522,426 1528,436" fill="#111"/><line x1="1166.8" y1="506.1" x2="1119.5" y2="531.4" stroke="#111" stroke-width="2.4"/><line x1="1166.8" y1="506.1" x2="1166.8" y2="562.7" stroke="#111" stroke-width="2.4"/>
<text x="1309.5" y="366.0" font-family="Liberation Sans" font-size="27" font-weight="bold" text-anchor="middle" fill="#1a1aee" >N</text>
<text x="1246.5" y="366.0" font-family="Liberation Sans" font-size="27" font-weight="bold" text-anchor="middle" fill="#e00c1c" >HO</text>
<text x="1424.0" y="366.0" font-family="Liberation Sans" font-size="27" font-weight="bold" text-anchor="middle" fill="#e00c1c" >O</text>
<text x="1435.0" y="554.0" font-family="Liberation Sans" font-size="27" font-weight="normal" text-anchor="middle" fill="#e00c1c" >O</text>
<path d="M1348 266 L1315 345" stroke="#129a12" stroke-width="3.5" stroke-dasharray="3 3" fill="none"/>
<path d="M1374 266 L1414 345" stroke="#129a12" stroke-width="3.5" stroke-dasharray="3 3" fill="none"/>
<polygon points="1310,345 1321,341 1313,352" fill="#129a12"/>
<polygon points="1410,343 1421,345 1417,353" fill="#129a12"/>
<circle cx="1365" cy="219" r="37" fill="#92c6f6"/>
<circle cx="1361.5" cy="235.8" r="29" fill="#e9c8f2" stroke="#0a0a90" stroke-width="3.5"/>
<text transform="translate(1361.5,234.8) scale(0.9,1.0)" font-family="Liberation Sans" font-size="19" font-weight="normal" text-anchor="middle" fill="#2a2a2a" >Lys</text>
<text transform="translate(1361.5,252.8) scale(0.9,1.0)" font-family="Liberation Sans" font-size="15.5" font-weight="normal" text-anchor="middle" fill="#2a2a2a" >591</text>
<circle cx="1530.5" cy="270.7" r="29" fill="#ecccf2" stroke="#c01818" stroke-width="3.5"/>
<text transform="translate(1530.5,269.7) scale(0.9,1.0)" font-family="Liberation Sans" font-size="19" font-weight="normal" text-anchor="middle" fill="#2a2a2a" >Glu</text>
<text transform="translate(1530.5,287.7) scale(0.9,1.0)" font-family="Liberation Sans" font-size="15.5" font-weight="normal" text-anchor="middle" fill="#2a2a2a" >638</text>
<circle cx="1637.2" cy="329.4" r="29" fill="#ecccf2" stroke="#666" stroke-width="1.8"/>
<text transform="translate(1637.2,328.4) scale(0.9,1.0)" font-family="Liberation Sans" font-size="19" font-weight="normal" text-anchor="middle" fill="#2a2a2a" >Thr</text>
<text transform="translate(1637.2,346.4) scale(0.9,1.0)" font-family="Liberation Sans" font-size="15.5" font-weight="normal" text-anchor="middle" fill="#2a2a2a" >620</text>
<circle cx="1680" cy="466" r="31" fill="#cfe6fa"/>
<circle cx="1677.6" cy="466.6" r="29" fill="#c8f4c0" stroke="#666" stroke-width="1.8"/>
<text transform="translate(1677.6,465.6) scale(0.9,1.0)" font-family="Liberation Sans" font-size="19" font-weight="normal" text-anchor="middle" fill="#2a2a2a" >Pro</text>
<text transform="translate(1677.6,483.6) scale(0.9,1.0)" font-family="Liberation Sans" font-size="15.5" font-weight="normal" text-anchor="middle" fill="#2a2a2a" >639</text>
<circle cx="1633.4" cy="592.4" r="29" fill="#e9c8f2" stroke="#0a0a90" stroke-width="3.5"/>
<text transform="translate(1633.4,591.4) scale(0.9,1.0)" font-family="Liberation Sans" font-size="19" font-weight="normal" text-anchor="middle" fill="#2a2a2a" >Arg</text>
<text transform="translate(1633.4,609.4) scale(0.9,1.0)" font-family="Liberation Sans" font-size="15.5" font-weight="normal" text-anchor="middle" fill="#2a2a2a" >609</text>
<circle cx="1526.7" cy="671" r="29" fill="#c8f4c0" stroke="#666" stroke-width="1.8"/>
<text transform="translate(1526.7,670.0) scale(0.9,1.0)" font-family="Liberation Sans" font-size="19" font-weight="normal" text-anchor="middle" fill="#2a2a2a" >Val</text>
<text transform="translate(1526.7,688.0) scale(0.9,1.0)" font-family="Liberation Sans" font-size="15.5" font-weight="normal" text-anchor="middle" fill="#2a2a2a" >637</text>
<circle cx="1353.6" cy="708" r="37" fill="#6caef2"/>
<circle cx="1349.8" cy="692.3" r="29" fill="#e9c8f2" stroke="#666" stroke-width="1.8"/>
<text transform="translate(1349.8,691.3) scale(0.9,1.0)" font-family="Liberation Sans" font-size="19" font-weight="normal" text-anchor="middle" fill="#2a2a2a" >Ser</text>
<text transform="translate(1349.8,709.3) scale(0.9,1.0)" font-family="Liberation Sans" font-size="15.5" font-weight="normal" text-anchor="middle" fill="#2a2a2a" >636</text>
<circle cx="1076" cy="697" r="34" fill="#9ccaf6"/>
<circle cx="1079" cy="690" r="29" fill="#e9c8f2" stroke="#666" stroke-width="1.8"/>
<text transform="translate(1079.0,689.0) scale(0.9,1.0)" font-family="Liberation Sans" font-size="19" font-weight="normal" text-anchor="middle" fill="#2a2a2a" >Gln</text>
<text transform="translate(1079.0,707.0) scale(0.9,1.0)" font-family="Liberation Sans" font-size="15.5" font-weight="normal" text-anchor="middle" fill="#2a2a2a" >635</text>
<path d="M155 226 C230 222 320 226 406 244 C455 256 500 274 530 290 C540 296 541 303 540 311 L537 312 C505 300 470 285 430 276 C400 270 380 268 350 268 C300 270 250 274 155 278 C140 270 140 234 155 226 Z" fill="url(#rib1)"/><path d="M510 284 C525 290 538 296 540 311 L537 312 C530 302 520 296 506 292 Z" fill="#9a9a9a"/><ellipse cx="152" cy="252" rx="6" ry="25" fill="#a8a8a8"/><path d="M414 318 C410 310 390 309 365 309 C340 310 315 320 293 340 C278 352 262 363 240 370 C215 376 190 378 176 386 C166 392 164 400 168 412 L182 440 C186 424 196 418 215 408 C240 396 265 380 293 361 C315 342 338 330 365 326 C385 324 405 326 414 318 Z" fill="url(#rib2)"/><path d="M168 400 C178 430 196 450 198 470 C200 500 192 540 182 580 C178 600 175 615 172 628 L160 624 C164 600 168 570 174 540 C180 500 182 470 172 440 C166 425 164 410 168 400 Z" fill="url(#rib3)" stroke="#8a8a8a" stroke-width="1"/><path d="M41 526 C70 532 95 548 115 568 C130 586 145 606 168 627" fill="none" stroke="#a4a4a4" stroke-width="21" stroke-linecap="butt" stroke-linejoin="round"/><path d="M41 526 C70 532 95 548 115 568 C130 586 145 606 168 627" fill="none" stroke="#d8d8d8" stroke-width="15.1" stroke-linecap="butt" stroke-linejoin="round"/><path d="M41 526 C70 532 95 548 115 568 C130 586 145 606 168 627" fill="none" stroke="#fcfcfc" stroke-width="6.7" stroke-linecap="butt" stroke-linejoin="round" transform="translate(0,-2)"/><path d="M243 108 C262 140 285 172 310 192 C330 207 360 217 400 224 C440 230 500 234 545 232 C565 229 575 234 585 250 C595 268 605 292 625 314 C645 335 670 346 700 362 C730 380 752 400 768 422 C785 445 805 470 843 482 C880 494 930 496 967 482" fill="none" stroke="url(#tubeg2)" stroke-width="17" stroke-linecap="butt" stroke-linejoin="round"/><path d="M243 108 C262 140 285 172 310 192 C330 207 360 217 400 224 C440 230 500 234 545 232 C565 229 575 234 585 250 C595 268 605 292 625 314 C645 335 670 346 700 362 C730 380 752 400 768 422 C785 445 805 470 843 482 C880 494 930 496 967 482" fill="none" stroke="url(#tubeg)" stroke-width="12.2" stroke-linecap="butt" stroke-linejoin="round"/><path d="M243 108 C262 140 285 172 310 192 C330 207 360 217 400 224 C440 230 500 234 545 232 C565 229 575 234 585 250 C595 268 605 292 625 314 C645 335 670 346 700 362 C730 380 752 400 768 422 C785 445 805 470 843 482 C880 494 930 496 967 482" fill="none" stroke="url(#tubeg3)" stroke-width="5.4" stroke-linecap="butt" stroke-linejoin="round" transform="translate(0,-2)"/><circle cx="967" cy="482" r="8" fill="#9a9a9a" stroke="#6a6a6a" stroke-width="1.5"/><path d="M327 688 C345 705 380 718 424 720 C460 720 490 712 525 720 C545 730 556 748 552 770 C548 786 530 794 512 792 L500 780 C512 782 530 778 534 764 C538 748 528 736 515 733 C490 728 460 734 424 734 C380 734 345 722 322 700 Z" fill="#8d8d8d" stroke="#6a6a6a" stroke-width="1.5"/><path d="M330 692 C350 708 385 720 424 722 C460 722 490 714 520 722" fill="none" stroke="#c4c4c4" stroke-width="4"/><polyline points="308.6,195.4 320,229.3 286,270.7 278.5,300.8 312.4,316 380,316" fill="none" stroke="#8c8c8c" stroke-width="2.4" stroke-linejoin="round"/><polyline points="320,229.3 352,236.8" fill="none" stroke="#8c8c8c" stroke-width="2.4" stroke-linejoin="round"/><polyline points="352,236.8 382,244.4 391.4,238.7" fill="none" stroke="#1a2ad8" stroke-width="3" stroke-linejoin="round"/><polyline points="382,244.4 380,274.5" fill="none" stroke="#1a2ad8" stroke-width="3" stroke-linejoin="round"/><polyline points="380,274.5 391.4,289.5 391.4,349.8" fill="none" stroke="#8c8c8c" stroke-width="2.4" stroke-linejoin="round"/><polyline points="391.4,289.5 421.6,282" fill="none" stroke="#8c8c8c" stroke-width="2.4" stroke-linejoin="round"/><polyline points="421.6,282 451.7,270.7" fill="none" stroke="#d01818" stroke-width="3" stroke-linejoin="round"/><polyline points="431,182.2 431,210.5 414,223.7" fill="none" stroke="#8c8c8c" stroke-width="2.4" stroke-linejoin="round"/><polyline points="431,210.5 466.7,229.3" fill="none" stroke="#8c8c8c" stroke-width="2.4" stroke-linejoin="round"/><polyline points="431,156 431,182.2" fill="none" stroke="#d01818" stroke-width="5" stroke-linejoin="round"/><polyline points="459.2,214.2 476.2,204.8" fill="none" stroke="#d01818" stroke-width="3" stroke-linejoin="round"/><polyline points="468.6,225.5 500.6,187.9" fill="none" stroke="#555" stroke-width="3" stroke-linejoin="round"/><polyline points="500.6,187.9 515.7,171" fill="none" stroke="#8c8c8c" stroke-width="2.4" stroke-linejoin="round"/><polyline points="515.7,171 537,156" fill="none" stroke="#d01818" stroke-width="3" stroke-linejoin="round"/><polyline points="293.6,152 301,165.3" fill="none" stroke="#8a1010" stroke-width="5" stroke-linejoin="round"/><polyline points="585,117.4 587,161.7 585,227.3 585,250" fill="none" stroke="#8c8c8c" stroke-width="2.4" stroke-linejoin="round"/><polyline points="542.7,152 587,161.7" fill="none" stroke="#8c8c8c" stroke-width="2.4" stroke-linejoin="round"/><polyline points="495,232 510,226" fill="none" stroke="#1a2ad8" stroke-width="3" stroke-linejoin="round"/><line x1="478" y1="270.7" x2="585" y2="266.6" stroke="#6a7a9a" stroke-width="2" stroke-dasharray="2 3"/><polyline points="625.6,300.5 623.7,331.4 577.4,381.5 568,400" fill="none" stroke="#8c8c8c" stroke-width="2.4" stroke-linejoin="round"/><polyline points="625.6,300.5 647,300.5" fill="none" stroke="#8c8c8c" stroke-width="2.4" stroke-linejoin="round"/><polyline points="647,300.5 672,301" fill="none" stroke="#d01818" stroke-width="4" stroke-linejoin="round"/><polyline points="568,400 565,406" fill="none" stroke="#8a1010" stroke-width="3.5" stroke-linejoin="round"/><polyline points="623.7,331.4 650,346" fill="none" stroke="#8c8c8c" stroke-width="2.4" stroke-linejoin="round"/><polyline points="650,346 666,354.5" fill="none" stroke="#1a2ad8" stroke-width="3" stroke-linejoin="round"/><line x1="566" y1="404" x2="600" y2="387" stroke="#6a7a9a" stroke-width="2" stroke-dasharray="2 3"/><polyline points="863,302 886,332 937,332" fill="none" stroke="#8c8c8c" stroke-width="2.4" stroke-linejoin="round"/><polyline points="886,332 850,365 800,350" fill="none" stroke="#8c8c8c" stroke-width="2.4" stroke-linejoin="round"/><polyline points="911,332 937,332" fill="none" stroke="#d01818" stroke-width="4" stroke-linejoin="round"/><polyline points="863,302 873,315" fill="none" stroke="#1a2ad8" stroke-width="3" stroke-linejoin="round"/><polyline points="702,492 758,514 765,521 735,550" fill="none" stroke="#8c8c8c" stroke-width="2.4" stroke-linejoin="round"/><polyline points="758,514 790,488 782,444" fill="none" stroke="#8c8c8c" stroke-width="2.4" stroke-linejoin="round"/><polyline points="793,470 798,490" fill="none" stroke="#d01818" stroke-width="3" stroke-linejoin="round"/><polyline points="826,487 849,498" fill="none" stroke="#1a2ad8" stroke-width="3" stroke-linejoin="round"/><polyline points="798,490 826,487" fill="none" stroke="#a0a0a0" stroke-width="2" stroke-linejoin="round"/><polyline points="262.6,388 286.9,440.6 315,460.8 343.4,513.3 347.5,541.6" fill="none" stroke="#8c8c8c" stroke-width="2.4" stroke-linejoin="round"/><polyline points="347.5,541.6 379.8,533.5 400,509.3 414,489" fill="none" stroke="#1a2ad8" stroke-width="2.6" stroke-linejoin="round"/><polyline points="379.8,533.5 381.8,565.9" fill="none" stroke="#1a2ad8" stroke-width="3.5" stroke-linejoin="round"/><polyline points="379.8,533.5 395,515" fill="none" stroke="#8c8c8c" stroke-width="2.4" stroke-linejoin="round"/><polyline points="105,497.2 133.3,498" fill="none" stroke="#d01818" stroke-width="4" stroke-linejoin="round"/><polyline points="133.3,498 161.6,497.2 192,442" fill="none" stroke="#b4b4b4" stroke-width="2.4" stroke-linejoin="round"/><polyline points="161.6,497.2 174,520" fill="none" stroke="#b4b4b4" stroke-width="2.4" stroke-linejoin="round"/><polyline points="161.6,630.5 141.4,658.8" fill="none" stroke="#c8c8c8" stroke-width="2.4" stroke-linejoin="round"/><polyline points="141.4,658.8 129.3,681" fill="none" stroke="#d01818" stroke-width="3" stroke-linejoin="round"/><polyline points="161.6,630.5 210,638.6 230.3,660.8 254.5,642.6" fill="none" stroke="#c8c8c8" stroke-width="2.4" stroke-linejoin="round"/><polyline points="254.5,642.6 282.8,618.4" fill="none" stroke="#d01818" stroke-width="3" stroke-linejoin="round"/><polyline points="210,638.6 194,695 238.4,723.4" fill="none" stroke="#8c8c8c" stroke-width="2.4" stroke-linejoin="round"/><polyline points="238.4,723.4 264,716" fill="none" stroke="#8c8c8c" stroke-width="2.4" stroke-linejoin="round"/><polyline points="264,716 291,713.3" fill="none" stroke="#d01818" stroke-width="4" stroke-linejoin="round"/><polyline points="238.4,723.4 232,742" fill="none" stroke="#8c8c8c" stroke-width="2.4" stroke-linejoin="round"/><polyline points="232,742 224,755.8" fill="none" stroke="#d01818" stroke-width="3" stroke-linejoin="round"/><polyline points="141.4,588 165.7,589" fill="none" stroke="#8a1010" stroke-width="5" stroke-linejoin="round"/><polyline points="189,537 194,546 186,566" fill="none" stroke="#1a2ad8" stroke-width="2.6" stroke-linejoin="round"/><polyline points="179,607 177,619" fill="none" stroke="#1a2ad8" stroke-width="3" stroke-linejoin="round"/><polyline points="180,460 186,475" fill="none" stroke="#d01818" stroke-width="3" stroke-linejoin="round"/><polyline points="521,715.4 537.4,691 513,683 537.4,671 521,658.8 540,660" fill="none" stroke="#666" stroke-width="2.5" stroke-linejoin="round"/><polyline points="540,660 551,664" fill="none" stroke="#1a2ad8" stroke-width="3" stroke-linejoin="round"/><polyline points="455,720 470,716" fill="none" stroke="#1a2ad8" stroke-width="3" stroke-linejoin="round"/><polyline points="545,740 575,724" fill="none" stroke="#d01818" stroke-width="3" stroke-linejoin="round"/><line x1="537" y1="533" x2="519" y2="658" stroke="#6aa8cc" stroke-width="2.2" stroke-dasharray="3 3"/><line x1="620" y1="568" x2="551" y2="661" stroke="#6aa8cc" stroke-width="2.2" stroke-dasharray="3 3"/><line x1="597" y1="604" x2="585" y2="619" stroke="#8ec4e0" stroke-width="5.5" stroke-linecap="round"/><line x1="527" y1="585" x2="526" y2="600" stroke="#8ec4e0" stroke-width="5" stroke-linecap="round"/>
<line x1="438.6" y1="389.2" x2="465" y2="385" stroke="#1b5a17" stroke-width="7" stroke-linecap="round"/><line x1="533" y1="419.3" x2="515.7" y2="458.6" stroke="#1b5a17" stroke-width="7" stroke-linecap="round"/><line x1="515.7" y1="458.6" x2="452" y2="449" stroke="#1b5a17" stroke-width="7" stroke-linecap="round"/><line x1="452" y1="449" x2="438.6" y2="389.2" stroke="#1b5a17" stroke-width="7" stroke-linecap="round"/><line x1="533" y1="419.3" x2="592.8" y2="416.2" stroke="#1b5a17" stroke-width="7" stroke-linecap="round"/><line x1="592.8" y1="416.2" x2="633.3" y2="455.6" stroke="#1b5a17" stroke-width="7" stroke-linecap="round"/><line x1="633.3" y1="455.6" x2="610.2" y2="505" stroke="#1b5a17" stroke-width="7" stroke-linecap="round"/><line x1="610.2" y1="505" x2="552.3" y2="499.1" stroke="#1b5a17" stroke-width="7" stroke-linecap="round"/><line x1="552.3" y1="499.1" x2="515.7" y2="458.6" stroke="#1b5a17" stroke-width="7" stroke-linecap="round"/><line x1="592.8" y1="416.2" x2="614" y2="370" stroke="#1b5a17" stroke-width="7" stroke-linecap="round"/><line x1="614" y1="370" x2="677.6" y2="361.5" stroke="#1b5a17" stroke-width="7" stroke-linecap="round"/><line x1="677.6" y1="361.5" x2="720" y2="393" stroke="#1b5a17" stroke-width="7" stroke-linecap="round"/><line x1="720" y1="393" x2="697" y2="441.3" stroke="#1b5a17" stroke-width="7" stroke-linecap="round"/><line x1="697" y1="441.3" x2="633.3" y2="455.6" stroke="#1b5a17" stroke-width="7" stroke-linecap="round"/><line x1="720" y1="393" x2="785.6" y2="383.4" stroke="#1b5a17" stroke-width="7" stroke-linecap="round"/><line x1="785.6" y1="383.4" x2="822.3" y2="418.2" stroke="#1b5a17" stroke-width="7" stroke-linecap="round"/><line x1="822.3" y1="418.2" x2="783.7" y2="433.6" stroke="#1b5a17" stroke-width="7" stroke-linecap="round"/><line x1="783.7" y1="433.6" x2="735.5" y2="472" stroke="#1b5a17" stroke-width="7" stroke-linecap="round"/><line x1="735.5" y1="472" x2="697" y2="441.3" stroke="#1b5a17" stroke-width="7" stroke-linecap="round"/><line x1="785.6" y1="383.4" x2="791.4" y2="312" stroke="#1b5a17" stroke-width="7" stroke-linecap="round"/><line x1="785.6" y1="383.4" x2="810.7" y2="387.3" stroke="#1b5a17" stroke-width="7" stroke-linecap="round"/><line x1="452" y1="449" x2="415.4" y2="492" stroke="#1b5a17" stroke-width="7" stroke-linecap="round"/><line x1="465" y1="385" x2="490.6" y2="380.7" stroke="#c01010" stroke-width="7" stroke-linecap="round"/><line x1="490.6" y1="380.7" x2="510" y2="400" stroke="#c01010" stroke-width="7" stroke-linecap="round"/><line x1="510" y1="400" x2="533" y2="419.3" stroke="#1b5a17" stroke-width="7" stroke-linecap="round"/><line x1="533" y1="419.3" x2="515.7" y2="458.6" stroke="#1b5a17" stroke-width="11" stroke-linecap="round"/><line x1="592.8" y1="416.2" x2="633.3" y2="455.6" stroke="#1b5a17" stroke-width="10.5" stroke-linecap="round"/><line x1="614" y1="370" x2="677.6" y2="361.5" stroke="#1b5a17" stroke-width="10" stroke-linecap="round"/><line x1="720" y1="393" x2="697" y2="441.3" stroke="#1b5a17" stroke-width="10" stroke-linecap="round"/><line x1="552.3" y1="499.1" x2="546" y2="515" stroke="#1b5a17" stroke-width="7" stroke-linecap="round"/><line x1="546" y1="515" x2="541" y2="526" stroke="#7a0a0a" stroke-width="10" stroke-linecap="round"/><line x1="610.2" y1="505" x2="616" y2="530" stroke="#1b5a17" stroke-width="7" stroke-linecap="round"/><line x1="616" y1="530" x2="621" y2="556" stroke="#1a2ad8" stroke-width="7" stroke-linecap="round"/><line x1="621" y1="556" x2="645" y2="565" stroke="#1a2ad8" stroke-width="6" stroke-linecap="round"/><line x1="645" y1="565" x2="670.7" y2="571.6" stroke="#c01010" stroke-width="6" stroke-linecap="round"/><line x1="670.7" y1="571.6" x2="686" y2="540" stroke="#888" stroke-width="6" stroke-linecap="round"/>
<text x="320.0" y="191.7" font-family="Liberation Serif" font-size="29" font-weight="bold" text-anchor="start" fill="#22281a" filter="url(#lblglow)">Pro 639</text>
<text x="446.3" y="192.6" font-family="Liberation Serif" font-size="29" font-weight="bold" text-anchor="start" fill="#22281a" filter="url(#lblglow)">Glu&#160; 638</text>
<text x="581.0" y="227.3" font-family="Liberation Serif" font-size="29" font-weight="bold" text-anchor="start" fill="#22281a" filter="url(#lblglow)">Val 637</text>
<text x="276.6" y="295.2" font-family="Liberation Serif" font-size="29" font-weight="bold" text-anchor="start" fill="#22281a" filter="url(#lblglow)">Thr 620</text>
<text x="666.0" y="344.9" font-family="Liberation Serif" font-size="29" font-weight="bold" text-anchor="start" fill="#22281a" filter="url(#lblglow)">Ser 636</text>
<text x="845.4" y="375.7" font-family="Liberation Serif" font-size="29" font-weight="bold" text-anchor="start" fill="#22281a" filter="url(#lblglow)">Gln 635</text>
<text x="311.0" y="422.4" font-family="Liberation Serif" font-size="29" font-weight="bold" text-anchor="start" fill="#22281a" filter="url(#lblglow)">Arg 609</text>
<text x="410.0" y="693.0" font-family="Liberation Serif" font-size="29" font-weight="bold" text-anchor="start" fill="#22281a" filter="url(#lblglow)">Lys 591</text>
</svg>
</body></html>
